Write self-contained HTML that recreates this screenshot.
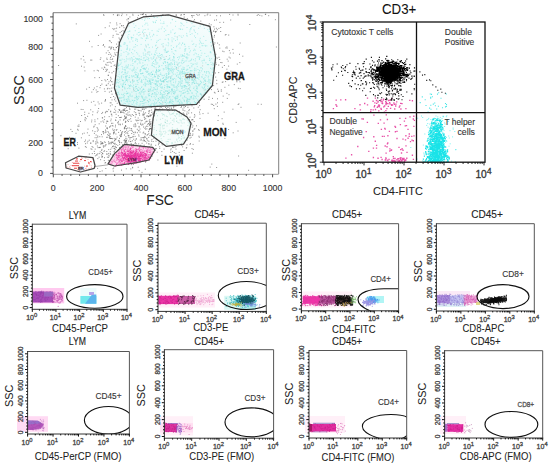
<!DOCTYPE html>
<html><head><meta charset="utf-8"><style>
html,body{margin:0;padding:0;background:#fff;}
svg{display:block;}
text{font-family:"Liberation Sans",sans-serif;}
</style></head><body>
<svg width="550" height="469" viewBox="0 0 550 469">
<rect width="550" height="469" fill="#fff"/>
<defs><linearGradient id="gg" x1="0" y1="0" x2="0" y2="1"><stop offset="0" stop-color="#f8fdfd"/><stop offset="0.45" stop-color="#ebfafa"/><stop offset="1" stop-color="#def7f5"/></linearGradient></defs>
<polygon points="128.4,23.4 143.7,16.8 168.5,14.9 209.9,26.3 215.6,57.4 212.4,85.5 196.5,104.4 138.0,107.4 120.2,105.2 114.4,88.0 119.4,42.8" fill="url(#gg)" stroke="none" stroke-width="0" stroke-linejoin="round"/>
<polygon points="155.0,109.6 176.0,110.2 187.0,117.0 191.0,123.2 188.0,137.0 183.5,144.2 166.4,146.4 151.4,135.2 153.0,119.0" fill="#f7fdfc" stroke="none" stroke-width="0" stroke-linejoin="round"/>
<path transform="scale(.1)" stroke="#5e5e5e" stroke-opacity="0.75" stroke-width="9" stroke-linecap="square" fill="none" d="M1435 137h0m-213 3h0m856 0h0m579 1h0m-1329 1h0m1052 0h0m-971 2h0m14-1h0m2 1h0m6 0h0m865 0h0m-1118 0h0m451 1h0m214-1h0m125 0h0m-512 2h0m384 0h0m742-1h0m72 0h0m-1520 2h0m380 0h0m299 0h0m-778 1h0m727-1h0m-495 2h0m727-1h0m336 2h0m-1139 1h0m881-1h0m-610 1h0m347 1h0m293 0h0m-1062 1h0m134 0h0m156 0h0m1051-1h0m-997 2h0m273 1h0m105 0h0m155 0h0m62-1h0m619 0h0m-1422 2h0m763-1h0m633 0h0m-1356 1h0m492 0h0m979 1h0m-765 0h0m127 0h0m118 0h0m38 1h0m-668 1h0m1082 0h0m-1182 8h0m-138 3h0m543 1h0m81 0h0m-547 7h0m-94 8h0m591 0h0m-587 3h0m659 8h0m809 0h0m-1484 1h0m895 1h0m142 1h0m-161 2h0m-210 9h0m72 0h0m-725 7h0m953 5h0m-37 1h0m-1097 4h0m64 2h0m35 7h0m892 1h0m-1330 1h0m1735 6h0m-386 3h0m-943 1h0m47 7h0m19 1h0m850 1h0m-866 1h0m-125 1h0m1045 8h0m-942 5h0m1010 2h0m-1155 2h0m188 0h0m-74 5h0m998 1h0m25 1h0m-1060 2h0m20 0h0m996 5h0m-1007 5h0m1035 1h0m-943 10h0m906 3h0m-976 2h0m979 1h0m-925 1h0m948 0h0m-921 0h0m915 1h0m51 0h0m-51 8h0m-955 3h0m915 2h0m-1105 12h0m157 1h0m13 3h0m1079 1h0m-7 5h0m34 1h0m-1072 2h0m-229 1h0m146 0h0m1013 0h0m-2 16h0m-1014 2h0m61 8h0m7 12h0m933 2h0m-1036 13h0m9 4h0m-208 2h0m288 7h0m-69 6h0m1035 3h0m253 1h0m-226 1h0m-1010 10h0m974 2h0m-1105 3h0m1158 2h0m-998 3h0m-213 4h0m50 0h0m145 9h0m-130 4h0m-127 0h0m1349 1h0m-1171 1h0m1666 0h0m-1646 1h0m-28 1h0m72 2h0m-50 0h0m53 2h0m-30 1h0m1123 2h0m13 2h0m-73 1h0m-1086 4h0m-5 4h0m28 2h0m1194 2h0m-1180 5h0m1145 7h0m-1213 1h0m1146 5h0m13 5h0m-1070 8h0m-77 1h0m-30 3h0m85 0h0m1155 1h0m30 1h0m-1227 11h0m46 2h0m1006-1h0m237 0h0m-1307 2h0m70 7h0m-42 7h0m1312 3h0m-1594 2h0m304 0h0m1153 7h0m-1185 3h0m1084-1h0m-1182 5h0m1294 2h0m-129 1h0m-1105 1h0m-257 7h0m315 0h0m1146 3h0m-1169 0h0m-100 2h0m68 1h0m1126 0h0m-1077 0h0m-281 5h0m68 1h0m11 0h0m120 10h0m1244 0h0m-1152 4h0m-28 6h0m-251 2h0m238 0h0m1119 2h0m190 1h0m-1325 0h0m1085 2h0m62-1h0m-1108 4h0m1261 10h0m-1315 2h0m1105 1h0m-1014 5h0m1038 2h0m-1124 0h0m17 1h0m1164 3h0m-1658 0h0m556 1h0m1144 5h0m-1471 1h0m344 1h0m-47 1h0m-270 7h0m202 0h0m1180 2h0m-1176 3h0m-28 4h0m136 8h0m-121 5h0m25 0h0m1209-1h0m-1196 2h0m-100 9h0m94 2h0m-126 3h0m-92 1h0m136 0h0m1324 3h0m-1172 2h0m-78 1h0m33 8h0m1095 3h0m-1067 2h0m1035 2h0m-1072 21h0m0 4h0m77 3h0m997 13h0m-1050 2h0m-159 4h0m46-1h0m1380 5h0m-1263 7h0m-36 7h0m-26 3h0m1118 5h0m-1149 2h0m87-1h0m-47 5h0m1309-1h0m-111 8h0m-1143 0h0m-23 2h0m31 0h0m1248 0h0m31 0h0m-170 1h0m-7 4h0m-1140 14h0m1085 0h0m-1149 4h0m109 2h0m1215 3h0m-55 6h0m-1221 0h0m37 0h0m-42 1h0m-56 2h0m1130 1h0m-1166 10h0m1279 7h0m-1356 1h0m107 3h0m-56 3h0m174 1h0m1266 2h0m-1305 0h0m1323 3h0m-1304 1h0m-54 2h0m30 0h0m-208 2h0m1311 1h0m-62 4h0m-1181 0h0m1279 2h0m-1251 2h0m152 10h0m1071 2h0m28 0h0m-1163 2h0m1133 0h0m-1070 0h0m-134 1h0m-61 6h0m176 0h0m-126 1h0m1176 1h0m-989 3h0m996 4h0m118 3h0m-1114 3h0m-34 6h0m1169 5h0m-1129 2h0m1071 12h0m-1096 4h0m955 6h0m-984 4h0m44 5h0m974 4h0m148 0h0m-98 4h0m-134 4h0m-986 3h0m1033-1h0m-942 3h0m-26 2h0m-251 4h0m318 1h0m-351 2h0m219 1h0m103 4h0m-109 0h0m-111 3h0m43 6h0m-67 2h0m1313 1h0m-233 4h0m181 1h0m-1073 0h0m93 0h0m-84 1h0m-95 2h0m-241 1h0m397 1h0m1217 5h0m-1398 1h0m1168 2h0m421 1h0m-467 0h0m500 1h0m-487 1h0m256 1h0m-1260 3h0m-170 3h0m1185 4h0m-141 1h0m-76 2h0m-816 1h0m735 1h0m-80 3h0m415 1h0m-434 0h0m115 1h0m-40 1h0m-661 1h0m140 3h0m306-1h0m137 0h0m246 3h0m-104 1h0m531 0h0m-898 2h0m298 0h0m-545 1h0m95 0h0m252-1h0m43 0h0m24 0h0m162 2h0m-408 0h0m303 1h0m-184 0h0m162 2h0m224 0h0m-380 3h0m139-1h0m-238 1h0m-473 2h0m680-1h0m-416 2h0m893 1h0m-720 1h0m293 0h0m-421 1h0m146 0h0m105 0h0m51 1h0m232 0h0m-202 1h0m-480 1h0m153 0h0m46 0h0m11 0h0m972 0h0m-1517 2h0m428-1h0m184 2h0m-594 0h0m360 1h0m42 0h0m209 0h0m139 1h0m422 0h0m-915 0h0m807 0h0m-987 1h0m773 1h0m4-1h0m63 1h0m-367 1h0m136 0h0m158 1h0m-478 1h0m0-1h0m49 0h0m2 2h0m450 0h0m134 0h0m-599 2h0m7-1h0m29 1h0m459-1h0m-456 2h0m115 0h0m12 0h0m99 0h0m391 1h0m-731 1h0m691 0h0m-629 1h0m193 0h0m-432 2h0m127 1h0m148 0h0m233-1h0m-281 2h0m-140 0h0m726 2h0m-720 1h0m270 2h0m-414 0h0m177 0h0m75 2h0m29-1h0m82 0h0m143 1h0m57-1h0m379 1h0m-814 0h0m475 0h0m-685 2h0m1148-1h0m247 0h0m-1103 2h0m94-1h0m-207 2h0m124 1h0m366-1h0m29 1h0m-339 1h0m4-1h0m11 0h0m136 1h0m187 1h0m-571 0h0m483 1h0m-402 0h0m224 1h0m638-1h0m-675 2h0m150 0h0m442-1h0m54 2h0m194 1h0m-1192 1h0m129 2h0m423-1h0m-48 2h0m94-1h0m50 1h0m493 0h0m-162 2h0m-606 2h0m266-1h0m471 2h0m-572 1h0m407-1h0m9 1h0m-730 0h0m48 1h0m-44 0h0m244 0h0m-38 2h0m114 0h0m95-1h0m-685 2h0m514 1h0m585-1h0m-676 1h0m172 0h0m61 1h0m365 0h0m-942 0h0m366 1h0m224 2h0m-214 0h0m-21 2h0m115-1h0m147 1h0m-209 2h0m97 0h0m-615 0h0m690 1h0m-322 1h0m293 1h0m707-1h0m-1065 2h0m374 0h0m-248 1h0m260 0h0m444 0h0m-638 2h0m155-1h0m-218 2h0m-372 0h0m614 0h0m-398 3h0m393 0h0m-439 2h0m435-1h0m-221 4h0m4 0h0m89 0h0m89 0h0m458 1h0m-686 1h0m729 0h0m-781 2h0m34 0h0m63-1h0m-406 1h0m352 0h0m242 3h0m-424 0h0m3 1h0m227 2h0m129-1h0m-130 2h0m-2 2h0m750 0h0m-739 3h0m196 0h0m764 0h0m-1359 0h0m444 0h0m-329 1h0m135 3h0m-263 2h0m597 0h0m-402 3h0m247 0h0m603-1h0m-654 1h0m258 0h0m428 0h0m576 2h0m-1301 1h0m728 0h0m-980 0h0m585 0h0m382 0h0m-998 2h0m237-1h0m203 0h0m42 0h0m-165 1h0m41 2h0m96 0h0m-213 1h0m224 0h0m39 0h0m758 1h0m-1328 2h0m256 1h0m305 0h0m-342 1h0m296 0h0m126 0h0m-464 1h0m226 3h0m56 0h0m161 0h0m-8 0h0m-280 1h0m-379 1h0m265 1h0m8-1h0m206 0h0m658 0h0m-992 2h0m559 0h0m-499 1h0m249-1h0m237 1h0m-38 1h0m-542 0h0m121 3h0m1325 2h0m-1108 1h0m245-1h0m-321 3h0m4 3h0m340 0h0m-115 2h0m41 0h0m-384 0h0m51 1h0m264-1h0m-251 1h0m1101 0h0m-742 3h0m1 1h0m19 0h0m-515 1h0m360-1h0m-151 4h0m24 0h0m203-1h0m76 2h0m3-1h0m-31 2h0m19 0h0m423-1h0m-513 1h0m827 1h0m-1044 2h0m-236 1h0m252 1h0m152 0h0m-567 1h0m551-1h0m89 0h0m-13 2h0m-261 2h0m340 1h0m-372 3h0m133-1h0m673 3h0m36 0h0m-858 1h0m-50 1h0m73 0h0m-351 1h0m477 1h0m103-1h0m106 1h0m39 0h0m-562 0h0m396 0h0m53 2h0m87-1h0m-689 1h0m469 1h0m-158 1h0m251 2h0m-197 1h0m-217 1h0m498 0h0m-339 2h0m295 0h0m63-1h0m469 1h0m-678 0h0m-274 4h0m104 3h0m169 1h0m49 0h0m-16 0h0m-212 1h0m183 0h0m2 1h0m251 2h0m1 0h0m-53 0h0m-183 1h0m45 0h0m202 0h0m-438 2h0m428-1h0m445 1h0m-971 1h0m267 0h0m225 0h0m32 0h0m-185 1h0m84 1h0m-273 1h0m-247 0h0m577 1h0m-681 1h0m740 0h0m-143 0h0m568 0h0m-1233 1h0m787 0h0m791 1h0m-1117 1h0m817 0h0m-839 2h0m344 1h0m-507 1h0m281 0h0m-210 0h0m-273 2h0m382 0h0m-31 2h0m167 0h0m17 0h0m73 0h0m602 0h0m-787 2h0m-279 2h0m458 0h0m546 1h0m-872 2h0m1322-1h0m-1406 1h0m168 2h0m139 0h0m646-1h0m-603 1h0m-602 2h0m532 0h0m-304 1h0m80 0h0m50 0h0m146 1h0m260-1h0m-451 2h0m317 2h0m-321 0h0m369 1h0m37 1h0m-377 0h0m159 0h0m26 0h0m-59 2h0m148 0h0m-63 2h0m-220 1h0m86 0h0m-263 1h0m262 0h0m216-1h0m22 0h0m958 1h0m-1246 0h0m59 0h0m71 2h0m215 0h0m-172 2h0m-417 0h0m-82 1h0m184 1h0m960-1h0m-587 2h0m134 0h0m-416 2h0m183 0h0m60 0h0m210 0h0m-388 1h0m-275 1h0m310-1h0m24 2h0m770 0h0m-27 1h0m-803 1h0m354 1h0m720 1h0m-834 0h0m139 1h0m-463 1h0m200-1h0m-139 2h0m311 2h0m-426 1h0m284 0h0m-37 0h0m3 1h0m260 1h0m-272 1h0m727 0h0m-1034 1h0m194 0h0m821 0h0m-12 1h0m-1286 2h0m673 0h0m217-1h0m-212 2h0m2 0h0m-312 2h0m118-1h0m295 2h0m-177 0h0m776 1h0m-657 2h0m116-1h0m-346 2h0m249-1h0m-143 2h0m-1 0h0m-209 1h0m24 1h0m237 0h0m70 1h0m-158 2h0m-193 0h0m93 0h0m373 0h0m549 1h0m-1298 1h0m398 0h0m818 0h0m-454 0h0m-388 2h0m248 0h0m170-1h0m-197 1h0m143 1h0m-129 0h0m118 0h0m-608 2h0m137-1h0m489 0h0m-473 1h0m443 1h0m-312 2h0m802 0h0m-362 1h0m-786 1h0m443 1h0m1054 0h0m-1149 0h0m4 0h0m5 0h0m6 1h0m27-1h0m326 1h0m-765 1h0m422 1h0m133-1h0m106 1h0m-203 2h0m-4 1h0m112 0h0m30 0h0m38 2h0m133 0h0m-31 0h0m-286 2h0m208-1h0m203 1h0m-45 0h0m-271 3h0m167 2h0m-560 2h0m113-1h0m435 0h0m468 1h0m-978 1h0m255 1h0m40 1h0m53 0h0m204 2h0m-513 0h0m333 0h0m87 0h0m126 1h0m-332 1h0m285-1h0m-173 1h0m66 0h0m118 1h0m-198 0h0m13 1h0m-73 0h0m10 1h0m71-1h0m22 0h0m228 1h0m477-1h0m-739 2h0m-374 1h0m610 0h0m71-1h0m-257 2h0m-294 1h0m448-1h0m-609 2h0m84 0h0m600-1h0m-573 2h0m349-1h0m-222 1h0m170 1h0m-212 1h0m75 1h0m-146 0h0m158 1h0m65 1h0m-143 2h0m56 0h0m17 0h0m71 1h0m57 0h0m100-1h0m-86 2h0m-493 0h0m250 1h0m191 0h0m-511 2h0m168 1h0m106-1h0m31 0h0m106 1h0m-209 1h0m53 0h0m128 0h0m159-1h0m220 0h0m-448 1h0m78 1h0m491-1h0m-680 1h0m243 1h0m270 0h0m170-1h0m-562 2h0m240 1h0m-131 0h0m213 1h0m-337 1h0m-159 0h0m171 0h0m84 1h0m378-1h0m417 0h0m-594 1h0m52 1h0m24 0h0m-429 1h0m131 0h0m401 1h0m-344 0h0m168 1h0m199 0h0m-505 0h0m892 1h0m-704 0h0m-421 1h0m557 1h0m599-1h0m-769 1h0m63 2h0m-164 0h0m524 0h0m37 1h0m248 0h0m-537 3h0m-277 0h0m386 1h0m69 0h0m46 1h0m-182 1h0m32-1h0m-753 2h0m524-1h0m640 1h0m-779 3h0m185-1h0m-91 3h0m242 0h0m-401 0h0m59 1h0m17 1h0m104 1h0m606 0h0m-547 1h0m-292 1h0m204 0h0m15 1h0m-286 0h0m639 1h0m104 1h0m229 1h0m-99 2h0m2 0h0m-693 1h0m714 0h0m-887 1h0m868 0h0m-801 1h0m63 0h0m11 0h0m157 0h0m52 0h0m-220 2h0m202-1h0m672 1h0m-887 0h0m182 0h0m-43 3h0m744 2h0m-1074 0h0m351 3h0m5 0h0m452 1h0m323 1h0m-1238 1h0m875-1h0m6 0h0m149 2h0m-802 0h0m42 3h0m808 0h0m-119 0h0m-722 2h0m100 1h0m88-1h0m49 0h0m777 1h0m-846 2h0m620 3h0m-522 1h0m-38 1h0m408 0h0m-538 4h0m824 0h0m-795 3h0m-103 6h0m96 0h0m29 1h0m658-1h0m-108 2h0m-515 0h0m-101 2h0m139 0h0m2 0h0m429 4h0m136 1h0m84 1h0m-774 1h0m725 1h0m-593 4h0m774 2h0m-165 2h0m-813 1h0m140-1h0m17 0h0m-106 2h0m-74 0h0m56 1h0m46-1h0m3 1h0m40 2h0m-175 1h0m177 3h0m-101 2h0m137-1h0m-90 5h0m73 3h0m36-1h0m669 1h0m-826 1h0m651 0h0m-484 1h0m-181 4h0m1432 2h0m-1296 1h0m-71 3h0m6 0h0m494 0h0m-735 2h0m78 1h0m212 5h0m-83 0h0m95 2h0m-66 1h0m25 2h0m75 4h0m-142 5h0m28 11h0m767 1h0m-194 2h0m-495 3h0m11 3h0m-52 0h0m416 10h0m229 1h0m-233 4h0m-399 5h0m-6 4h0m1068 11h0m-784 3h0m-20 2h0m455 16h0m333 9h0m-720 1h0m-56 1h0m840 2h0m-1029 5h0m189-1h0m-350 5h0m82 1h0m72 3h0m133 0h0m45 1h0m145 3h0m-238 9h0m1271 2h0m-1094 4h0m-370 2h0m111 2h0m-133 4h0m420 9h0"/>
<path transform="scale(.1)" stroke="#8ae5e0" stroke-opacity="0.7" stroke-width="9" stroke-linecap="square" fill="none" d="M1680 157h0m-144 10h0m78 0h0m-42 8h0m-29 0h0m-48 10h0m-17 1h0m-26 1h0m-30 5h0m301 2h0m1 4h0m-119 4h0m-159 1h0m416 0h0m-299 2h0m194 9h0m-226 3h0m107 2h0m-85 1h0m358 2h0m-43 1h0m-332 3h0m19 0h0m254 1h0m-102 2h0m-250 3h0m14 0h0m138 1h0m31 1h0m173 1h0m107-1h0m-290 2h0m-293 2h0m486 3h0m-374 6h0m29 4h0m360 5h0m195 0h0m-675 2h0m314 1h0m138 0h0m-519 2h0m135 1h0m329 1h0m176-1h0m16 1h0m55-1h0m-380 7h0m291 5h0m-570 1h0m527 0h0m117 8h0m57 0h0m-655 3h0m518 0h0m-294 2h0m31-1h0m148 1h0m14 1h0m103 1h0m-427 2h0m108 0h0m236 1h0m272 1h0m-647 1h0m355 0h0m271 1h0m-349 2h0m212 0h0m-507 3h0m467-1h0m-243 3h0m-136 3h0m-168 1h0m591 2h0m-372 1h0m136 1h0m-413 1h0m4-1h0m793 2h0m8 0h0m-516 1h0m-303 3h0m362-1h0m255 2h0m204 0h0m-676 1h0m-169 4h0m140 0h0m30 1h0m527 0h0m-570 1h0m65 1h0m260 1h0m44 2h0m-256 1h0m370 4h0m-122 2h0m176 1h0m55 1h0m139 1h0m-744 3h0m164 1h0m-247 2h0m393 0h0m8 1h0m214-1h0m-408 2h0m43 2h0m-202 2h0m106 0h0m426 2h0m-206 0h0m-92 1h0m-181 2h0m403 1h0m-319 0h0m361 1h0m285 1h0m-595 2h0m421-1h0m-666 2h0m532-1h0m-371 2h0m310 0h0m122-1h0m165 2h0m-564 4h0m31 1h0m-192 3h0m3 4h0m504-1h0m136 1h0m-625 1h0m-52 0h0m42 0h0m92 2h0m308-1h0m54 1h0m-310 1h0m-41 4h0m56-1h0m524 0h0m-540 3h0m220 2h0m-398 0h0m73 1h0m380 0h0m-423 1h0m53 1h0m284 2h0m-52 1h0m-87 3h0m173 1h0m88-1h0m-400 1h0m346 3h0m-364 3h0m228 0h0m413-1h0m-242 2h0m-300 1h0m604-1h0m-139 6h0m-592 0h0m243 0h0m-197 3h0m756 0h0m-408 3h0m396 1h0m-115 0h0m-705 2h0m268 5h0m116 1h0m424 0h0m-863 1h0m765 0h0m-181 2h0m-574 1h0m573 4h0m206 0h0m-15 2h0m-385 0h0m305 2h0m-250 1h0m307 0h0m-756 3h0m9-1h0m540 2h0m60-1h0m-436 2h0m70-1h0m137 0h0m-263 2h0m489-1h0m84 1h0m204 2h0m-317 2h0m-359 1h0m506-1h0m-479 1h0m179 1h0m-102 0h0m-357 2h0m848 1h0m-781 0h0m102 2h0m310 1h0m339 0h0m8-1h0m-317 1h0m58 1h0m344 0h0m-841 1h0m357-1h0m438 0h0m-863 4h0m850 0h0m-203 1h0m-640 0h0m745 2h0m-68 2h0m-537 1h0m111 3h0m-125 1h0m187-1h0m473 1h0m-724 1h0m461 2h0m-242 1h0m636 1h0m-329 4h0m-146 1h0m-86 4h0m324 0h0m-328 2h0m-293 0h0m4 2h0m23 0h0m147 1h0m270 0h0m135 0h0m279 0h0m-186 1h0m-676 1h0m451 1h0m132 0h0m-523 0h0m123 4h0m192 0h0m10 0h0m479 2h0m-835 2h0m656 0h0m-739 2h0m794 1h0m-255 0h0m389 0h0m-581 1h0m376 0h0m-84 1h0m-505 1h0m412 1h0m146-1h0m-57 4h0m-163 1h0m-424 3h0m227 2h0m232 1h0m386 0h0m-435 2h0m-117 0h0m342 1h0m-657 1h0m431 0h0m-355 3h0m-36 2h0m830 0h0m-91 3h0m-450 1h0m384-1h0m-357 3h0m139 0h0m314 0h0m-203 3h0m120 1h0m-636 0h0m543 0h0m-660 1h0m165 1h0m78 0h0m61 2h0m29 0h0m199 1h0m124-1h0m-252 3h0m-428 2h0m796 0h0m-705 0h0m545 1h0m318-1h0m-598 1h0m11 1h0m336 1h0m-82 0h0m69 0h0m-692 3h0m266 1h0m153-1h0m406 1h0m-514 0h0m94 0h0m-381 2h0m618 0h0m-253 2h0m507 2h0m-690 0h0m437 1h0m316 0h0m-302 0h0m6 2h0m-510 2h0m725 0h0m-273 1h0m-527 1h0m471-1h0m77 0h0m171 0h0m-570 2h0m49 0h0m125 0h0m33 0h0m350 0h0m-102 0h0m-674 2h0m348 0h0m452 0h0m-460 0h0m57 3h0m562 1h0m-713 1h0m39-1h0m522 0h0m-684 2h0m561 2h0m-135 0h0m51 1h0m-59 0h0m132 0h0m-567 4h0m55-1h0m83 2h0m171-1h0m-74 1h0m561 0h0m-704 1h0m95 0h0m207 1h0m136 0h0m164 1h0m122 0h0m-161 1h0m-689 1h0m100 0h0m8 0h0m-5 1h0m502-1h0m-590 1h0m635 1h0m-262 1h0m-433 0h0m157 0h0m14 1h0m165 0h0m-146 0h0m57 0h0m526 1h0m47-1h0m-560 2h0m-142 0h0m-97 1h0m168 0h0m141 1h0m129-1h0m105 1h0m-484 1h0m634-1h0m-550 2h0m773 0h0m-336 1h0m278 0h0m-900 0h0m252 1h0m-251 1h0m124 0h0m106 1h0m277-1h0m35 1h0m-289 1h0m643 1h0m-268 0h0m202 0h0m13 1h0m-834 1h0m520 1h0m223 1h0m-595 1h0m461 0h0m33 0h0m15-1h0m-605 1h0m757 0h0m-695 1h0m235 1h0m331 1h0m-355 2h0m118 0h0m-305 2h0m296 1h0m105 0h0m-501 0h0m520 3h0m75-1h0m265 3h0m-547 1h0m96-1h0m156 3h0m-288 2h0m152-1h0m382 1h0m-846 1h0m180 0h0m239-1h0m163 0h0m-392 2h0m25-1h0m226 0h0m317 1h0m56 0h0m100 0h0m-944 3h0m728 1h0m-581 2h0m207-1h0m284 1h0m-111 1h0m242 1h0m-578 1h0m322 0h0m-15 0h0m-159 1h0m198 1h0m415-1h0m-409 2h0m-520 0h0m344 1h0m379-1h0m39 1h0m-223 0h0m2 1h0m185-1h0m148 3h0m33-1h0m-421 1h0m382 0h0m12 0h0m-637 2h0m332 0h0m-307 2h0m-279 1h0m67 2h0m46-1h0m363 0h0m104 1h0m-252 1h0m68 0h0m540 1h0m-804 0h0m557 1h0m35 0h0m-489 1h0m91-1h0m-342 2h0m530 0h0m98 0h0m-625 2h0m101 1h0m588 0h0m-183 1h0m-150 2h0m-317 1h0m569 0h0m-369 1h0m552 0h0m-294 1h0m239 0h0m-374 2h0m-287 0h0m18 2h0m67 0h0m381-1h0m-308 2h0m171 0h0m244 0h0m-149 3h0m216-1h0m236 2h0m-889 1h0m318 1h0m448-1h0m-112 3h0m112-1h0m-784 2h0m148-1h0m-111 1h0m17 0h0m63 1h0m603 1h0m-763 2h0m248 0h0m247 0h0m14 0h0m442 1h0m-689 2h0m287 0h0m107 1h0m-354 1h0m474 0h0m160 0h0m-819 0h0m153 1h0m195 0h0m-316 1h0m357 0h0m183 0h0m-534 1h0m329-1h0m154 1h0m-122 0h0m141 1h0m39 0h0m-475 1h0m325-1h0m108 1h0m-608 0h0m177 0h0m181 1h0m393-1h0m-732 1h0m163 3h0m154-1h0m566 2h0m-566 1h0m38 0h0m339-1h0m-166 3h0m87-1h0m7 0h0m-86 2h0m-220 1h0m146 0h0m193 0h0m43-1h0m51 0h0m-289 2h0m252 0h0m-558 0h0m510 1h0m-659 1h0m329 0h0m13 0h0m326 0h0m-134 2h0m120-1h0m-583 1h0m487 1h0m183-1h0m-463 1h0m56 2h0m-130 0h0m223 0h0m120 0h0m25 1h0m-345 0h0m-78 2h0m667-1h0m17 1h0m-507 0h0m139 0h0m327 0h0m-203 1h0m-562 1h0m73 0h0m-161 2h0m874 0h0m-176 2h0m158 0h0m-493 0h0m569 0h0m-872 1h0m116 1h0m436-1h0m288 1h0m37 0h0m-912 2h0m505 0h0m-211 1h0m261 0h0m212-1h0m15 1h0m-203 1h0m64 0h0m-12 0h0m60 2h0m-344 0h0m42 0h0m124 1h0m-32 0h0m367 0h0m-574 2h0m358 1h0m-19 1h0m-343 0h0m201 2h0m405 0h0m-832 2h0m150 0h0m270 0h0m121-1h0m20 1h0m-439 1h0m427 0h0m-427 0h0m142 0h0m326 0h0m-602 1h0m-57 1h0m164 1h0m330 0h0m67-1h0m-20 1h0m178 0h0m13 1h0m-398 1h0m18-1h0m143 0h0m-161 2h0m75 0h0m389 0h0m38 1h0m-241 2h0m-206 1h0m192-1h0m282 2h0m56 0h0m-751 2h0m577 0h0m-83 0h0m50 0h0m-523 2h0m165 2h0m74 0h0m145 1h0m362 0h0m-833 0h0m21 0h0m678 0h0m74 0h0m-853 3h0m5-1h0m447 0h0m98 1h0m41-1h0m-483 2h0m258 0h0m506 0h0m-748 1h0m35-1h0m-191 2h0m85-1h0m243 0h0m85 2h0m322-1h0m-544 3h0m-109 2h0m389 0h0m61 1h0m-499 1h0m21 0h0m86 0h0m363 0h0m214-1h0m125 1h0m-647 1h0m-180 0h0m354 1h0m234-1h0m209 0h0m88 0h0m-32 2h0m-414 0h0m-347 2h0m179 0h0m466 0h0m-405 1h0m-128 0h0m407 1h0m318-1h0m-157 1h0m-753 2h0m44-1h0m193 2h0m516 0h0m-76 0h0m85 0h0m0 1h0m-36 1h0m10-1h0m-463 2h0m138 0h0m53 0h0m26 1h0m93-1h0m-218 1h0m79 1h0m216 0h0m165 1h0m-237 1h0m231 0h0m-524 0h0m219 1h0m181 0h0m-653 0h0m462 1h0m101-1h0m-63 2h0m47 1h0m-631 1h0m91 0h0m820-1h0m-648 2h0m20 0h0m72-1h0m317 0h0m143 0h0m-661 1h0m337 1h0m-504 1h0m764 0h0m15 0h0m-719 2h0m69 0h0m100-1h0m26 1h0m235-1h0m207 1h0m62-1h0m178 0h0m-828 1h0m459 0h0m189 1h0m132-1h0m-882 2h0m344 0h0m19-1h0m-263 1h0m-85 2h0m90 0h0m225 0h0m33-1h0m25 0h0m337 0h0m29 1h0m-552 1h0m332-1h0m251 1h0m149 0h0m-875 2h0m4 0h0m186-1h0m108 1h0m109 0h0m299 1h0m-556 1h0m260 0h0m412-1h0m-468 1h0m26 0h0m1 0h0m479 0h0m-855 2h0m333 0h0m290-1h0m-600 2h0m117 0h0m-29 1h0m344-1h0m274 1h0m-623 0h0m78 0h0m136 1h0m31-1h0m45 2h0m234 0h0m-296 1h0m8 1h0m47 0h0m436-1h0m-754 1h0m776 0h0m-881 2h0m78 0h0m390-1h0m-258 2h0m379-1h0m223 0h0m-593 1h0m168 1h0m295-1h0m-548 2h0m-166 1h0m870 0h0m61-1h0m-923 2h0m619 0h0m-544 0h0m202 0h0m228 0h0m262 0h0m-206 1h0m197 0h0m-627 2h0m114 0h0m443 0h0m154 0h0m-155 1h0m60 0h0m-413 1h0m246 1h0m-253 0h0m587 1h0m-281 0h0m-483 1h0m488 2h0m-102 0h0m238 1h0m158 0h0m-654 0h0m52 1h0m36-1h0m431 2h0m-90 1h0m126-1h0m-508 2h0m288 0h0m-230 2h0m6 0h0m31-1h0m-359 2h0m216-1h0m-223 2h0m244-1h0m42 0h0m-305 1h0m670 1h0m114-1h0m-531 1h0m-207 2h0m104-1h0m18 1h0m670 0h0m-48 1h0m-331 2h0m375 0h0m0-1h0m-811 2h0m203-1h0m605 0h0m-587 2h0m223 1h0m49 0h0m-441 1h0m453 0h0m253 1h0m68 0h0m-483 0h0m73 2h0m239 1h0m-37 2h0m137-1h0m-766 1h0m75 1h0m155 0h0m539 0h0m-808 0h0m131 1h0m532-1h0m272 1h0m-661 0h0m346 2h0m100 0h0m-712 1h0m890-1h0m-522 1h0m227 1h0m264 0h0m27-1h0m-713 1h0m742 1h0m-942 1h0m507 0h0m-445 0h0m74 0h0m289 0h0m280 0h0m-540 2h0m358-1h0m-267 1h0m257 1h0m88-1h0m-534 1h0m466 0h0m38 1h0m236-1h0m-296 1h0m19 0h0m328 1h0m-274 1h0m4 0h0m-526 1h0m617 0h0m-236 1h0m334-1h0m31 1h0m-583 1h0m-51 1h0m78 0h0m630-1h0m47 0h0m-898 1h0m704 0h0m-364 2h0m288 1h0m206-1h0m-515 1h0m-225 1h0m384 1h0m-51 2h0m-373 1h0m720 1h0m65 2h0m45-1h0m-804 1h0m24 0h0m67 0h0m603 1h0m-566 1h0m456-1h0m12 0h0m-367 1h0m391 1h0m-543 1h0m699-1h0m-800 1h0m125 1h0m27-1h0m570 0h0m-486 1h0m63 0h0m92 1h0m-210 1h0m-96 1h0m222 0h0m-51 2h0m32 0h0m518 0h0m-496 1h0m157 0h0m1 1h0m25 0h0m-576 2h0m211-1h0m122 1h0m278 0h0m68 0h0m-349 0h0m377 1h0m22-1h0m56 1h0m-227 1h0m40 0h0m-340 0h0m56 0h0m578 0h0m-532 1h0m378 2h0m56 0h0m-585 1h0m8-1h0m233 0h0m-273 2h0m167 2h0m155 0h0m-9 1h0m249-1h0m-420 2h0m45-1h0m73 0h0m74 0h0m396 1h0m-663 1h0m41 0h0m422 0h0m-304 1h0m-304 1h0m88 0h0m9 1h0m446-1h0m166 1h0m-478 1h0m374-1h0m-168 1h0m266 0h0m-85 2h0m-155 1h0m83 0h0m-94 1h0m29-1h0m-429 2h0m118 0h0m419 1h0m196-1h0m-867 1h0m793 2h0m-335 1h0m412 0h0m-635 0h0m272 0h0m-523 3h0m383 0h0m296 0h0m221 1h0m-483 0h0m-404 2h0m503 0h0m151-1h0m1 0h0m79 0h0m-627 1h0m405 0h0m-451 2h0m32-1h0m117 0h0m170 1h0m265 0h0m137 1h0m-701 0h0m231 2h0m117 0h0m68 0h0m330-1h0m-483 1h0m349 1h0m129-1h0m-595 2h0m-141 1h0m385-1h0m62 1h0m-36 0h0m-375 2h0m60-1h0m379 1h0m70 0h0m-410 1h0m-210 1h0m23 0h0m396-1h0m14 2h0m413-1h0m-864 3h0m397-1h0m31 0h0m402 0h0m-832 2h0m63 0h0m315 0h0m84 0h0m9 0h0m-414 1h0m332 2h0m405 0h0m-186 1h0m152 2h0m-633 0h0m366 3h0m144-1h0m-312 1h0m-252 1h0m77 1h0m354 1h0m-313 0h0m51 0h0m210 1h0m181 0h0m-183 1h0m2 0h0m145-1h0m175 0h0m-641 1h0m715 1h0m-629 0h0m37 1h0m-144 1h0m132 0h0m101-1h0m50 0h0m165 1h0m44 0h0m207-1h0m-614 2h0m174 0h0m371 1h0m-592 0h0m319 0h0m319 1h0m-442 1h0m178 0h0m6-1h0m73 0h0m-383 2h0m455 0h0m109-1h0m-716 1h0m46 0h0m471 1h0m6 0h0m21 1h0m121-1h0m-615 1h0m648 1h0m-699 1h0m189-1h0m434 3h0m-665 1h0m26 0h0m473 0h0m-274 0h0m334 0h0m263 0h0m-665 1h0m24 1h0m261 0h0m32 0h0m75-1h0m-395 2h0m119 0h0m158-1h0m290 1h0m-708 0h0m2 1h0m217 0h0m124 0h0m225 1h0m-146 2h0m133 1h0m199 0h0m-378 0h0m0 1h0m26 0h0m-414 0h0m189 2h0m297 0h0m92 0h0m-487 1h0m588-1h0m-445 1h0m215 1h0m287 0h0m-268 0h0m-424 2h0m34-1h0m627 1h0m-32 0h0m-165 2h0m174 0h0m10 0h0m-640 0h0m245 0h0m3 0h0m96 1h0m304-1h0m-139 1h0m40 1h0m-356 0h0m-151 2h0m162-1h0m-16 1h0m287 1h0m116 1h0m-49 0h0m101 1h0m85 0h0m-604 0h0m243 1h0m260 0h0m-213 1h0m-340 0h0m114 1h0m69-1h0m28 2h0m52-1h0m24 1h0m101-1h0m-470 1h0m85 1h0m24 0h0m638 2h0m-774 1h0m545 0h0m-96 1h0m183 0h0m-268 1h0m64-1h0m166 1h0m-592 0h0m629 1h0m25 1h0m-571 0h0m191 1h0m211-1h0m-440 2h0m31-1h0m430 0h0m66 1h0m-384 1h0m541-1h0m-674 2h0m139-1h0m13 0h0m6 0h0m196 1h0m78 0h0m-220 1h0m245-1h0m46 1h0m98 0h0m-596 1h0m34 0h0m29-1h0m395 0h0m-369 2h0m334 0h0m116 2h0m-329 0h0m60 1h0m324 0h0m-219 1h0m-276 4h0m85-1h0m231 0h0m11 1h0m12 0h0m-40 1h0m123-1h0m159 1h0m-620 0h0m227 2h0m5-1h0m308 0h0m74 1h0m-506 1h0m514 0h0m2-1h0m-165 1h0m24 0h0m7 0h0m78 0h0m-662 2h0m363 0h0m-314 0h0m230 1h0m-266 2h0m168-1h0m11 0h0m290 1h0m180-1h0m-541 1h0m176 1h0m69 1h0m57 0h0m146 0h0m-196 1h0m76 0h0m177-1h0m-466 1h0m150 0h0m327 1h0m-84 1h0m-476 1h0m309 1h0m95 0h0m-182 0h0m-30 2h0m-184 2h0m43 0h0m466 1h0m-174 0h0m280 0h0m-457 2h0m113 0h0m135 1h0m109 0h0m-439 0h0m36 1h0m181-1h0m-400 2h0m70-1h0m253 1h0m216-1h0m-528 2h0m508-1h0m-397 1h0m164 1h0m74 0h0m-80 1h0m-254 1h0m35-1h0m237 0h0m23 0h0m239 1h0m4 0h0m-110 0h0m-248 2h0m232 0h0m-80 2h0m134-1h0m-317 2h0m181 0h0m98-1h0m-126 1h0m18 0h0m-67 2h0m-67 0h0m-108 2h0m253 0h0m-114 1h0m-114 1h0m125 3h0m24 0h0m-44 2h0"/>
<path transform="scale(.1)" stroke="#5fd8d6" stroke-opacity="0.55" stroke-width="9" stroke-linecap="square" fill="none" d="M1797 431h0m-241 27h0m209 10h0m93 19h0m-205 16h0m-201 6h0m220 4h0m-174 7h0m153 0h0m451 1h0m-436 3h0m-299 2h0m66 5h0m-144 7h0m183 2h0m18 2h0m450 5h0m-317 4h0m-186 0h0m259 5h0m133 3h0m-90 9h0m-100 4h0m137 3h0m84 0h0m-162 4h0m-188 0h0m-189 10h0m291 0h0m-92 2h0m124 2h0m45 1h0m39 2h0m-129 3h0m314 1h0m-461 7h0m101-1h0m350 1h0m-414 1h0m-92 3h0m-46 9h0m324 3h0m36 2h0m124 2h0m-90 2h0m-168 0h0m206 3h0m-148 4h0m-68 4h0m135 3h0m-525 5h0m107 0h0m402 2h0m-501 1h0m434 5h0m35 0h0m-223 1h0m319 7h0m-155 1h0m65 5h0m-391 0h0m496 4h0m-2 0h0m-103 4h0m182-1h0m-377 2h0m-18 2h0m-14 2h0m279-1h0m393 1h0m-343 3h0m-129 0h0m51 1h0m341 2h0m-315 2h0m108-1h0m-379 2h0m305 0h0m-290 0h0m-277 6h0m74 0h0m109 0h0m274 1h0m51 1h0m38 0h0m-404 2h0m247 0h0m-227 2h0m257 0h0m420 5h0m-614 0h0m333 1h0m91 0h0m-356 1h0m227 0h0m-474 6h0m337 1h0m4 1h0m-97 3h0m476 0h0m-470 1h0m42-1h0m301 1h0m63 2h0m-628 1h0m577-1h0m-142 1h0m-337 1h0m-76 4h0m157 1h0m-5 1h0m-19 3h0m12 0h0m414 1h0m-171 2h0m-157 1h0m160-1h0m326 1h0m-142 1h0m-53 0h0m-232 2h0m-38 1h0m84-1h0m316 1h0m-564 1h0m-128 0h0m248 0h0m36 2h0m-23 3h0m484 1h0m-333 1h0m-15 2h0m-197 3h0m235-1h0m51 2h0m-447 0h0m66 0h0m36 2h0m-116 2h0m203 2h0m369 0h0m-275 1h0m-11 1h0m156 0h0m316 3h0m-761 0h0m188 2h0m240-1h0m98 1h0m-203 1h0m-197 1h0m283 0h0m-313 2h0m-55 1h0m581-1h0m-507 3h0m300 1h0m-37 1h0m73 1h0m164 1h0m-74 0h0m-53 2h0m-162 1h0m272 2h0m41-1h0m-500 2h0m-196 4h0m408 1h0m43 2h0m85 1h0m138 2h0m-412 1h0m430 0h0m-289 2h0m48 0h0m-152 1h0m-233 3h0m214 1h0m233 2h0m109 0h0m231 1h0m-554 1h0m325 1h0m116 0h0m-611 0h0m303 0h0m174 0h0m200 0h0m-247 1h0m-123 2h0m-161 1h0m23 1h0m118 1h0m58 0h0m32 0h0m-200 0h0m130 3h0m-151 0h0m39 5h0m352 0h0m-493 0h0m188 2h0m-383 1h0m53 1h0m725 0h0m-36 0h0m-767 3h0m948 0h0m-289 0h0m126 3h0m-331 4h0m-64 1h0m368 1h0m-432 1h0m69-1h0m47 1h0m178 0h0m-168 1h0m-107 2h0m-252 1h0m459 3h0m92 0h0m-500 2h0m265-1h0m170 2h0m-404 0h0m438 2h0m66 1h0m-239 2h0m-29 1h0m-276 1h0m559-1h0m-34 2h0m140-1h0m-452 4h0m-283 1h0m594 1h0m-465 3h0m6-1h0m261 2h0m220-1h0m18 0h0m-90 3h0m-581 1h0m58 0h0m398 2h0m47 1h0m7 0h0m-80 3h0m-76 1h0m31 1h0m195 2h0m49 2h0m119 1h0m-216 4h0m-286 2h0m284 1h0m-145 1h0m-135 1h0m253 8h0m138 1h0m-444 1h0m333 3h0m-66 3h0m101 1h0m-335 2h0m375 0h0m-120 1h0m63 0h0m-296 4h0m197 0h0m50 6h0m-290 0h0m207 2h0m146 1h0m-206 2h0m509-1h0m-129 3h0m-190 2h0m7 0h0m-467 0h0m614 0h0m-450 7h0m90 0h0m-46 1h0m35 2h0m-28 9h0m529 2h0m-531 4h0m359 3h0m67 3h0m-547 2h0m92 2h0m194 1h0m-52 5h0m19 0h0m290 3h0m-545 2h0m463 1h0m187-1h0m-565 1h0m309 5h0m-7 1h0m187 2h0m72 4h0m-746 2h0m106 0h0m186 1h0m-111 8h0m-104 1h0m-70 3h0m509 2h0m108 6h0m-192 6h0m-43 4h0m-60 0h0m143 22h0m53 2h0m-94 12h0m-328 6h0"/>
<path transform="scale(.1)" stroke="#999" stroke-opacity="0.5" stroke-width="9" stroke-linecap="square" fill="none" d="M1435 338h0m-34 8h0m64 5h0m307 17h0m342 92h0m-652 1h0m170 8h0m-55 5h0m-99 49h0m185 42h0m-58 13h0m-38 2h0m74 16h0m489 46h0m-358 1h0m254 16h0m-244 21h0m-18 12h0m-182 66h0m120 14h0m245 23h0m-622 7h0m317 16h0m248 7h0m166 12h0m-74 4h0m-87 7h0m-9 40h0m-551 1h0m-111 10h0m818 2h0m-704 8h0m146 6h0m193 23h0m336 8h0m-539 59h0m393 2h0m111 18h0m-349 2h0m-241 35h0"/>
<path transform="scale(.1)" stroke="#a0dcd0" stroke-opacity="0.65" stroke-width="9" stroke-linecap="square" fill="none" d="M1751 1109h0m-191 1h0m22 2h0m20 1h0m143 1h0m-61 3h0m53 13h0m-41 1h0m-75 3h0m173-1h0m-67 2h0m-162 1h0m202 0h0m4 3h0m-41 1h0m-14 2h0m-83 2h0m7 1h0m129 1h0m23 1h0m-91 0h0m-74 3h0m186 0h0m-65 6h0m-173 1h0m72 1h0m17 3h0m148 0h0m-20 0h0m-36 2h0m-214 1h0m131 3h0m33 16h0m59-1h0m-138 2h0m113 4h0m95 1h0m-9 2h0m-221 2h0m238 3h0m-190 3h0m147 1h0m73 1h0m-307 0h0m173 0h0m-67 3h0m52-1h0m87 1h0m-137 9h0m91 0h0m4-1h0m-29 6h0m-90 2h0m162 0h0m70 1h0m13 3h0m-240 2h0m124 0h0m-126 0h0m55 2h0m82 1h0m51 0h0m63 0h0m-83 3h0m73 4h0m-224 0h0m-59 2h0m82 0h0m200 3h0m15 3h0m-181 1h0m-128 1h0m-11 1h0m15 3h0m39 1h0m-102 4h0m87-1h0m252 2h0m-276 2h0m37 0h0m171 1h0m-141 1h0m-46 9h0m273 0h0m-355 9h0m181 0h0m-120 2h0m38 3h0m132 1h0m-143 4h0m140 3h0m114 0h0m-343 3h0m198 2h0m-10 2h0m-128 2h0m216 0h0m-118 2h0m0 1h0m-134 2h0m203 0h0m129 0h0m-131 1h0m-83 3h0m160 0h0m-122 0h0m-70 4h0m179 1h0m-233 0h0m105 2h0m-68 1h0m-25 0h0m245 2h0m-195 5h0m182-1h0m-15 7h0m-216 0h0m191 0h0m-83 1h0m0 4h0m69 1h0m-137 2h0m-53 2h0m107 1h0m73-1h0m-152 1h0m-16 2h0m74 1h0m-146 1h0m27 1h0m263 2h0m-55 1h0m-232 1h0m75 0h0m218 7h0m-47 2h0m-179 1h0m-62 1h0m93 4h0m178 0h0m-279 1h0m309 6h0m27 3h0m-81 0h0m39 5h0m12 2h0m-56 0h0m26 4h0m-201 1h0m202 5h0m-46 0h0m104 0h0m-171 1h0m-19 1h0m185 6h0m-99 2h0m-148 5h0m178 0h0m-121 8h0m-15 2h0m21 0h0m94 0h0m54 2h0m-80 3h0m-32 6h0m5 3h0m92 1h0m-98 8h0m-50 0h0m1 2h0"/>
<polygon points="108.0,163.8 114.5,153.6 124.6,144.3 152.7,147.3 154.9,150.0 149.0,160.0 136.4,162.7 114.5,166.0" fill="#fcdcf0" stroke="none" stroke-width="0" stroke-linejoin="round"/>
<path transform="scale(.1)" stroke="#f486ca" stroke-opacity="0.75" stroke-width="10" stroke-linecap="square" fill="none" d="M1262 1450h0m14 4h0m40 2h0m-59 2h0m38 0h0m-49 2h0m87 0h0m1 0h0m17 0h0m-34 1h0m-67 3h0m-17 1h0m52 1h0m33 0h0m-47 1h0m12 1h0m37 0h0m-62 1h0m28 1h0m43 0h0m3 0h0m84 0h0m4 1h0m8 0h0m13 0h0m16 0h0m-221 1h0m52 0h0m-45 1h0m22 0h0m183 0h0m-221 1h0m248 0h0m-151 1h0m1 0h0m4 0h0m64 0h0m89 0h0m-227 1h0m242 0h0m-215 1h0m-50 1h0m22 0h0m27 0h0m204 0h0m-158 1h0m-93 2h0m200 0h0m77 0h0m15 0h0m-91 1h0m97 0h0m-278 2h0m57 0h0m1 0h0m84 0h0m59 0h0m30 0h0m49 0h0m-302 2h0m3 0h0m269 0h0m-278 1h0m73 1h0m56 0h0m113 0h0m36 0h0m-285 2h0m69 0h0m96 0h0m90 0h0m47 0h0m-303 2h0m57 0h0m-42 2h0m172 0h0m11 0h0m107 0h0m-296 1h0m272 0h0m-197 1h0m65 0h0m-161 1h0m94 0h0m64 0h0m10 0h0m101 0h0m-249 1h0m60 0h0m55 0h0m58 0h0m32 0h0m40 0h0m43 0h0m29 0h0m-285 1h0m143 0h0m5 0h0m9 0h0m65 0h0m2 0h0m64 0h0m-150 1h0m-96 1h0m68 0h0m-136 1h0m246 0h0m-243 1h0m96 0h0m20 0h0m-40 1h0m150 0h0m-184 1h0m29 0h0m53 0h0m138 0h0m3 0h0m-74 1h0m65 0h0m-300 2h0m53 0h0m203 0h0m-202 1h0m23 0h0m-24 1h0m126 0h0m100 0h0m8 0h0m-191 1h0m157 0h0m61 0h0m-269 1h0m34 0h0m119 0h0m-195 1h0m85 0h0m197 0h0m-228 1h0m93 0h0m51 0h0m49 0h0m11 0h0m18 0h0m30 0h0m23 0h0m15 0h0m-237 1h0m-4 1h0m213 0h0m-251 1h0m159 0h0m3 0h0m-180 1h0m224 0h0m-161 1h0m111 0h0m9 0h0m19 0h0m-7 1h0m-251 1h0m297 0h0m59 0h0m-170 1h0m-177 1h0m125 0h0m-68 1h0m12 0h0m24 0h0m41 0h0m58 0h0m153 0h0m-324 1h0m99 0h0m181 0h0m32 0h0m-213 1h0m25 0h0m22 0h0m-33 1h0m116 0h0m-230 1h0m107 0h0m147 1h0m-97 1h0m-197 1h0m54 0h0m-32 1h0m53 0h0m43 0h0m31 0h0m39 0h0m23 0h0m132 0h0m-301 1h0m130 0h0m15 0h0m110 0h0m34 0h0m-290 1h0m40 0h0m174 0h0m29 0h0m62 0h0m-269 1h0m53 0h0m153 0h0m-247 1h0m65 0h0m192 0h0m-276 1h0m28 0h0m166 0h0m9 0h0m55 0h0m67 0h0m-350 1h0m17 1h0m36 0h0m23 0h0m47 0h0m-57 2h0m66 0h0m5 0h0m113 0h0m31 0h0m7 0h0m-254 1h0m56 0h0m178 0h0m38 0h0m-209 1h0m85 0h0m8 1h0m32 0h0m13 0h0m-235 1h0m23 0h0m293 0h0m-323 1h0m219 0h0m-129 1h0m84 0h0m131 0h0m-298 1h0m250 0h0m78 0h0m-314 1h0m196 0h0m-167 1h0m97 0h0m11 0h0m9 0h0m-168 1h0m155 0h0m-119 1h0m-11 1h0m10 0h0m41 0h0m-9 1h0m34 0h0m2 0h0m168 0h0m-240 1h0m99 0h0m169 0h0m4 0h0m30 0h0m-310 1h0m4 0h0m41 0h0m18 0h0m35 0h0m4 0h0m105 0h0m90 0h0m-265 1h0m21 0h0m32 0h0m3 0h0m81 0h0m-1 1h0m-107 1h0m140 0h0m122 0h0m-261 1h0m67 0h0m30 0h0m-129 1h0m276 0h0m19 0h0m-325 1h0m1 0h0m222 0h0m25 0h0m-171 1h0m88 0h0m170 0h0m-326 1h0m18 0h0m0 0h0m13 0h0m31 0h0m206 0h0m-153 1h0m-86 1h0m154 0h0m24 0h0m-250 1h0m335 0h0m17 0h0m-51 1h0m21 0h0m19 0h0m5 0h0m-119 1h0m11 0h0m60 0h0m25 0h0m23 0h0m-182 1h0m29 0h0m114 0h0m49 0h0m-223 1h0m-117 1h0m107 0h0m7 0h0m37 0h0m9 0h0m-88 1h0m61 0h0m50 0h0m97 0h0m4 0h0m-283 1h0m135 0h0m187 1h0m19 0h0m-254 1h0m0 0h0m97 0h0m79 0h0m17 0h0m-193 1h0m24 0h0m14 0h0m154 0h0m-219 1h0m175 0h0m47 0h0m-304 2h0m41 0h0m111 0h0m14 0h0m-109 1h0m117 0h0m34 0h0m4 0h0m133 0h0m-254 2h0m-72 1h0m228 0h0m17 0h0m-230 1h0m212 0h0m54 0h0m-105 1h0m59 0h0m61 0h0m43 1h0m-286 1h0m40 0h0m62 0h0m19 0h0m46 0h0m-183 1h0m38 0h0m23 0h0m72 0h0m-167 1h0m39 0h0m3 0h0m18 0h0m74 0h0m18 0h0m144 1h0m-3 1h0m13 0h0m10 0h0m-264 1h0m127 0h0m-66 1h0m32 0h0m180 0h0m-253 1h0m201 0h0m11 0h0m-182 1h0m2 0h0m189 0h0m-311 1h0m65 0h0m10 0h0m40 0h0m55 0h0m92 0h0m-281 1h0m59 0h0m47 0h0m190 0h0m68 0h0m2 0h0m-319 1h0m47 0h0m133 0h0m22 0h0m81 0h0m-286 1h0m64 0h0m-70 1h0m261 0h0m-82 1h0m87 0h0m64 0h0m-359 1h0m52 0h0m30 0h0m-56 1h0m156 0h0m45 0h0m-143 1h0m22 0h0m117 0h0m95 0h0m2 0h0m-250 1h0m17 0h0m220 0h0m21 0h0m8 0h0m-276 2h0m50 0h0m18 0h0m163 0h0m-310 1h0m87 1h0m128 0h0m27 0h0m-120 1h0m11 0h0m113 0h0m-148 2h0m53 0h0m13 0h0m9 0h0m-140 1h0m112 0h0m79 0h0m90 1h0m-244 1h0m106 0h0m113 0h0m-292 1h0m4 0h0m31 0h0m105 0h0m26 0h0m47 0h0m-200 1h0m174 1h0m6 0h0m43 0h0m5 0h0m-234 1h0m154 0h0m15 0h0m25 0h0m54 0h0m-243 1h0m277 0h0m-247 2h0m11 0h0m18 0h0m23 0h0m53 0h0m14 0h0m-121 1h0m54 0h0m168 0h0m19 0h0m1 0h0m-102 3h0m90 0h0m-283 1h0m85 0h0m83 0h0m-66 1h0m-26 1h0m0 0h0m61 0h0m7 0h0m-151 1h0m110 0h0m109 0h0m8 0h0m-74 1h0m-127 1h0m95 0h0m12 0h0m38 0h0m-55 2h0m34 0h0m78 0h0m-215 1h0m61 0h0m7 0h0m69 0h0m43 0h0m37 0h0m-159 1h0m-77 2h0m27 0h0m109 0h0m34 0h0m-88 1h0m126 0h0m-15 1h0m-64 1h0m21 0h0m0 2h0m45 0h0m-74 1h0m-106 1h0m86 1h0m5 2h0m-14 1h0m17 0h0m13 0h0m-42 1h0m20 0h0m-30 1h0m29 0h0m24 0h0m9 2h0m-21 1h0m-41 2h0m0 1h0m1 0h0m-6 6h0m1 0h0"/>
<path transform="scale(.1)" stroke="#e8339f" stroke-opacity="0.75" stroke-width="10" stroke-linecap="square" fill="none" d="M1319 1457h0m79 8h0m0 8h0m34 5h0m-126 2h0m84 8h0m-86 1h0m3 1h0m53 0h0m-89 1h0m33 3h0m63 0h0m-114 1h0m129 2h0m-169 2h0m32 2h0m86 3h0m-35 3h0m65 0h0m-81 1h0m36 0h0m78 0h0m2 0h0m-181 2h0m144 0h0m106 1h0m4 0h0m-183 1h0m50 1h0m31 0h0m-94 1h0m-26 1h0m35 0h0m21 0h0m28 0h0m31 0h0m-55 2h0m22 0h0m40 0h0m37 1h0m-67 1h0m-125 1h0m64 0h0m28 0h0m45 0h0m-34 2h0m15 0h0m-105 1h0m86 0h0m8 0h0m156 0h0m21 1h0m-285 1h0m92 0h0m12 0h0m39 0h0m49 0h0m30 0h0m66 0h0m-274 1h0m134 0h0m66 0h0m-19 1h0m-156 1h0m69 0h0m33 0h0m34 0h0m20 0h0m12 0h0m-121 1h0m29 0h0m-35 1h0m6 0h0m9 0h0m113 0h0m-221 1h0m178 0h0m-68 1h0m-125 1h0m65 0h0m6 0h0m100 0h0m-10 1h0m103 0h0m-204 1h0m1 0h0m37 0h0m29 0h0m38 0h0m92 0h0m-220 1h0m52 0h0m79 0h0m49 0h0m8 0h0m-185 1h0m149 0h0m79 0h0m-85 1h0m-129 1h0m83 0h0m31 0h0m7 0h0m-34 1h0m89 0h0m-99 1h0m21 0h0m13 0h0m24 0h0m10 0h0m37 0h0m34 0h0m-220 1h0m100 0h0m16 0h0m-78 1h0m105 0h0m22 0h0m-144 1h0m33 0h0m-71 1h0m31 0h0m141 0h0m-154 1h0m15 0h0m34 0h0m20 0h0m51 0h0m9 0h0m55 0h0m18 0h0m23 0h0m29 0h0m-241 1h0m210 0h0m8 0h0m40 0h0m-341 1h0m143 0h0m34 0h0m72 0h0m96 0h0m-242 1h0m21 0h0m117 0h0m26 0h0m-94 1h0m10 0h0m57 0h0m114 0h0m-166 1h0m21 0h0m30 0h0m-170 1h0m28 0h0m33 0h0m54 0h0m44 0h0m4 0h0m26 0h0m-50 1h0m5 0h0m52 0h0m12 0h0m1 0h0m10 0h0m-291 1h0m49 0h0m29 0h0m3 0h0m9 0h0m2 0h0m3 0h0m19 0h0m72 0h0m14 0h0m45 0h0m57 0h0m-286 1h0m81 0h0m69 0h0m20 0h0m23 0h0m32 0h0m4 0h0m20 0h0m-233 1h0m105 0h0m51 0h0m10 0h0m95 0h0m-185 1h0m5 0h0m5 0h0m7 0h0m15 0h0m10 0h0m4 0h0m3 0h0m10 0h0m3 0h0m17 0h0m70 0h0m-140 1h0m9 0h0m24 0h0m5 0h0m-65 1h0m17 0h0m47 0h0m3 0h0m19 0h0m10 0h0m53 0h0m-178 1h0m2 1h0m41 0h0m23 0h0m41 0h0m53 0h0m40 0h0m55 0h0m-296 1h0m72 0h0m56 0h0m18 0h0m25 0h0m17 0h0m15 0h0m1 0h0m5 0h0m24 0h0m39 0h0m-174 1h0m54 0h0m27 0h0m68 0h0m-171 1h0m12 0h0m20 0h0m0 0h0m5 0h0m10 0h0m16 0h0m82 0h0m6 0h0m-129 1h0m22 0h0m41 0h0m51 0h0m-119 1h0m16 0h0m9 0h0m15 0h0m81 0h0m0 0h0m1 0h0m-133 1h0m48 0h0m22 0h0m14 0h0m0 0h0m36 0h0m4 0h0m5 0h0m30 0h0m-58 1h0m17 0h0m4 0h0m17 0h0m-157 1h0m188 0h0m-264 1h0m27 0h0m68 0h0m28 0h0m7 0h0m1 0h0m0 0h0m9 0h0m53 0h0m89 0h0m-13 1h0m1 0h0m40 0h0m-237 1h0m118 0h0m5 0h0m15 0h0m75 0h0m-270 1h0m1 0h0m60 0h0m142 0h0m0 0h0m-167 1h0m91 0h0m8 0h0m-78 1h0m22 0h0m30 0h0m59 0h0m136 0h0m-264 1h0m72 0h0m9 0h0m10 0h0m6 0h0m20 0h0m144 0h0m-191 1h0m19 0h0m107 0h0m24 0h0m3 0h0m-178 1h0m56 0h0m26 0h0m11 0h0m102 0h0m-294 1h0m67 0h0m103 0h0m114 0h0m-189 1h0m26 0h0m2 0h0m119 0h0m79 0h0m-196 1h0m56 0h0m95 0h0m-142 1h0m3 0h0m8 0h0m4 0h0m10 0h0m7 0h0m6 0h0m29 0h0m4 0h0m-139 1h0m1 0h0m15 0h0m33 0h0m76 0h0m10 0h0m64 0h0m37 0h0m32 0h0m-287 1h0m19 0h0m95 0h0m23 0h0m35 0h0m11 0h0m4 0h0m61 0h0m-214 1h0m67 0h0m11 0h0m41 0h0m26 0h0m-90 1h0m3 0h0m6 0h0m5 0h0m34 0h0m30 0h0m13 0h0m0 0h0m-116 1h0m71 0h0m60 0h0m-133 1h0m1 0h0m7 0h0m83 0h0m11 0h0m15 0h0m40 0h0m-263 1h0m61 0h0m57 0h0m167 0h0m-228 1h0m191 0h0m-118 1h0m23 0h0m29 0h0m14 0h0m23 0h0m-129 1h0m3 0h0m48 0h0m46 0h0m26 0h0m71 0h0m23 0h0m-147 1h0m30 0h0m-179 1h0m88 0h0m44 0h0m65 0h0m-123 1h0m33 0h0m5 0h0m6 0h0m8 0h0m-56 1h0m51 0h0m24 0h0m112 0h0m-241 1h0m76 0h0m-30 1h0m97 0h0m56 0h0m80 0h0m-131 1h0m1 0h0m-73 1h0m6 0h0m2 0h0m68 0h0m2 0h0m37 0h0m2 0h0m29 0h0m-80 1h0m34 0h0m28 0h0m-56 1h0m58 0h0m20 0h0m24 0h0m-253 1h0m37 0h0m58 0h0m21 0h0m-2 2h0m71 0h0m15 0h0m7 0h0m34 0h0m5 0h0m-129 1h0m32 0h0m44 0h0m0 0h0m10 0h0m-132 1h0m71 0h0m43 0h0m15 0h0m-73 1h0m7 0h0m-48 1h0m49 0h0m18 0h0m-136 1h0m137 0h0m29 0h0m-242 1h0m79 0h0m0 0h0m39 0h0m16 0h0m37 0h0m144 0h0m-140 1h0m7 0h0m4 0h0m29 0h0m7 0h0m-169 1h0m148 0h0m13 0h0m-44 1h0m-41 1h0m123 0h0m-171 1h0m71 0h0m29 0h0m-36 1h0m26 0h0m6 0h0m-38 1h0m10 0h0m68 0h0m8 0h0m-4 1h0m39 0h0m-63 1h0m29 0h0m-62 2h0m-1 1h0m45 0h0m-102 1h0m34 2h0m53 0h0m12 2h0m-39 1h0m-109 1h0m47 0h0m56 0h0m1 2h0m1 0h0m53 0h0m12 0h0m-140 1h0m114 1h0m-101 1h0m1 4h0m77 0h0m-35 3h0m-1 2h0m-118 2h0m49 5h0"/>
<path transform="scale(.1)" stroke="#f09a9a" stroke-opacity="0.8" stroke-width="10" stroke-linecap="square" fill="none" d="M851 1575h0m-35 3h0m42 4h0m-36 2h0m103 6h0m-161 2h0m116 2h0m-81 19h0m85 9h0m28 0h0m-188 4h0m161 1h0m-92 10h0m-113 9h0m217 3h0m-186 6h0m202 4h0m-67 2h0m-150 6h0m-25 2h0m192 0h0m87 1h0m-155 5h0m119 0h0m-213 1h0m-36 2h0m17 2h0m172 6h0m36 0h0m-88 2h0m62 2h0m-86 5h0m65 2h0m-47 8h0m63 3h0"/>
<rect x="73.00" y="162.70" width="6.00" height="1.10" fill="#e83636" fill-opacity="0.85"/>
<rect x="72.00" y="165.10" width="7.00" height="1.10" fill="#e83636" fill-opacity="0.85"/>
<rect x="75.00" y="160.50" width="3.00" height="1.10" fill="#e83636" fill-opacity="0.85"/>
<rect x="78.00" y="167.30" width="4.00" height="1.10" fill="#e83636" fill-opacity="0.85"/>
<rect x="74.00" y="167.70" width="3.00" height="1.10" fill="#e83636" fill-opacity="0.85"/>
<rect x="84.00" y="160.00" width="2.00" height="1.10" fill="#e83636" fill-opacity="0.85"/>
<rect x="88.00" y="162.50" width="2.00" height="1.10" fill="#e83636" fill-opacity="0.85"/>
<rect x="80.00" y="159.00" width="2.00" height="1.10" fill="#e83636" fill-opacity="0.85"/>
<rect x="86.00" y="165.50" width="2.00" height="1.10" fill="#e83636" fill-opacity="0.85"/>
<rect x="90.00" y="161.00" width="1.50" height="1.10" fill="#e83636" fill-opacity="0.85"/>
<rect x="76.00" y="158.30" width="2.00" height="1.10" fill="#e83636" fill-opacity="0.85"/>
<line x1="95.00" y1="166.50" x2="108.00" y2="164.80" stroke="#999" stroke-width="0.8"/>
<polygon points="128.4,23.4 143.7,16.8 168.5,14.9 209.9,26.3 215.6,57.4 212.4,85.5 196.5,104.4 138.0,107.4 120.2,105.2 114.4,88.0 119.4,42.8" fill="none" stroke="#454545" stroke-width="1.25" stroke-linejoin="round"/>
<polygon points="155.0,109.6 176.0,110.2 187.0,117.0 191.0,123.2 188.0,137.0 183.5,144.2 166.4,146.4 151.4,135.2 153.0,119.0" fill="none" stroke="#454545" stroke-width="1.25" stroke-linejoin="round"/>
<polygon points="108.0,163.8 114.5,153.6 124.6,144.3 152.7,147.3 154.9,150.0 149.0,160.0 136.4,162.7 114.5,166.0" fill="none" stroke="#454545" stroke-width="1.25" stroke-linejoin="round"/>
<polygon points="65.5,162.8 78.5,156.2 93.0,157.6 95.0,165.5 94.2,168.3 80.5,172.0 66.0,168.0" fill="none" stroke="#454545" stroke-width="1.25" stroke-linejoin="round"/>
<line x1="53.10" y1="12.70" x2="278.70" y2="12.70" stroke="#808080" stroke-width="1.0"/>
<line x1="278.70" y1="12.70" x2="278.70" y2="174.00" stroke="#808080" stroke-width="1.0"/>
<line x1="53.10" y1="12.70" x2="53.10" y2="174.50" stroke="#555" stroke-width="1.0"/>
<line x1="53.10" y1="174.30" x2="278.70" y2="174.30" stroke="#9a9a9a" stroke-width="1.0"/>
<line x1="50.10" y1="173.40" x2="53.10" y2="173.40" stroke="#333" stroke-width="0.9"/>
<line x1="51.50" y1="167.14" x2="53.10" y2="167.14" stroke="#333" stroke-width="0.9"/>
<line x1="51.50" y1="160.88" x2="53.10" y2="160.88" stroke="#333" stroke-width="0.9"/>
<line x1="51.50" y1="154.62" x2="53.10" y2="154.62" stroke="#333" stroke-width="0.9"/>
<line x1="51.50" y1="148.36" x2="53.10" y2="148.36" stroke="#333" stroke-width="0.9"/>
<line x1="50.10" y1="142.10" x2="53.10" y2="142.10" stroke="#333" stroke-width="0.9"/>
<line x1="51.50" y1="135.84" x2="53.10" y2="135.84" stroke="#333" stroke-width="0.9"/>
<line x1="51.50" y1="129.58" x2="53.10" y2="129.58" stroke="#333" stroke-width="0.9"/>
<line x1="51.50" y1="123.32" x2="53.10" y2="123.32" stroke="#333" stroke-width="0.9"/>
<line x1="51.50" y1="117.06" x2="53.10" y2="117.06" stroke="#333" stroke-width="0.9"/>
<line x1="50.10" y1="110.80" x2="53.10" y2="110.80" stroke="#333" stroke-width="0.9"/>
<line x1="51.50" y1="104.54" x2="53.10" y2="104.54" stroke="#333" stroke-width="0.9"/>
<line x1="51.50" y1="98.28" x2="53.10" y2="98.28" stroke="#333" stroke-width="0.9"/>
<line x1="51.50" y1="92.02" x2="53.10" y2="92.02" stroke="#333" stroke-width="0.9"/>
<line x1="51.50" y1="85.76" x2="53.10" y2="85.76" stroke="#333" stroke-width="0.9"/>
<line x1="50.10" y1="79.50" x2="53.10" y2="79.50" stroke="#333" stroke-width="0.9"/>
<line x1="51.50" y1="73.24" x2="53.10" y2="73.24" stroke="#333" stroke-width="0.9"/>
<line x1="51.50" y1="66.98" x2="53.10" y2="66.98" stroke="#333" stroke-width="0.9"/>
<line x1="51.50" y1="60.72" x2="53.10" y2="60.72" stroke="#333" stroke-width="0.9"/>
<line x1="51.50" y1="54.46" x2="53.10" y2="54.46" stroke="#333" stroke-width="0.9"/>
<line x1="50.10" y1="48.20" x2="53.10" y2="48.20" stroke="#333" stroke-width="0.9"/>
<line x1="51.50" y1="41.94" x2="53.10" y2="41.94" stroke="#333" stroke-width="0.9"/>
<line x1="51.50" y1="35.68" x2="53.10" y2="35.68" stroke="#333" stroke-width="0.9"/>
<line x1="51.50" y1="29.42" x2="53.10" y2="29.42" stroke="#333" stroke-width="0.9"/>
<line x1="51.50" y1="23.16" x2="53.10" y2="23.16" stroke="#333" stroke-width="0.9"/>
<line x1="50.10" y1="16.90" x2="53.10" y2="16.90" stroke="#333" stroke-width="0.9"/>
<line x1="53.30" y1="174.30" x2="53.30" y2="177.30" stroke="#333" stroke-width="0.9"/>
<line x1="62.07" y1="174.30" x2="62.07" y2="175.90" stroke="#333" stroke-width="0.9"/>
<line x1="70.84" y1="174.30" x2="70.84" y2="175.90" stroke="#333" stroke-width="0.9"/>
<line x1="79.62" y1="174.30" x2="79.62" y2="175.90" stroke="#333" stroke-width="0.9"/>
<line x1="88.39" y1="174.30" x2="88.39" y2="175.90" stroke="#333" stroke-width="0.9"/>
<line x1="97.16" y1="174.30" x2="97.16" y2="177.30" stroke="#333" stroke-width="0.9"/>
<line x1="105.93" y1="174.30" x2="105.93" y2="175.90" stroke="#333" stroke-width="0.9"/>
<line x1="114.70" y1="174.30" x2="114.70" y2="175.90" stroke="#333" stroke-width="0.9"/>
<line x1="123.48" y1="174.30" x2="123.48" y2="175.90" stroke="#333" stroke-width="0.9"/>
<line x1="132.25" y1="174.30" x2="132.25" y2="175.90" stroke="#333" stroke-width="0.9"/>
<line x1="141.02" y1="174.30" x2="141.02" y2="177.30" stroke="#333" stroke-width="0.9"/>
<line x1="149.79" y1="174.30" x2="149.79" y2="175.90" stroke="#333" stroke-width="0.9"/>
<line x1="158.56" y1="174.30" x2="158.56" y2="175.90" stroke="#333" stroke-width="0.9"/>
<line x1="167.34" y1="174.30" x2="167.34" y2="175.90" stroke="#333" stroke-width="0.9"/>
<line x1="176.11" y1="174.30" x2="176.11" y2="175.90" stroke="#333" stroke-width="0.9"/>
<line x1="184.88" y1="174.30" x2="184.88" y2="177.30" stroke="#333" stroke-width="0.9"/>
<line x1="193.65" y1="174.30" x2="193.65" y2="175.90" stroke="#333" stroke-width="0.9"/>
<line x1="202.42" y1="174.30" x2="202.42" y2="175.90" stroke="#333" stroke-width="0.9"/>
<line x1="211.20" y1="174.30" x2="211.20" y2="175.90" stroke="#333" stroke-width="0.9"/>
<line x1="219.97" y1="174.30" x2="219.97" y2="175.90" stroke="#333" stroke-width="0.9"/>
<line x1="228.74" y1="174.30" x2="228.74" y2="177.30" stroke="#333" stroke-width="0.9"/>
<line x1="237.51" y1="174.30" x2="237.51" y2="175.90" stroke="#333" stroke-width="0.9"/>
<line x1="246.28" y1="174.30" x2="246.28" y2="175.90" stroke="#333" stroke-width="0.9"/>
<line x1="255.06" y1="174.30" x2="255.06" y2="175.90" stroke="#333" stroke-width="0.9"/>
<line x1="263.83" y1="174.30" x2="263.83" y2="175.90" stroke="#333" stroke-width="0.9"/>
<line x1="272.60" y1="174.30" x2="272.60" y2="177.30" stroke="#333" stroke-width="0.9"/>
<text x="43.00" y="175.90" font-size="8.8" text-anchor="end" fill="#333" stroke="#333" stroke-width="0.12">0</text>
<text x="43.00" y="146.10" font-size="8.8" text-anchor="end" fill="#333" stroke="#333" stroke-width="0.12">200</text>
<text x="43.00" y="112.30" font-size="8.8" text-anchor="end" fill="#333" stroke="#333" stroke-width="0.12">400</text>
<text x="43.00" y="82.50" font-size="8.8" text-anchor="end" fill="#333" stroke="#333" stroke-width="0.12">600</text>
<text x="43.00" y="49.90" font-size="8.8" text-anchor="end" fill="#333" stroke="#333" stroke-width="0.12">800</text>
<text x="43.00" y="22.10" font-size="8.8" text-anchor="end" fill="#333" stroke="#333" stroke-width="0.12">1000</text>
<text x="53.30" y="190.60" font-size="8.8" text-anchor="middle" fill="#333" stroke="#333" stroke-width="0.12">0</text>
<text x="97.16" y="190.60" font-size="8.8" text-anchor="middle" fill="#333" stroke="#333" stroke-width="0.12">200</text>
<text x="141.02" y="190.60" font-size="8.8" text-anchor="middle" fill="#333" stroke="#333" stroke-width="0.12">400</text>
<text x="184.88" y="190.60" font-size="8.8" text-anchor="middle" fill="#333" stroke="#333" stroke-width="0.12">600</text>
<text x="228.74" y="190.60" font-size="8.8" text-anchor="middle" fill="#333" stroke="#333" stroke-width="0.12">800</text>
<text x="272.60" y="190.60" font-size="8.8" text-anchor="middle" fill="#333" stroke="#333" stroke-width="0.12">1000</text>
<text x="24.40" y="90.00" font-size="14.5" text-anchor="middle" fill="#222" stroke="#222" stroke-width="0.05" transform="rotate(-90 24.40 90.00)">SSC</text>
<text x="160.00" y="204.80" font-size="14.98" text-anchor="middle" fill="#222" stroke="#222" stroke-width="0.05" textLength="27.40" lengthAdjust="spacingAndGlyphs">FSC</text>
<text x="224.10" y="80.00" font-size="10.75" font-weight="bold" fill="#151515" stroke="#151515" stroke-width="0.3" textLength="20.60" lengthAdjust="spacingAndGlyphs">GRA</text>
<text x="203.30" y="135.90" font-size="10.75" font-weight="bold" fill="#151515" stroke="#151515" stroke-width="0.3" textLength="23.60" lengthAdjust="spacingAndGlyphs">MON</text>
<text x="164.30" y="164.20" font-size="10.75" font-weight="bold" fill="#151515" stroke="#151515" stroke-width="0.3" textLength="18.90" lengthAdjust="spacingAndGlyphs">LYM</text>
<text x="63.50" y="146.00" font-size="10.75" font-weight="bold" fill="#151515" stroke="#151515" stroke-width="0.3" textLength="12.30" lengthAdjust="spacingAndGlyphs">ER</text>
<text x="190.50" y="78.30" font-size="5.38" text-anchor="middle" fill="#505050" stroke="#505050" stroke-width="0.3" textLength="10.50" lengthAdjust="spacingAndGlyphs">GRA</text>
<text x="177.40" y="133.60" font-size="5.38" text-anchor="middle" fill="#505050" stroke="#505050" stroke-width="0.3" textLength="12.00" lengthAdjust="spacingAndGlyphs">MON</text>
<text x="132.00" y="160.50" font-size="4.4" text-anchor="middle" fill="#702058" stroke="#702058" stroke-width="0.3">LYM</text>
<text x="81.00" y="169.50" font-size="4.2" text-anchor="middle" fill="#445" stroke="#445" stroke-width="0.3">ER</text>
<path transform="scale(.1)" stroke="#e6409e" stroke-opacity="0.9" stroke-width="13.5" stroke-linecap="square" fill="none" d="M3675 981h0m79 0h0m164 5h0m-82 5h0m-380 6h0m355 0h0m-403 1h0m-46 3h0m470 0h0m68 0h0m2 2h0m-137 2h0m121 0h0m212-1h0m26 3h0m-393 5h0m50-1h0m29 4h0m47 0h0m110 3h0m-143 0h0m-44 3h0m84 2h0m33 3h0m-148 2h0m190 2h0m-172 3h0m240 0h0m-186 1h0m39 0h0m-213 1h0m179 0h0m39 0h0m14 1h0m141 0h0m-120 2h0m60 3h0m-15 3h0m-85 2h0m-500 1h0m240 0h0m315 0h0m-240 2h0m251 0h0m-136 1h0m132 1h0m-134 1h0m129 0h0m-170 4h0m48 0h0m204 2h0m-153 2h0m111 0h0m-589 2h0m412 1h0m103 1h0m-140 4h0m49 1h0m45 0h0m156 2h0m-220 3h0m133 9h0m-96 2h0m-476 1h0m725 0h0m-510 0h0m320 0h0m140 4h0m-62 0h0m-134 4h0m-58 1h0m-45 1h0m-106 2h0m128 0h0m127 8h0m-71 3h0m-81 5h0m137 7h0m19 28h0m-124 2h0m399 11h0m-38 7h0m-44 14h0m-57 1h0m-380 5h0m14 1h0m500 0h0m-259 5h0m-69 3h0m339 6h0m-100 7h0m-370 13h0m167 7h0m-58 2h0m-270 8h0m491 5h0m61 10h0m-12 2h0m-103 5h0m189 1h0m-184 8h0m-107 12h0m4 7h0m-38 3h0m266 0h0m-186 20h0m76-1h0m-308 3h0m292 1h0m139 23h0m-214 17h0m180 0h0m81 1h0m-316 5h0m18 0h0m276 0h0m-26 1h0m-354 3h0m-102 8h0m445 7h0m-111 3h0m60 6h0m25 8h0m65 2h0m13 6h0m-380 5h0m352 4h0m-227 14h0m-4 9h0m-108 14h0m294 6h0m-208 1h0m-274 5h0m292 2h0m120 7h0m-256 7h0m31 0h0m256 6h0m-122 2h0m108 7h0m-91 3h0m-4 3h0m118 0h0m-132 8h0m-210 4h0m382 10h0m-55 6h0m-154 1h0m-345 16h0m608 5h0m-191 14h0m-122 7h0m-77 2h0m124 3h0m151-1h0m-550 4h0m321 1h0m221 0h0m67 0h0m-287 1h0m154 0h0m0 0h0m15 0h0m81 1h0m9-1h0m-179 2h0m164 0h0m-41 1h0m20 2h0m-3 1h0m-24 1h0m4 0h0m-91 3h0m244 0h0m-112 2h0m-201 0h0m214 1h0m-29 2h0m40 0h0m-80 1h0m93 1h0m-206 0h0m19 1h0m50 0h0m128 2h0m-132 1h0m14 0h0m16 1h0m46 2h0m-2 1h0m28-1h0m-141 2h0m102 0h0m-57 1h0m93 0h0m-87 1h0m-9 1h0m21 1h0m3 0h0m99 1h0m-60 1h0m-29 1h0m28-1h0m11 4h0m11 1h0m41 0h0m-97 1h0"/>
<path transform="scale(.1)" stroke="#111" stroke-width="11" stroke-linecap="square" fill="none" d="M3794 574h0m-80 0h0m-52 17h0m406 0h0m-151 6h0m61 0h0m-99 5h0m-155 5h0m-81 8h0m96 6h0m271 1h0m-201 6h0m-24 2h0m-144 3h0m291 0h0m14 1h0m-447 0h0m131 2h0m-51 0h0m-207 4h0m327 0h0m349 2h0m-3 2h0m-163 1h0m217 0h0m0 2h0m-769 1h0m140 0h0m430 1h0m-149 0h0m-26 5h0m-297 1h0m431 1h0m-110 3h0m60 3h0m81 2h0m160-1h0m-594 2h0m376 0h0m-274 3h0m77-1h0m237 0h0m-545 3h0m619 0h0m-533 0h0m410 0h0m124 1h0m-155 0h0m-84 2h0m-256 3h0m424 0h0m-460 1h0m293 1h0m94 0h0m-489 2h0m466 0h0m46-1h0m-234 3h0m290-1h0m-154 5h0m-295 2h0m225 1h0m315 0h0m-654 1h0m464 2h0m197-1h0m-286 2h0m25-1h0m139 1h0m152 0h0m-449 0h0m34 0h0m128 0h0m96 3h0m58-1h0m-47 1h0m111 1h0m-622 2h0m420 0h0m46-1h0m73 1h0m-228 1h0m219 0h0m-227 1h0m147 0h0m140 0h0m-196 2h0m-265 1h0m434 2h0m107 1h0m-536 0h0m153 1h0m3 0h0m-74 3h0m323 0h0m84 1h0m26-1h0m14 0h0m158 0h0m-724 3h0m293-1h0m4 1h0m165 1h0m-217 1h0m322 1h0m1 2h0m29 1h0m11 0h0m13 0h0m-284 1h0m167-1h0m-201 2h0m-175 1h0m284-1h0m29 0h0m-122 2h0m-257 1h0m52 0h0m71 1h0m79-1h0m384 0h0m-680 2h0m153-1h0m71 1h0m501-1h0m-289 3h0m4-1h0m-275 1h0m273 1h0m18 0h0m57 1h0m25 0h0m-24 0h0m-305 2h0m316 0h0m-197 1h0m123 0h0m20-1h0m-63 2h0m-152 1h0m261-1h0m93 0h0m10 0h0m-286 2h0m21 4h0m67 0h0m-264 0h0m235 1h0m1 1h0m300-1h0m-107 2h0m-171 1h0m16 0h0m153-1h0m-236 2h0m243 1h0m-452 0h0m266 2h0m-238 0h0m130 0h0m216 1h0m11 1h0m-72 1h0m-411 1h0m353 0h0m41 0h0m59 0h0m120 2h0m-388 1h0m89 0h0m88-1h0m125 1h0m21-1h0m126 0h0m-205 2h0m108 0h0m-146 1h0m-157 1h0m22 0h0m144-1h0m102 1h0m40 0h0m-118 1h0m96 1h0m-581 1h0m284 0h0m-130 1h0m62 1h0m77-1h0m231 0h0m21 0h0m-151 1h0m-16 2h0m193 0h0m29 0h0m-439 0h0m185 0h0m73 0h0m-15 1h0m161 1h0m-70 2h0m155 0h0m-373 3h0m88 0h0m19 0h0m174 1h0m88 0h0m-248 0h0m38 1h0m225-1h0m-306 2h0m136 0h0m-28 2h0m122-1h0m-63 2h0m-123 1h0m-201 1h0m469 0h0m58 0h0m33-1h0m-402 1h0m65 2h0m143 0h0m-330 0h0m33 0h0m186 0h0m173 0h0m-232 2h0m115 0h0m1 0h0m132 0h0m-276 2h0m54 0h0m85 1h0m46-1h0m-124 2h0m43 0h0m10 0h0m270 0h0m-287 2h0m91-1h0m-140 1h0m69 1h0m195 0h0m-316 1h0m60 0h0m77 0h0m136-1h0m106 0h0m-238 1h0m97 1h0m-61 2h0m40 0h0m-201 0h0m23 2h0m128 3h0m33 0h0m58-1h0m-648 2h0m389 0h0m149-1h0m98 1h0m-35 0h0m46 0h0m-174 2h0m27 0h0m155-1h0m13 0h0m-209 1h0m43 0h0m19 0h0m-244 1h0m-90 1h0m250 1h0m79-1h0m109 1h0m44-1h0m-395 1h0m294 1h0m160-1h0m-125 2h0m79-1h0m-244 1h0m58 2h0m9 1h0m38 0h0m13 0h0m-135 1h0m242-1h0m42 1h0m-213 1h0m54 0h0m-225 1h0m105 0h0m64 0h0m72 2h0m75 0h0m-124 2h0m136-1h0m-106 1h0m-224 1h0m371 2h0m-46 1h0m58 1h0m8 0h0m-221 1h0m-99 1h0m166-1h0m-83 1h0m-114 2h0m84 1h0m169-1h0m-125 2h0m-158 1h0m211 0h0m31 0h0m94-1h0m-266 1h0m274 1h0m-523 2h0m301 0h0m61 2h0m57-1h0m-5 2h0m61 0h0m18 1h0m-429 1h0m78 0h0m243 0h0m13-1h0m-261 1h0m300 1h0m-155 1h0m117 2h0m261-1h0m-334 1h0m70 0h0m-140 2h0m-161 1h0m80 0h0m208 0h0m-81 2h0m102 0h0m16 4h0m-300 1h0m212 0h0m105 2h0m22-1h0m0 1h0m55 1h0m-86 0h0m72 0h0m-487 3h0m345 1h0m99 0h0m1-1h0m64 2h0m-238 1h0m120 0h0m-21 1h0m24 1h0m-379 2h0m265 5h0m106 0h0m35 0h0m-186 2h0m95 5h0m63 0h0m-147 3h0m43 1h0m-148 0h0m314 1h0m-250 2h0m8-1h0m429 1h0m-546 2h0m-32 2h0m351-1h0m43 0h0m-95 2h0m74 0h0m7 0h0m56 2h0m-49 1h0m61 1h0m-39 0h0m-181 3h0m351 1h0m-170 1h0m38 3h0m-86 2h0m45-1h0m-104 1h0m133 0h0m-373 4h0m298 1h0m-28 2h0m-6 1h0m91 3h0m-279 2h0m181 2h0m93 0h0m92 1h0m-100 1h0m-152 7h0m-19 5h0m93 1h0m96 0h0m-181 3h0m107 1h0m31 0h0m-11 2h0m6 0h0m16 0h0m165-1h0m-191 3h0m-67 2h0m94 2h0m-220 0h0m139 0h0m139 2h0m-121 1h0m-25 2h0m-82 1h0m-127 2h0m118-1h0m-23 6h0m235 0h0m-60 1h0m102 5h0m-253 14h0m40-1h0m105 2h0m-58 1h0m53 1h0m50 3h0m23 2h0m-121 3h0m113 2h0m-64 0h0m-63 3h0m55 2h0m31-1h0m79 2h0m-153 0h0m73 0h0m-23 5h0m25 1h0m-143 1h0"/>
<path transform="scale(.1)" stroke="#000" stroke-width="12" stroke-linecap="square" fill="none" d="M3868 564h0m-11 25h0m-67 6h0m30 11h0m193 0h0m-145 1h0m10 0h0m11 1h0m40 0h0m-137 2h0m264 0h0m-281 2h0m160 1h0m65 1h0m6 1h0m-5 2h0m-122 2h0m40 0h0m6 1h0m43 0h0m-19 1h0m-113 1h0m79 1h0m12 0h0m-23 1h0m-51 1h0m25 0h0m169 0h0m-155 1h0m9 0h0m1 0h0m124 0h0m-166 1h0m56 0h0m43 0h0m-73 1h0m3 0h0m4 0h0m-7 1h0m-61 2h0m132 2h0m12 0h0m-116 1h0m27 0h0m108 0h0m-131 1h0m14 0h0m69 0h0m17 0h0m20 0h0m1 0h0m57 0h0m-225 2h0m82 0h0m49 0h0m20 0h0m30 0h0m-133 1h0m26 0h0m43 0h0m1 2h0m-77 2h0m12 1h0m96 0h0m98 0h0m-204 1h0m44 0h0m5 0h0m5 0h0m-64 1h0m2 0h0m51 0h0m17 0h0m-47 1h0m121 0h0m-121 1h0m95 0h0m-97 1h0m36 0h0m16 0h0m34 0h0m6 0h0m-146 1h0m155 0h0m-185 1h0m23 0h0m34 0h0m72 0h0m-27 1h0m6 0h0m17 0h0m-52 1h0m14 0h0m5 0h0m66 0h0m17 0h0m7 1h0m-156 1h0m25 0h0m32 0h0m39 0h0m58 0h0m-107 1h0m52 0h0m16 0h0m11 0h0m-92 1h0m24 0h0m26 0h0m115 0h0m12 0h0m-192 1h0m64 0h0m27 0h0m25 0h0m19 0h0m15 0h0m-172 1h0m32 0h0m19 0h0m20 0h0m6 0h0m17 0h0m77 0h0m46 0h0m-132 1h0m9 0h0m7 0h0m43 0h0m14 0h0m11 0h0m-153 1h0m30 0h0m52 0h0m7 0h0m82 0h0m6 0h0m45 0h0m1 0h0m-212 1h0m96 0h0m35 0h0m11 0h0m-144 1h0m31 0h0m21 0h0m9 0h0m-21 1h0m35 0h0m2 0h0m47 0h0m24 0h0m20 1h0m-191 1h0m63 0h0m86 0h0m-122 1h0m28 0h0m13 0h0m10 0h0m23 0h0m14 0h0m64 0h0m4 0h0m22 0h0m-180 1h0m28 0h0m14 0h0m30 0h0m21 0h0m-213 1h0m123 0h0m1 0h0m53 0h0m37 0h0m35 0h0m16 0h0m-106 1h0m12 0h0m18 0h0m41 0h0m-145 1h0m126 0h0m20 0h0m-175 1h0m35 0h0m4 0h0m34 0h0m8 0h0m-71 1h0m4 0h0m102 0h0m68 0h0m-91 1h0m11 0h0m27 0h0m14 0h0m102 0h0m-217 1h0m60 0h0m100 0h0m79 0h0m-197 1h0m17 0h0m9 0h0m23 0h0m25 0h0m2 0h0m34 0h0m17 0h0m-150 1h0m11 0h0m85 0h0m25 0h0m22 0h0m50 0h0m60 0h0m-300 1h0m34 0h0m25 0h0m0 0h0m15 0h0m47 0h0m6 0h0m1 0h0m7 0h0m5 0h0m17 0h0m3 0h0m29 0h0m36 0h0m-188 1h0m6 0h0m11 0h0m17 0h0m23 0h0m29 0h0m0 0h0m5 0h0m4 0h0m20 0h0m11 0h0m32 0h0m33 0h0m45 0h0m104 0h0m-354 1h0m49 0h0m67 0h0m15 0h0m99 0h0m56 0h0m-275 1h0m26 0h0m24 0h0m1 0h0m19 0h0m30 0h0m42 0h0m40 0h0m42 0h0m-141 1h0m9 0h0m0 0h0m22 0h0m8 0h0m2 0h0m43 0h0m75 0h0m26 0h0m-289 1h0m40 0h0m4 0h0m47 0h0m11 0h0m3 0h0m4 0h0m18 0h0m1 0h0m105 0h0m80 0h0m-250 1h0m50 0h0m31 0h0m27 0h0m23 0h0m-162 1h0m23 0h0m19 0h0m5 0h0m42 0h0m3 0h0m6 0h0m3 0h0m39 0h0m18 0h0m4 0h0m4 0h0m19 0h0m-230 1h0m49 0h0m20 0h0m55 0h0m18 0h0m61 0h0m1 0h0m13 0h0m48 0h0m24 0h0m-194 1h0m28 0h0m35 0h0m26 0h0m45 0h0m9 0h0m-207 1h0m23 0h0m42 0h0m14 0h0m1 0h0m41 0h0m24 0h0m20 0h0m40 0h0m-227 1h0m51 0h0m7 0h0m31 0h0m33 0h0m25 0h0m6 0h0m18 0h0m10 0h0m11 0h0m10 0h0m53 0h0m17 0h0m-158 1h0m22 0h0m9 0h0m5 0h0m73 0h0m-189 1h0m42 0h0m0 0h0m22 0h0m4 0h0m17 0h0m5 0h0m12 0h0m9 0h0m4 0h0m4 0h0m2 0h0m6 0h0m35 0h0m3 0h0m29 0h0m16 0h0m-114 1h0m12 0h0m5 0h0m8 0h0m2 0h0m9 0h0m2 0h0m35 0h0m-194 1h0m54 0h0m45 0h0m7 0h0m13 0h0m32 0h0m30 0h0m2 0h0m12 0h0m23 0h0m-181 1h0m14 0h0m53 0h0m46 0h0m4 0h0m0 0h0m26 0h0m55 0h0m-202 1h0m59 0h0m18 0h0m19 0h0m23 0h0m18 0h0m4 0h0m8 0h0m9 0h0m6 0h0m20 0h0m-208 1h0m32 0h0m28 0h0m3 0h0m5 0h0m2 0h0m6 0h0m1 0h0m11 0h0m-59 1h0m18 0h0m87 0h0m1 0h0m9 0h0m19 0h0m10 0h0m21 0h0m55 0h0m-264 1h0m28 0h0m0 0h0m14 0h0m5 0h0m6 0h0m9 0h0m19 0h0m12 0h0m4 0h0m52 0h0m18 0h0m120 0h0m-333 1h0m12 0h0m2 0h0m97 0h0m2 0h0m4 0h0m1 0h0m13 0h0m33 0h0m16 0h0m6 0h0m0 0h0m11 0h0m46 0h0m14 0h0m34 0h0m-259 1h0m62 0h0m9 0h0m20 0h0m5 0h0m58 0h0m11 0h0m3 0h0m1 0h0m5 0h0m0 0h0m10 0h0m12 0h0m1 0h0m25 0h0m34 0h0m55 0h0m-305 1h0m125 0h0m14 0h0m4 0h0m5 0h0m13 0h0m47 0h0m12 0h0m35 0h0m-245 1h0m60 0h0m41 0h0m1 0h0m2 0h0m22 0h0m2 0h0m18 0h0m42 0h0m79 0h0m-225 1h0m12 0h0m44 0h0m11 0h0m34 0h0m31 0h0m18 0h0m4 0h0m19 0h0m-244 1h0m31 0h0m93 0h0m8 0h0m5 0h0m6 0h0m12 0h0m3 0h0m12 0h0m17 0h0m7 0h0m7 0h0m4 0h0m4 0h0m16 0h0m19 0h0m77 0h0m-282 1h0m4 0h0m3 0h0m43 0h0m17 0h0m18 0h0m1 0h0m29 0h0m50 0h0m7 0h0m-143 1h0m26 0h0m7 0h0m9 0h0m11 0h0m10 0h0m20 0h0m5 0h0m26 0h0m47 0h0m1 0h0m24 0h0m15 0h0m1 0h0m-170 1h0m0 0h0m6 0h0m6 0h0m9 0h0m4 0h0m0 0h0m11 0h0m4 0h0m3 0h0m8 0h0m12 0h0m36 0h0m22 0h0m29 0h0m2 0h0m17 0h0m-233 1h0m73 0h0m23 0h0m10 0h0m20 0h0m20 0h0m5 0h0m6 0h0m1 0h0m16 0h0m22 0h0m43 0h0m-266 1h0m35 0h0m3 0h0m57 0h0m1 0h0m1 0h0m12 0h0m0 0h0m19 0h0m1 0h0m2 0h0m7 0h0m1 0h0m7 0h0m4 0h0m17 0h0m3 0h0m12 0h0m2 0h0m21 0h0m91 0h0m-151 1h0m6 0h0m7 0h0m7 0h0m14 0h0m18 0h0m1 0h0m75 0h0m-227 1h0m17 0h0m6 0h0m36 0h0m3 0h0m11 0h0m16 0h0m14 0h0m14 0h0m17 0h0m5 0h0m2 0h0m4 0h0m20 0h0m129 0h0m47 0h0m-385 1h0m12 0h0m41 0h0m43 0h0m15 0h0m23 0h0m5 0h0m5 0h0m1 0h0m20 0h0m17 0h0m9 0h0m5 0h0m42 0h0m5 0h0m-176 1h0m1 0h0m13 0h0m13 0h0m17 0h0m2 0h0m1 0h0m58 0h0m3 0h0m7 0h0m9 0h0m3 0h0m43 0h0m-159 1h0m12 0h0m2 0h0m5 0h0m32 0h0m19 0h0m10 0h0m1 0h0m41 0h0m10 0h0m8 0h0m-207 1h0m17 0h0m5 0h0m83 0h0m8 0h0m31 0h0m23 0h0m51 0h0m4 0h0m-237 1h0m30 0h0m60 0h0m28 0h0m22 0h0m2 0h0m12 0h0m10 0h0m26 0h0m5 0h0m12 0h0m6 0h0m2 0h0m1 0h0m6 0h0m-140 1h0m1 0h0m43 0h0m37 0h0m3 0h0m9 0h0m35 0h0m44 0h0m-257 1h0m133 0h0m3 0h0m11 0h0m36 0h0m2 0h0m44 0h0m1 0h0m33 0h0m-153 1h0m3 0h0m2 0h0m42 0h0m36 0h0m0 0h0m31 0h0m10 0h0m1 0h0m7 0h0m40 0h0m-236 1h0m4 0h0m42 0h0m3 0h0m22 0h0m13 0h0m26 0h0m2 0h0m90 0h0m-178 1h0m5 0h0m23 0h0m16 0h0m3 0h0m18 0h0m16 0h0m25 0h0m9 0h0m28 0h0m6 0h0m20 0h0m35 0h0m-367 1h0m173 0h0m51 0h0m16 0h0m5 0h0m11 0h0m20 0h0m0 0h0m13 0h0m6 0h0m9 0h0m32 0h0m-188 1h0m8 0h0m30 0h0m39 0h0m2 0h0m10 0h0m10 0h0m1 0h0m20 0h0m34 0h0m1 0h0m1 0h0m13 0h0m-128 1h0m19 0h0m14 0h0m30 0h0m10 0h0m-129 1h0m6 0h0m34 0h0m10 0h0m15 0h0m18 0h0m22 0h0m9 0h0m0 0h0m37 0h0m-258 1h0m107 0h0m11 0h0m33 0h0m20 0h0m10 0h0m25 0h0m3 0h0m1 0h0m7 0h0m4 0h0m14 0h0m10 0h0m10 0h0m14 0h0m-159 1h0m35 0h0m8 0h0m33 0h0m17 0h0m30 0h0m38 0h0m-135 1h0m7 0h0m61 0h0m57 0h0m23 0h0m7 0h0m51 0h0m-212 1h0m41 0h0m26 0h0m21 0h0m30 0h0m12 0h0m41 0h0m50 0h0m-346 1h0m99 0h0m3 0h0m22 0h0m5 0h0m10 0h0m3 0h0m10 0h0m28 0h0m3 0h0m4 0h0m21 0h0m3 0h0m1 0h0m2 0h0m5 0h0m6 0h0m0 0h0m4 0h0m16 0h0m44 0h0m-259 1h0m106 0h0m42 0h0m11 0h0m19 0h0m8 0h0m25 0h0m24 0h0m26 0h0m-236 1h0m131 0h0m46 0h0m5 0h0m4 0h0m10 0h0m3 0h0m-161 1h0m36 0h0m25 0h0m19 0h0m4 0h0m0 0h0m11 0h0m12 0h0m7 0h0m45 0h0m-137 1h0m20 0h0m49 0h0m20 0h0m6 0h0m22 0h0m1 0h0m17 0h0m17 0h0m7 0h0m41 0h0m27 0h0m-174 1h0m3 0h0m6 0h0m13 0h0m26 0h0m6 0h0m28 0h0m41 0h0m24 0h0m-284 1h0m99 0h0m18 0h0m1 0h0m24 0h0m8 0h0m61 0h0m85 0h0m-195 1h0m33 0h0m3 0h0m29 0h0m7 0h0m-71 1h0m91 0h0m7 0h0m111 0h0m-180 1h0m1 0h0m6 0h0m17 0h0m11 0h0m40 0h0m28 0h0m29 0h0m-223 1h0m4 0h0m38 0h0m6 0h0m4 0h0m49 0h0m22 0h0m8 0h0m7 0h0m40 0h0m17 0h0m18 0h0m32 0h0m18 0h0m13 0h0m-247 1h0m15 0h0m3 0h0m9 0h0m51 0h0m29 0h0m1 0h0m19 0h0m41 0h0m35 0h0m-184 1h0m60 0h0m23 0h0m62 0h0m74 0h0m-192 1h0m31 0h0m5 0h0m37 0h0m37 0h0m2 0h0m3 0h0m0 0h0m22 0h0m120 0h0m-265 1h0m28 0h0m16 0h0m10 0h0m12 0h0m8 0h0m3 0h0m3 0h0m11 0h0m3 0h0m9 0h0m24 0h0m13 0h0m54 0h0m4 0h0m25 0h0m10 0h0m14 0h0m-258 1h0m36 0h0m41 0h0m13 0h0m1 0h0m37 0h0m98 0h0m-247 1h0m8 0h0m12 0h0m2 0h0m63 0h0m6 0h0m1 0h0m90 0h0m10 0h0m-231 1h0m79 0h0m14 0h0m22 0h0m22 0h0m11 0h0m25 0h0m16 0h0m11 0h0m15 0h0m-249 1h0m108 0h0m10 0h0m4 0h0m2 0h0m9 0h0m31 0h0m2 0h0m28 0h0m4 0h0m5 0h0m60 0h0m-150 1h0m2 0h0m36 0h0m2 0h0m1 0h0m2 0h0m28 0h0m38 0h0m7 0h0m0 0h0m30 0h0m15 0h0m-290 1h0m161 0h0m17 0h0m42 0h0m11 0h0m19 0h0m12 0h0m-195 1h0m42 0h0m10 0h0m5 0h0m1 0h0m11 0h0m21 0h0m59 0h0m46 0h0m57 0h0m-229 1h0m4 0h0m35 0h0m12 0h0m53 0h0m0 0h0m3 0h0m26 0h0m23 0h0m14 0h0m2 0h0m-223 1h0m6 0h0m31 0h0m37 0h0m17 0h0m12 0h0m3 0h0m15 0h0m7 0h0m45 0h0m1 0h0m1 0h0m51 0h0m13 0h0m-180 1h0m20 0h0m38 0h0m85 0h0m5 0h0m-138 1h0m39 0h0m15 0h0m8 0h0m84 0h0m0 0h0m43 0h0m29 0h0m30 0h0m6 0h0m-234 1h0m1 0h0m11 0h0m6 0h0m26 0h0m20 0h0m10 0h0m11 0h0m21 0h0m20 0h0m8 0h0m45 0h0m-202 1h0m48 0h0m6 0h0m19 0h0m6 0h0m3 0h0m25 0h0m85 0h0m60 0h0m16 0h0m-280 1h0m20 0h0m18 0h0m96 0h0m72 0h0m24 0h0m7 0h0m-196 1h0m2 0h0m129 0h0m-176 1h0m41 0h0m10 0h0m26 0h0m16 0h0m5 0h0m51 0h0m47 0h0m56 0h0m-211 1h0m52 0h0m12 0h0m20 0h0m39 0h0m24 0h0m-170 1h0m22 0h0m11 0h0m48 0h0m1 0h0m21 0h0m4 0h0m60 0h0m-143 1h0m62 0h0m36 0h0m14 0h0m16 0h0m5 0h0m143 0h0m23 0h0m-374 1h0m114 0h0m19 0h0m42 0h0m52 0h0m-229 1h0m7 0h0m11 0h0m50 0h0m76 0h0m16 0h0m48 0h0m24 0h0m144 0h0m-373 1h0m166 0h0m15 0h0m20 0h0m-125 1h0m27 0h0m14 0h0m8 0h0m26 0h0m2 0h0m6 0h0m18 0h0m117 0h0m-304 1h0m109 0h0m99 0h0m-143 1h0m36 0h0m5 0h0m28 0h0m29 0h0m-165 1h0m65 0h0m20 0h0m40 0h0m3 0h0m47 0h0m57 0h0m84 0h0m-275 1h0m37 0h0m21 0h0m42 0h0m57 0h0m-134 1h0m97 0h0m31 0h0m2 0h0m5 0h0m5 0h0m-136 1h0m118 0h0m-60 1h0m57 0h0m13 0h0m8 0h0m36 0h0m-223 1h0m34 0h0m74 0h0m51 0h0m1 0h0m41 0h0m-186 1h0m58 0h0m15 1h0m37 0h0m19 0h0m-39 1h0m20 0h0m98 0h0m6 0h0m-137 1h0m65 0h0m8 0h0m55 0h0m-184 1h0m32 0h0m24 0h0m2 0h0m15 0h0m1 0h0m7 0h0m50 0h0m33 0h0m13 0h0m22 0h0m40 0h0m-162 1h0m25 0h0m-101 1h0m12 0h0m67 0h0m3 0h0m-138 1h0m59 0h0m50 0h0m75 0h0m28 0h0m8 0h0m40 0h0m-174 1h0m17 0h0m2 0h0m39 0h0m4 0h0m11 0h0m-32 1h0m76 0h0m15 0h0m-140 1h0m53 0h0m-71 1h0m92 0h0m27 0h0m15 0h0m28 0h0m-163 1h0m32 0h0m113 1h0m-70 1h0m32 0h0m29 1h0m54 0h0m-94 1h0m-64 1h0m70 0h0m19 0h0m-38 1h0m11 0h0m-127 1h0m35 0h0m34 0h0m49 0h0m22 0h0m19 0h0m-3 1h0m15 0h0m44 1h0m-210 1h0m279 0h0m-268 1h0m162 0h0m70 0h0m-142 1h0m-49 1h0m27 0h0m-35 1h0m53 0h0m92 0h0m-216 1h0m74 0h0m59 0h0m18 1h0m91 0h0m-115 1h0m30 0h0m7 0h0m80 0h0m-183 1h0m24 0h0m105 0h0m3 0h0m-65 1h0m-36 2h0m27 1h0m10 0h0m53 2h0m-154 5h0m97 0h0m-17 5h0m-49 2h0m-5 4h0m49 0h0m133 0h0m-187 1h0m58 0h0m44 0h0m-48 4h0m110 7h0m-121 1h0m34 16h0"/>
<ellipse cx="390.00" cy="71.00" rx="9.50" ry="6.00" fill="#000" stroke="none" stroke-width="0"/>
<ellipse cx="389.00" cy="78.00" rx="5.00" ry="5.50" fill="#000" stroke="none" stroke-width="0"/>
<path transform="scale(.1)" stroke="#222" stroke-width="11" stroke-linecap="square" fill="none" d="M4199 719h0m49 27h0m-23 5h0m70 48h0m-28 5h0m41 4h0m20 41h0m31 20h0m49 22h0m-30 11h0m41 20h0m35 10h0"/>
<path transform="scale(.1)" stroke="#4de6e6" stroke-width="11" stroke-linecap="square" fill="none" d="M4387 927h0m-12 13h0m88 0h0m-161 0h0m73 1h0m-60 3h0m9 24h0m-101 1h0m84 5h0m0 7h0m103 2h0m-158 15h0m-50 28h0m145 4h0m108 5h0m-122 6h0m132 5h0m-157 6h0m-48 3h0m94 2h0m30 6h0m80 2h0m-9 4h0m-30 9h0m-129 3h0m71 9h0m-57 3h0m-29 28h0"/>
<path transform="scale(.1)" stroke="#19e3e8" stroke-width="12" stroke-linecap="square" fill="none" d="M4351 1187h0m-14 1h0m43 0h0m-9 3h0m-41 1h0m2 0h0m38 1h0m-36 4h0m33 0h0m-39 1h0m-1 2h0m65 4h0m4 0h0m8 0h0m-26 1h0m26 0h0m-40 1h0m2 0h0m5 1h0m23 0h0m-39 1h0m0 1h0m41 3h0m20 1h0m-98 8h0m88 1h0m-71 3h0m69 0h0m-61 1h0m62 1h0m4 0h0m-51 1h0m48 2h0m-1 2h0m-86 1h0m23 0h0m45 0h0m-60 1h0m79 1h0m-92 1h0m16 1h0m32 0h0m-25 1h0m49 0h0m-35 4h0m62 0h0m-1 2h0m-32 2h0m44 0h0m-19 1h0m-16 1h0m30 1h0m-57 2h0m13 2h0m-57 1h0m42 2h0m29 1h0m21 1h0m-14 1h0m-48 1h0m16 2h0m-3 2h0m45 1h0m-34 1h0m-42 1h0m-20 1h0m21 0h0m86 0h0m-79 2h0m75 0h0m-65 1h0m39 1h0m33 0h0m-39 1h0m14 1h0m9 0h0m-25 1h0m12 0h0m-84 2h0m28 0h0m42 0h0m47 0h0m-59 1h0m-35 1h0m22 0h0m30 0h0m-71 3h0m48 0h0m9 0h0m-67 1h0m45 1h0m52 0h0m-77 1h0m20 0h0m4 0h0m7 0h0m-23 2h0m19 0h0m9 0h0m17 0h0m10 0h0m28 2h0m-35 1h0m8 1h0m42 0h0m-125 1h0m38 0h0m30 1h0m37 0h0m-55 1h0m13 0h0m6 2h0m-40 1h0m-2 1h0m6 1h0m10 0h0m36 0h0m-75 2h0m110 0h0m1 0h0m-78 1h0m18 1h0m32 0h0m-82 1h0m103 1h0m0 1h0m-38 1h0m-55 1h0m5 0h0m42 0h0m-69 1h0m77 0h0m-54 4h0m38 0h0m22 0h0m16 0h0m16 1h0m-67 1h0m7 0h0m45 0h0m-25 1h0m23 1h0m-89 1h0m8 0h0m-1 1h0m33 0h0m20 0h0m-27 1h0m7 1h0m47 0h0m-86 1h0m84 0h0m-53 1h0m-4 1h0m53 1h0m-82 3h0m93 0h0m-81 1h0m82 0h0m-19 2h0m50 0h0m-100 1h0m61 1h0m-82 1h0m86 0h0m-29 1h0m14 1h0m-27 1h0m-15 1h0m30 0h0m40 0h0m-114 1h0m36 1h0m5 0h0m107 0h0m2 0h0m-108 2h0m6 1h0m21 0h0m29 0h0m-10 1h0m-35 1h0m-59 1h0m115 0h0m0 0h0m14 0h0m-84 1h0m6 0h0m7 0h0m55 0h0m-88 1h0m39 0h0m84 0h0m-62 1h0m66 0h0m-113 1h0m69 0h0m-94 1h0m52 0h0m-37 1h0m41 0h0m6 0h0m38 0h0m3 0h0m31 0h0m-65 2h0m25 0h0m22 0h0m-91 1h0m80 0h0m-82 1h0m84 0h0m-24 1h0m5 0h0m-67 1h0m-12 1h0m0 0h0m39 0h0m52 0h0m40 0h0m-113 1h0m56 0h0m25 0h0m-85 2h0m35 0h0m48 0h0m-25 1h0m-48 1h0m35 1h0m43 0h0m-114 1h0m34 0h0m17 0h0m103 0h0m-140 1h0m14 0h0m29 0h0m45 0h0m-99 1h0m46 0h0m-34 1h0m108 0h0m-75 1h0m3 0h0m61 0h0m14 0h0m-50 1h0m-54 2h0m2 0h0m42 0h0m35 0h0m-15 1h0m63 1h0m-69 1h0m8 0h0m4 0h0m-28 1h0m25 0h0m23 0h0m14 0h0m-104 2h0m45 0h0m54 0h0m14 0h0m-60 1h0m-28 1h0m70 0h0m18 0h0m12 0h0m-112 2h0m16 0h0m88 0h0m-20 1h0m-135 1h0m76 0h0m28 0h0m27 0h0m-37 1h0m78 0h0m-72 2h0m19 0h0m27 0h0m-120 1h0m91 0h0m-99 1h0m8 0h0m145 0h0m-113 1h0m10 0h0m17 0h0m23 0h0m20 0h0m25 0h0m-50 1h0m-1 1h0m3 0h0m9 0h0m-72 1h0m28 0h0m15 0h0m12 0h0m47 0h0m-91 1h0m9 0h0m86 0h0m-113 1h0m4 1h0m68 0h0m6 0h0m28 0h0m-94 1h0m16 0h0m25 0h0m-67 1h0m46 0h0m81 0h0m-149 2h0m46 0h0m40 0h0m-66 1h0m-19 1h0m89 0h0m77 0h0m-94 1h0m35 0h0m38 0h0m-61 1h0m67 0h0m-86 1h0m93 0h0m-116 2h0m41 0h0m1 0h0m15 0h0m13 0h0m-31 1h0m-23 1h0m2 0h0m26 0h0m20 0h0m14 0h0m-71 1h0m19 0h0m60 0h0m-136 1h0m33 0h0m17 1h0m14 0h0m107 0h0m-83 1h0m75 0h0m-108 1h0m21 0h0m52 1h0m19 0h0m-82 1h0m15 0h0m32 0h0m32 0h0m-115 1h0m47 0h0m3 0h0m15 0h0m25 0h0m12 0h0m22 0h0m-131 1h0m49 0h0m61 1h0m-59 1h0m27 0h0m-62 1h0m36 0h0m1 0h0m40 0h0m-17 1h0m58 0h0m-123 1h0m57 0h0m20 0h0m20 0h0m29 0h0m-132 1h0m54 2h0m-44 1h0m66 0h0m39 0h0m-129 1h0m86 0h0m1 0h0m9 1h0m-75 1h0m-1 1h0m39 0h0m8 0h0m-42 1h0m41 0h0m12 0h0m24 0h0m14 0h0m20 0h0m-53 1h0m-35 1h0m18 0h0m24 1h0m19 0h0m-98 1h0m24 0h0m15 0h0m2 0h0m39 0h0m-41 1h0m21 0h0m58 0h0m16 0h0m-86 1h0m54 0h0m-84 1h0m30 0h0m2 0h0m91 0h0m-153 1h0m92 0h0m2 0h0m45 1h0m-41 1h0m49 0h0m-132 1h0m5 0h0m100 0h0m5 0h0m18 0h0m-64 1h0m10 0h0m2 0h0m-43 1h0m24 0h0m33 0h0m16 0h0m15 0h0m-109 1h0m26 0h0m31 0h0m64 0h0m-69 1h0m-40 1h0m7 0h0m55 0h0m47 0h0m-56 1h0m9 0h0m32 0h0m11 0h0m8 0h0m-118 1h0m14 0h0m26 0h0m30 0h0m12 0h0m-60 1h0m64 0h0m29 0h0m-66 1h0m38 1h0m5 0h0m-84 1h0m69 0h0m19 0h0m15 0h0m2 0h0m-98 1h0m19 0h0m22 0h0m4 0h0m-54 1h0m47 0h0m11 0h0m13 0h0m-135 1h0m86 0h0m73 0h0m-83 1h0m69 0h0m30 0h0m-97 1h0m34 0h0m2 0h0m4 0h0m31 1h0m17 0h0m-133 1h0m14 0h0m55 0h0m16 1h0m1 0h0m19 0h0m-126 1h0m41 0h0m53 0h0m-51 1h0m18 1h0m56 0h0m58 0h0m-125 1h0m5 0h0m39 0h0m37 0h0m-80 1h0m23 0h0m1 0h0m44 0h0m38 0h0m-53 1h0m-116 1h0m60 0h0m27 0h0m50 0h0m-85 1h0m38 0h0m28 0h0m-106 1h0m184 0h0m-179 1h0m28 0h0m2 0h0m28 0h0m11 0h0m14 0h0m23 0h0m-73 1h0m108 0h0m-84 1h0m23 0h0m31 0h0m-20 1h0m33 0h0m-69 1h0m18 0h0m24 0h0m42 0h0m5 0h0m11 0h0m6 0h0m-140 1h0m27 0h0m-48 1h0m45 0h0m59 0h0m2 0h0m-80 1h0m73 1h0m7 0h0m-128 3h0m53 0h0m6 0h0m17 0h0m50 0h0m14 0h0m0 0h0m-15 1h0m3 0h0m-84 1h0m22 0h0m105 0h0m5 0h0m-115 1h0m25 0h0m15 0h0m12 0h0m2 0h0m4 0h0m-23 1h0m77 0h0m-96 1h0m36 0h0m10 0h0m10 0h0m-73 2h0m66 0h0m-119 1h0m41 0h0m6 0h0m3 0h0m5 0h0m23 0h0m26 0h0m1 0h0m0 0h0m26 0h0m31 0h0m-122 1h0m44 0h0m10 0h0m12 0h0m-57 1h0m38 0h0m4 0h0m16 0h0m28 0h0m16 0h0m-126 1h0m46 0h0m74 0h0m32 0h0m-72 1h0m-14 1h0m46 0h0m23 0h0m-87 1h0m11 0h0m31 0h0m33 0h0m65 0h0m-147 1h0m18 0h0m61 0h0m-52 1h0m-32 1h0m39 0h0m35 0h0m33 0h0m26 0h0m-132 1h0m11 0h0m11 0h0m4 0h0m6 0h0m65 0h0m-76 1h0m21 0h0m35 0h0m-27 1h0m-47 2h0m35 0h0m57 0h0m17 0h0m-63 1h0m4 1h0m21 0h0m-44 1h0m75 0h0m-63 1h0m105 0h0m-106 1h0m25 0h0m15 0h0m17 1h0m-5 1h0m-92 1h0m7 0h0m19 0h0m94 0h0m-189 1h0m130 0h0m8 0h0m14 0h0m48 0h0m-90 1h0m51 0h0m5 0h0m53 0h0m-192 1h0m16 0h0m84 0h0m30 0h0m-37 1h0m-14 1h0m82 0h0m4 0h0m-125 2h0m2 0h0m6 0h0m18 0h0m2 0h0m0 0h0m-10 1h0m21 0h0m8 0h0m16 0h0m-11 1h0m23 0h0m33 0h0m-107 1h0m34 0h0m67 0h0m-168 1h0m53 0h0m8 0h0m51 0h0m-30 1h0m41 0h0m19 0h0m-88 1h0m12 0h0m15 0h0m63 0h0m2 0h0m33 0h0m12 2h0m-144 1h0m19 0h0m28 0h0m45 0h0m68 0h0m-132 1h0m26 0h0m51 0h0m42 0h0m11 0h0m-109 1h0m63 0h0m-69 1h0m27 0h0m60 0h0m-76 1h0m33 0h0m15 0h0m-75 1h0m40 0h0m-62 1h0m12 0h0m4 0h0m38 0h0m38 0h0m31 0h0m-172 1h0m54 0h0m16 0h0m10 0h0m-49 1h0m38 0h0m19 0h0m62 0h0m17 0h0m-98 1h0m64 0h0m30 0h0m-61 1h0m15 0h0m-97 1h0m23 0h0m38 0h0m57 0h0m18 0h0m-111 1h0m31 0h0m30 0h0m46 1h0m33 0h0m5 0h0m-129 1h0m17 0h0m27 0h0m-53 1h0m94 0h0m-144 2h0m74 0h0m11 0h0m51 0h0m1 0h0m34 0h0m-122 1h0m27 0h0m120 0h0m-112 1h0m14 0h0m-34 1h0m16 0h0m8 0h0m1 0h0m27 0h0m10 0h0m9 0h0m-37 1h0m22 0h0m64 0h0m-86 1h0m7 0h0m28 0h0m47 0h0m-82 1h0m52 0h0m-107 1h0m162 0h0m-160 1h0m17 0h0m17 0h0m72 0h0m-64 1h0m2 0h0m6 0h0m111 0h0m-113 1h0m17 0h0m81 0h0m-155 2h0m38 0h0m31 0h0m10 0h0m8 0h0m0 1h0m15 0h0m1 0h0m11 0h0m-169 1h0m102 0h0m15 0h0m60 0h0m13 0h0m38 0h0m7 0h0m-183 1h0m44 0h0m24 0h0m8 0h0m9 0h0m33 1h0m31 0h0m13 0h0m-142 1h0m15 1h0m19 0h0m-76 1h0m15 0h0m28 0h0m57 0h0m-71 1h0m32 0h0m17 0h0m4 0h0m1 0h0m8 0h0m2 0h0m15 0h0m5 0h0m6 0h0m19 0h0m-132 1h0m15 0h0m-8 1h0m62 0h0m14 0h0m75 0h0m11 0h0m41 1h0m-166 1h0m9 0h0m44 0h0m4 0h0m8 0h0m7 0h0m72 0h0m17 0h0m-195 1h0m58 0h0m8 0h0m20 0h0m48 0h0m43 0h0m-193 1h0m69 0h0m77 0h0m1 1h0m9 0h0m-43 1h0m48 0h0m42 0h0m-190 1h0m53 0h0m58 0h0m15 0h0m-63 1h0m95 0h0m-145 1h0m102 0h0m-32 1h0m13 0h0m-33 1h0m15 0h0m18 0h0m26 0h0m-92 1h0m26 0h0m53 0h0m6 0h0m92 0h0m-178 1h0m37 0h0m13 0h0m8 0h0m1 0h0m-64 1h0m47 0h0m-66 1h0m32 0h0m51 0h0m-83 1h0m127 0h0m-103 1h0m23 0h0m-73 1h0m1 0h0m44 0h0m44 0h0m23 0h0m33 0h0m56 0h0m-177 1h0m51 0h0m-40 1h0m29 0h0m2 0h0m32 0h0m25 0h0m37 0h0m62 0h0m-152 1h0m1 0h0m-103 1h0m154 0h0m47 0h0m56 0h0m-119 1h0m3 0h0m69 0h0m-27 1h0m-62 1h0m27 0h0m32 0h0m5 0h0m18 0h0m-141 1h0m49 0h0m24 0h0m13 0h0m-119 1h0m51 0h0m55 0h0m-61 1h0m61 0h0m8 0h0m29 0h0m41 0h0m27 0h0m-94 1h0m-68 1h0m18 0h0m7 0h0m27 0h0m54 0h0m-59 1h0m-101 1h0m42 0h0m30 0h0m23 0h0m23 0h0m13 0h0m2 0h0m-92 1h0m50 0h0m6 0h0m41 0h0m-95 1h0m56 0h0m31 0h0m12 0h0m-95 1h0m61 0h0m4 0h0m2 0h0m1 0h0m-86 1h0m38 0h0m7 0h0m36 0h0m0 0h0m59 0h0m-135 1h0m64 0h0m8 0h0m26 0h0m17 0h0m-32 1h0m26 0h0m-13 1h0m10 0h0m80 0h0m-174 1h0m59 0h0m36 0h0m-113 1h0m42 0h0m13 0h0m10 0h0m32 0h0m-63 1h0m29 0h0m13 0h0m122 0h0m-138 1h0m-23 1h0m48 0h0m17 0h0m46 0h0m-194 1h0m18 0h0m18 0h0m137 0h0m27 0h0m-121 1h0m55 0h0m-92 1h0m80 0h0m42 0h0m-92 1h0m60 0h0m29 0h0m76 0h0m-172 1h0m56 0h0m36 0h0m-90 1h0m29 0h0m56 0h0m46 0h0m-120 1h0m7 0h0m23 0h0m53 0h0m3 0h0m60 0h0m-118 1h0m61 0h0m25 1h0m31 0h0m-154 1h0m35 0h0m21 1h0m16 0h0m14 1h0m43 0h0m-89 1h0"/>
<path transform="scale(.1)" stroke="#5ee" stroke-opacity="0.8" stroke-width="10" stroke-linecap="square" fill="none" d="M4468 1158h0m-253 2h0m145 0h0m71 3h0m1 0h0m4 4h0m27 0h0m-85 2h0m25 5h0m-176 1h0m-50 7h0m166 0h0m-56 2h0m134 0h0m-26 8h0m145 1h0m-132 1h0m-129 1h0m30 0h0m145 0h0m-187 7h0m99 0h0m60 3h0m-104 4h0m23 3h0m130 0h0m8 3h0m113 5h0m-219 8h0m70 1h0m81 0h0m-165 5h0m-86 2h0m40 4h0m10 0h0m20 0h0m-50 1h0m155 0h0m-130 1h0m63 1h0m-118 11h0m41 4h0m38 0h0m100 7h0m-165 7h0m150 0h0m-125 8h0m3 0h0m222 0h0m-100 3h0m-123 1h0m15 4h0m61 1h0m-57 1h0m-160 1h0m266 0h0m99 1h0m-177 2h0m-49 1h0m34 5h0m100 6h0m60 1h0m-81 7h0m129 1h0m-202 4h0m-57 1h0m121 0h0m-126 4h0m-36 16h0m97 6h0m3 0h0m31 13h0m-58 1h0m166 0h0m39 9h0m-242 3h0m181 2h0m28 6h0m-107 10h0m-110 1h0m142 10h0m-10 2h0m-61 2h0m117 2h0m-5 1h0m9 5h0m-122 9h0m110 0h0m-78 3h0m-8 3h0m57 0h0m-57 1h0m-67 2h0m138 4h0m-106 3h0m167 0h0m-77 7h0m-93 1h0m5 0h0m-5 2h0m-99 3h0m207 3h0m1 5h0m-140 1h0m103 0h0m86 2h0m-175 2h0m-207 11h0m230 3h0m14 10h0m7 2h0m200 6h0m-2 1h0m-162 2h0m22 3h0m-134 1h0m15 1h0m17 8h0m8 6h0m-30 4h0m178 1h0m-87 4h0m-146 3h0m52 1h0m-24 2h0m50 1h0m-10 1h0m-64 7h0m181 0h0m-82 10h0m-51 6h0m181 9h0m-62 4h0m23 2h0m-102 6h0m37 7h0m-3 1h0m-192 4h0m126 8h0m-72 10h0m178 2h0m112 0h0m37 4h0m-270 1h0m158 0h0m-167 2h0m97 0h0m28 1h0m38 1h0m-42 3h0"/>
<rect x="323.0" y="22.0" width="162.0" height="140.2" fill="none" stroke="#111" stroke-width="1.3"/>
<line x1="416.50" y1="22.00" x2="416.50" y2="162.20" stroke="#111" stroke-width="1.3"/>
<line x1="323.00" y1="112.70" x2="485.00" y2="112.70" stroke="#111" stroke-width="1.3"/>
<line x1="319.80" y1="162.20" x2="323.00" y2="162.20" stroke="#111" stroke-width="0.9"/>
<line x1="324.00" y1="162.20" x2="324.00" y2="165.40" stroke="#111" stroke-width="0.9"/>
<line x1="321.20" y1="151.65" x2="323.00" y2="151.65" stroke="#111" stroke-width="0.9"/>
<line x1="336.04" y1="162.20" x2="336.04" y2="164.00" stroke="#111" stroke-width="0.9"/>
<line x1="321.20" y1="145.48" x2="323.00" y2="145.48" stroke="#111" stroke-width="0.9"/>
<line x1="343.08" y1="162.20" x2="343.08" y2="164.00" stroke="#111" stroke-width="0.9"/>
<line x1="321.20" y1="141.10" x2="323.00" y2="141.10" stroke="#111" stroke-width="0.9"/>
<line x1="348.08" y1="162.20" x2="348.08" y2="164.00" stroke="#111" stroke-width="0.9"/>
<line x1="321.20" y1="137.70" x2="323.00" y2="137.70" stroke="#111" stroke-width="0.9"/>
<line x1="351.96" y1="162.20" x2="351.96" y2="164.00" stroke="#111" stroke-width="0.9"/>
<line x1="321.20" y1="134.93" x2="323.00" y2="134.93" stroke="#111" stroke-width="0.9"/>
<line x1="355.13" y1="162.20" x2="355.13" y2="164.00" stroke="#111" stroke-width="0.9"/>
<line x1="321.20" y1="132.58" x2="323.00" y2="132.58" stroke="#111" stroke-width="0.9"/>
<line x1="357.80" y1="162.20" x2="357.80" y2="164.00" stroke="#111" stroke-width="0.9"/>
<line x1="321.20" y1="130.55" x2="323.00" y2="130.55" stroke="#111" stroke-width="0.9"/>
<line x1="360.12" y1="162.20" x2="360.12" y2="164.00" stroke="#111" stroke-width="0.9"/>
<line x1="321.20" y1="128.75" x2="323.00" y2="128.75" stroke="#111" stroke-width="0.9"/>
<line x1="362.17" y1="162.20" x2="362.17" y2="164.00" stroke="#111" stroke-width="0.9"/>
<line x1="319.80" y1="127.15" x2="323.00" y2="127.15" stroke="#111" stroke-width="0.9"/>
<line x1="364.00" y1="162.20" x2="364.00" y2="165.40" stroke="#111" stroke-width="0.9"/>
<line x1="321.20" y1="116.60" x2="323.00" y2="116.60" stroke="#111" stroke-width="0.9"/>
<line x1="376.04" y1="162.20" x2="376.04" y2="164.00" stroke="#111" stroke-width="0.9"/>
<line x1="321.20" y1="110.43" x2="323.00" y2="110.43" stroke="#111" stroke-width="0.9"/>
<line x1="383.08" y1="162.20" x2="383.08" y2="164.00" stroke="#111" stroke-width="0.9"/>
<line x1="321.20" y1="106.05" x2="323.00" y2="106.05" stroke="#111" stroke-width="0.9"/>
<line x1="388.08" y1="162.20" x2="388.08" y2="164.00" stroke="#111" stroke-width="0.9"/>
<line x1="321.20" y1="102.65" x2="323.00" y2="102.65" stroke="#111" stroke-width="0.9"/>
<line x1="391.96" y1="162.20" x2="391.96" y2="164.00" stroke="#111" stroke-width="0.9"/>
<line x1="321.20" y1="99.88" x2="323.00" y2="99.88" stroke="#111" stroke-width="0.9"/>
<line x1="395.13" y1="162.20" x2="395.13" y2="164.00" stroke="#111" stroke-width="0.9"/>
<line x1="321.20" y1="97.53" x2="323.00" y2="97.53" stroke="#111" stroke-width="0.9"/>
<line x1="397.80" y1="162.20" x2="397.80" y2="164.00" stroke="#111" stroke-width="0.9"/>
<line x1="321.20" y1="95.50" x2="323.00" y2="95.50" stroke="#111" stroke-width="0.9"/>
<line x1="400.12" y1="162.20" x2="400.12" y2="164.00" stroke="#111" stroke-width="0.9"/>
<line x1="321.20" y1="93.70" x2="323.00" y2="93.70" stroke="#111" stroke-width="0.9"/>
<line x1="402.17" y1="162.20" x2="402.17" y2="164.00" stroke="#111" stroke-width="0.9"/>
<line x1="319.80" y1="92.10" x2="323.00" y2="92.10" stroke="#111" stroke-width="0.9"/>
<line x1="404.00" y1="162.20" x2="404.00" y2="165.40" stroke="#111" stroke-width="0.9"/>
<line x1="321.20" y1="81.55" x2="323.00" y2="81.55" stroke="#111" stroke-width="0.9"/>
<line x1="416.04" y1="162.20" x2="416.04" y2="164.00" stroke="#111" stroke-width="0.9"/>
<line x1="321.20" y1="75.38" x2="323.00" y2="75.38" stroke="#111" stroke-width="0.9"/>
<line x1="423.08" y1="162.20" x2="423.08" y2="164.00" stroke="#111" stroke-width="0.9"/>
<line x1="321.20" y1="71.00" x2="323.00" y2="71.00" stroke="#111" stroke-width="0.9"/>
<line x1="428.08" y1="162.20" x2="428.08" y2="164.00" stroke="#111" stroke-width="0.9"/>
<line x1="321.20" y1="67.60" x2="323.00" y2="67.60" stroke="#111" stroke-width="0.9"/>
<line x1="431.96" y1="162.20" x2="431.96" y2="164.00" stroke="#111" stroke-width="0.9"/>
<line x1="321.20" y1="64.83" x2="323.00" y2="64.83" stroke="#111" stroke-width="0.9"/>
<line x1="435.13" y1="162.20" x2="435.13" y2="164.00" stroke="#111" stroke-width="0.9"/>
<line x1="321.20" y1="62.48" x2="323.00" y2="62.48" stroke="#111" stroke-width="0.9"/>
<line x1="437.80" y1="162.20" x2="437.80" y2="164.00" stroke="#111" stroke-width="0.9"/>
<line x1="321.20" y1="60.45" x2="323.00" y2="60.45" stroke="#111" stroke-width="0.9"/>
<line x1="440.12" y1="162.20" x2="440.12" y2="164.00" stroke="#111" stroke-width="0.9"/>
<line x1="321.20" y1="58.65" x2="323.00" y2="58.65" stroke="#111" stroke-width="0.9"/>
<line x1="442.17" y1="162.20" x2="442.17" y2="164.00" stroke="#111" stroke-width="0.9"/>
<line x1="319.80" y1="57.05" x2="323.00" y2="57.05" stroke="#111" stroke-width="0.9"/>
<line x1="444.00" y1="162.20" x2="444.00" y2="165.40" stroke="#111" stroke-width="0.9"/>
<line x1="321.20" y1="46.50" x2="323.00" y2="46.50" stroke="#111" stroke-width="0.9"/>
<line x1="456.04" y1="162.20" x2="456.04" y2="164.00" stroke="#111" stroke-width="0.9"/>
<line x1="321.20" y1="40.33" x2="323.00" y2="40.33" stroke="#111" stroke-width="0.9"/>
<line x1="463.08" y1="162.20" x2="463.08" y2="164.00" stroke="#111" stroke-width="0.9"/>
<line x1="321.20" y1="35.95" x2="323.00" y2="35.95" stroke="#111" stroke-width="0.9"/>
<line x1="468.08" y1="162.20" x2="468.08" y2="164.00" stroke="#111" stroke-width="0.9"/>
<line x1="321.20" y1="32.55" x2="323.00" y2="32.55" stroke="#111" stroke-width="0.9"/>
<line x1="471.96" y1="162.20" x2="471.96" y2="164.00" stroke="#111" stroke-width="0.9"/>
<line x1="321.20" y1="29.78" x2="323.00" y2="29.78" stroke="#111" stroke-width="0.9"/>
<line x1="475.13" y1="162.20" x2="475.13" y2="164.00" stroke="#111" stroke-width="0.9"/>
<line x1="321.20" y1="27.43" x2="323.00" y2="27.43" stroke="#111" stroke-width="0.9"/>
<line x1="477.80" y1="162.20" x2="477.80" y2="164.00" stroke="#111" stroke-width="0.9"/>
<line x1="321.20" y1="25.40" x2="323.00" y2="25.40" stroke="#111" stroke-width="0.9"/>
<line x1="480.12" y1="162.20" x2="480.12" y2="164.00" stroke="#111" stroke-width="0.9"/>
<line x1="321.20" y1="23.60" x2="323.00" y2="23.60" stroke="#111" stroke-width="0.9"/>
<line x1="482.17" y1="162.20" x2="482.17" y2="164.00" stroke="#111" stroke-width="0.9"/>
<line x1="319.80" y1="22.00" x2="323.00" y2="22.00" stroke="#111" stroke-width="0.9"/>
<line x1="484.00" y1="162.20" x2="484.00" y2="165.40" stroke="#111" stroke-width="0.9"/>
<text x="323.50" y="178.30" font-size="10.2" fill="#333" stroke="#333" stroke-width="0.3" text-anchor="middle">10<tspan font-size="8.77" dy="-4.08">0</tspan></text>
<text x="316.20" y="160.70" font-size="10.2" fill="#333" stroke="#333" stroke-width="0.3" text-anchor="middle" transform="rotate(-90 316.20 160.70)">10<tspan font-size="8.77" dy="-4.28">0</tspan></text>
<text x="363.50" y="178.30" font-size="10.2" fill="#333" stroke="#333" stroke-width="0.3" text-anchor="middle">10<tspan font-size="8.77" dy="-4.08">1</tspan></text>
<text x="316.20" y="126.65" font-size="10.2" fill="#333" stroke="#333" stroke-width="0.3" text-anchor="middle" transform="rotate(-90 316.20 126.65)">10<tspan font-size="8.77" dy="-4.28">1</tspan></text>
<text x="403.50" y="178.30" font-size="10.2" fill="#333" stroke="#333" stroke-width="0.3" text-anchor="middle">10<tspan font-size="8.77" dy="-4.08">2</tspan></text>
<text x="316.20" y="91.40" font-size="10.2" fill="#333" stroke="#333" stroke-width="0.3" text-anchor="middle" transform="rotate(-90 316.20 91.40)">10<tspan font-size="8.77" dy="-4.28">2</tspan></text>
<text x="443.50" y="178.30" font-size="10.2" fill="#333" stroke="#333" stroke-width="0.3" text-anchor="middle">10<tspan font-size="8.77" dy="-4.08">3</tspan></text>
<text x="316.20" y="57.05" font-size="10.2" fill="#333" stroke="#333" stroke-width="0.3" text-anchor="middle" transform="rotate(-90 316.20 57.05)">10<tspan font-size="8.77" dy="-4.28">3</tspan></text>
<text x="483.50" y="178.30" font-size="10.2" fill="#333" stroke="#333" stroke-width="0.3" text-anchor="middle">10<tspan font-size="8.77" dy="-4.08">4</tspan></text>
<text x="316.20" y="22.80" font-size="10.2" fill="#333" stroke="#333" stroke-width="0.3" text-anchor="middle" transform="rotate(-90 316.20 22.80)">10<tspan font-size="8.77" dy="-4.28">4</tspan></text>
<text x="373.00" y="194.50" font-size="11.77" fill="#222" stroke="#222" stroke-width="0.05" textLength="50.00" lengthAdjust="spacingAndGlyphs">CD4-FITC</text>
<text x="297.40" y="100.00" font-size="11.77" text-anchor="middle" fill="#222" stroke="#222" stroke-width="0.05" textLength="47.00" lengthAdjust="spacingAndGlyphs" transform="rotate(-90 297.40 100.00)">CD8-APC</text>
<text x="382.00" y="14.40" font-size="13.91" fill="#111" stroke="#111" stroke-width="0.05" textLength="34.30" lengthAdjust="spacingAndGlyphs">CD3+</text>
<text x="331.20" y="35.00" font-size="8.96" fill="#333" stroke="#333" stroke-width="0.12" textLength="62.20" lengthAdjust="spacingAndGlyphs">Cytotoxic T cells</text>
<text x="444.80" y="34.60" font-size="8.96" fill="#333" stroke="#333" stroke-width="0.12" textLength="27.20" lengthAdjust="spacingAndGlyphs">Double</text>
<text x="444.80" y="44.80" font-size="8.96" fill="#333" stroke="#333" stroke-width="0.12" textLength="29.50" lengthAdjust="spacingAndGlyphs">Positive</text>
<text x="329.50" y="124.00" font-size="8.96" fill="#333" stroke="#333" stroke-width="0.12" textLength="27.50" lengthAdjust="spacingAndGlyphs">Double</text>
<text x="329.50" y="134.80" font-size="8.96" fill="#333" stroke="#333" stroke-width="0.12" textLength="33.30" lengthAdjust="spacingAndGlyphs">Negative</text>
<text x="444.60" y="124.60" font-size="8.96" fill="#333" stroke="#333" stroke-width="0.12" textLength="30.40" lengthAdjust="spacingAndGlyphs">T helper</text>
<text x="475.00" y="134.80" font-size="8.96" text-anchor="end" fill="#333" stroke="#333" stroke-width="0.12" textLength="17.50" lengthAdjust="spacingAndGlyphs">cells</text>
<rect x="32.50" y="288.00" width="31.70" height="15.30" fill="#ffc6ee" fill-opacity="0.95"/>
<rect x="32.50" y="291.50" width="20.50" height="11.00" fill="#a84cb8" fill-opacity="1.0"/>
<path transform="scale(.1)" stroke="#9440a8" stroke-opacity="0.8" stroke-width="10" stroke-linecap="square" fill="none" d="M416 2912h0m15 2h0m-72 1h0m40 1h0m102 4h0m-178 1h0m62 0h0m23 0h0m61 0h0m-61 1h0m7 0h0m-34 1h0m122 0h0m-89 2h0m103 0h0m-118 2h0m24 0h0m-9 1h0m87 1h0m-67 1h0m-83 2h0m87 0h0m81 0h0m-111 4h0m116 0h0m-185 1h0m19 2h0m48 0h0m129 1h0m-169 3h0m35 0h0m62 0h0m-101 1h0m143 2h0m-51 1h0m66 0h0m-85 2h0m-70 1h0m123 0h0m12 0h0m-112 3h0m-21 1h0m14 0h0m144 1h0m-99 1h0m30 4h0m-54 1h0m-2 2h0m113 2h0m-172 5h0m79 0h0m-91 2h0m63 0h0m49 1h0m-15 1h0m58 1h0m-26 1h0m3 0h0m71 0h0m-153 2h0m139 0h0m-40 1h0m-99 2h0m-16 3h0m56 0h0m108 2h0m-145 1h0m69 3h0m-3 1h0m26 2h0m-140 1h0m17 2h0m-5 1h0m58 0h0m11 0h0m-93 4h0m203 2h0m-118 3h0m52 0h0m-8 5h0m-60 3h0m25 0h0m105 0h0m10 0h0m-171 1h0m30 1h0m18 2h0m126 0h0m-113 1h0m-15 2h0"/>
<rect x="44.00" y="292.00" width="9.50" height="4.50" fill="#9a70c4" fill-opacity="0.8"/>
<path transform="scale(.1)" stroke="#c050b0" stroke-opacity="0.8" stroke-width="10" stroke-linecap="square" fill="none" d="M540 2922h0m47 7h0m-37 1h0m26 1h0m13 1h0m19 3h0m-6 1h0m-56 2h0m46 1h0m-27 2h0m-36 2h0m9 2h0m25 0h0m1 1h0m42 0h0m-52 2h0m60 2h0m4 0h0m-25 1h0m-46 1h0m-2 1h0m57 1h0m-60 2h0m28 0h0m43 0h0m-79 4h0m10 0h0m59 1h0m19 0h0m-40 1h0m-37 2h0m71 1h0m5 0h0m-27 2h0m23 0h0m-46 1h0m27 0h0m-67 1h0m44 0h0m-16 1h0m42 1h0m20 0h0m-76 1h0m48 0h0m-64 3h0m75 0h0m-59 1h0m35 0h0m-52 1h0m91 0h0m-88 3h0m93 0h0m1 1h0m-90 2h0m38 1h0m-29 2h0m15 0h0m22 0h0m10 2h0m19 0h0m-7 1h0m-65 2h0m53 0h0m7 0h0m-27 1h0m46 0h0m-75 3h0m47 1h0m-36 1h0m61 0h0m-87 1h0m93 1h0m-36 3h0m38 1h0m-53 2h0m10 0h0m-8 2h0m-32 5h0m80 1h0m-47 2h0m32 4h0m-77 1h0m16 1h0m16 1h0m-25 1h0m46 0h0m-54 2h0m75 4h0m-10 1h0m-9 34h0"/>
<rect x="80.40" y="288.00" width="16.00" height="15.70" fill="#ecfbfb" fill-opacity="1"/>
<rect x="80.40" y="296.00" width="16.00" height="7.70" fill="#70e8ec" fill-opacity="1"/>
<polygon points="85,303.7 92,294.5 96.3,294.5 96.3,303.7" fill="#5cb4ec"/>
<rect x="89.00" y="292.00" width="5.00" height="3.00" fill="#b4a4e8" fill-opacity="1"/>
<ellipse cx="94.80" cy="296.40" rx="28.20" ry="11.80" fill="none" stroke="#111" stroke-width="1.15"/>
<line x1="32.30" y1="224.20" x2="127.00" y2="224.20" stroke="#555" stroke-width="1.0"/>
<line x1="127.00" y1="224.20" x2="127.00" y2="309.30" stroke="#555" stroke-width="1.0"/>
<line x1="32.30" y1="223.70" x2="32.30" y2="309.80" stroke="#333" stroke-width="1.0"/>
<line x1="31.80" y1="309.30" x2="127.50" y2="309.30" stroke="#333" stroke-width="1.0"/>
<line x1="29.70" y1="307.60" x2="32.30" y2="307.60" stroke="#111" stroke-width="1.0"/>
<line x1="30.90" y1="304.36" x2="32.30" y2="304.36" stroke="#111" stroke-width="1.0"/>
<line x1="30.90" y1="301.11" x2="32.30" y2="301.11" stroke="#111" stroke-width="1.0"/>
<line x1="30.90" y1="297.87" x2="32.30" y2="297.87" stroke="#111" stroke-width="1.0"/>
<line x1="30.90" y1="294.62" x2="32.30" y2="294.62" stroke="#111" stroke-width="1.0"/>
<line x1="29.70" y1="291.38" x2="32.30" y2="291.38" stroke="#111" stroke-width="1.0"/>
<line x1="30.90" y1="288.14" x2="32.30" y2="288.14" stroke="#111" stroke-width="1.0"/>
<line x1="30.90" y1="284.89" x2="32.30" y2="284.89" stroke="#111" stroke-width="1.0"/>
<line x1="30.90" y1="281.65" x2="32.30" y2="281.65" stroke="#111" stroke-width="1.0"/>
<line x1="30.90" y1="278.40" x2="32.30" y2="278.40" stroke="#111" stroke-width="1.0"/>
<line x1="29.70" y1="275.16" x2="32.30" y2="275.16" stroke="#111" stroke-width="1.0"/>
<line x1="30.90" y1="271.92" x2="32.30" y2="271.92" stroke="#111" stroke-width="1.0"/>
<line x1="30.90" y1="268.67" x2="32.30" y2="268.67" stroke="#111" stroke-width="1.0"/>
<line x1="30.90" y1="265.43" x2="32.30" y2="265.43" stroke="#111" stroke-width="1.0"/>
<line x1="30.90" y1="262.18" x2="32.30" y2="262.18" stroke="#111" stroke-width="1.0"/>
<line x1="29.70" y1="258.94" x2="32.30" y2="258.94" stroke="#111" stroke-width="1.0"/>
<line x1="30.90" y1="255.70" x2="32.30" y2="255.70" stroke="#111" stroke-width="1.0"/>
<line x1="30.90" y1="252.45" x2="32.30" y2="252.45" stroke="#111" stroke-width="1.0"/>
<line x1="30.90" y1="249.21" x2="32.30" y2="249.21" stroke="#111" stroke-width="1.0"/>
<line x1="30.90" y1="245.96" x2="32.30" y2="245.96" stroke="#111" stroke-width="1.0"/>
<line x1="29.70" y1="242.72" x2="32.30" y2="242.72" stroke="#111" stroke-width="1.0"/>
<line x1="30.90" y1="239.48" x2="32.30" y2="239.48" stroke="#111" stroke-width="1.0"/>
<line x1="30.90" y1="236.23" x2="32.30" y2="236.23" stroke="#111" stroke-width="1.0"/>
<line x1="30.90" y1="232.99" x2="32.30" y2="232.99" stroke="#111" stroke-width="1.0"/>
<line x1="30.90" y1="229.74" x2="32.30" y2="229.74" stroke="#111" stroke-width="1.0"/>
<line x1="29.70" y1="226.50" x2="32.30" y2="226.50" stroke="#111" stroke-width="1.0"/>
<line x1="32.30" y1="309.30" x2="32.30" y2="311.90" stroke="#111" stroke-width="1.0"/>
<line x1="39.43" y1="309.30" x2="39.43" y2="310.70" stroke="#111" stroke-width="1.0"/>
<line x1="43.60" y1="309.30" x2="43.60" y2="310.70" stroke="#111" stroke-width="1.0"/>
<line x1="46.55" y1="309.30" x2="46.55" y2="310.70" stroke="#111" stroke-width="1.0"/>
<line x1="48.85" y1="309.30" x2="48.85" y2="310.70" stroke="#111" stroke-width="1.0"/>
<line x1="50.72" y1="309.30" x2="50.72" y2="310.70" stroke="#111" stroke-width="1.0"/>
<line x1="52.31" y1="309.30" x2="52.31" y2="310.70" stroke="#111" stroke-width="1.0"/>
<line x1="53.68" y1="309.30" x2="53.68" y2="310.70" stroke="#111" stroke-width="1.0"/>
<line x1="54.89" y1="309.30" x2="54.89" y2="310.70" stroke="#111" stroke-width="1.0"/>
<line x1="55.97" y1="309.30" x2="55.97" y2="311.90" stroke="#111" stroke-width="1.0"/>
<line x1="63.10" y1="309.30" x2="63.10" y2="310.70" stroke="#111" stroke-width="1.0"/>
<line x1="67.27" y1="309.30" x2="67.27" y2="310.70" stroke="#111" stroke-width="1.0"/>
<line x1="70.23" y1="309.30" x2="70.23" y2="310.70" stroke="#111" stroke-width="1.0"/>
<line x1="72.52" y1="309.30" x2="72.52" y2="310.70" stroke="#111" stroke-width="1.0"/>
<line x1="74.40" y1="309.30" x2="74.40" y2="310.70" stroke="#111" stroke-width="1.0"/>
<line x1="75.98" y1="309.30" x2="75.98" y2="310.70" stroke="#111" stroke-width="1.0"/>
<line x1="77.36" y1="309.30" x2="77.36" y2="310.70" stroke="#111" stroke-width="1.0"/>
<line x1="78.57" y1="309.30" x2="78.57" y2="310.70" stroke="#111" stroke-width="1.0"/>
<line x1="79.65" y1="309.30" x2="79.65" y2="311.90" stroke="#111" stroke-width="1.0"/>
<line x1="86.78" y1="309.30" x2="86.78" y2="310.70" stroke="#111" stroke-width="1.0"/>
<line x1="90.95" y1="309.30" x2="90.95" y2="310.70" stroke="#111" stroke-width="1.0"/>
<line x1="93.90" y1="309.30" x2="93.90" y2="310.70" stroke="#111" stroke-width="1.0"/>
<line x1="96.20" y1="309.30" x2="96.20" y2="310.70" stroke="#111" stroke-width="1.0"/>
<line x1="98.07" y1="309.30" x2="98.07" y2="310.70" stroke="#111" stroke-width="1.0"/>
<line x1="99.66" y1="309.30" x2="99.66" y2="310.70" stroke="#111" stroke-width="1.0"/>
<line x1="101.03" y1="309.30" x2="101.03" y2="310.70" stroke="#111" stroke-width="1.0"/>
<line x1="102.24" y1="309.30" x2="102.24" y2="310.70" stroke="#111" stroke-width="1.0"/>
<line x1="103.33" y1="309.30" x2="103.33" y2="311.90" stroke="#111" stroke-width="1.0"/>
<line x1="110.45" y1="309.30" x2="110.45" y2="310.70" stroke="#111" stroke-width="1.0"/>
<line x1="114.62" y1="309.30" x2="114.62" y2="310.70" stroke="#111" stroke-width="1.0"/>
<line x1="117.58" y1="309.30" x2="117.58" y2="310.70" stroke="#111" stroke-width="1.0"/>
<line x1="119.87" y1="309.30" x2="119.87" y2="310.70" stroke="#111" stroke-width="1.0"/>
<line x1="121.75" y1="309.30" x2="121.75" y2="310.70" stroke="#111" stroke-width="1.0"/>
<line x1="123.33" y1="309.30" x2="123.33" y2="310.70" stroke="#111" stroke-width="1.0"/>
<line x1="124.71" y1="309.30" x2="124.71" y2="310.70" stroke="#111" stroke-width="1.0"/>
<line x1="125.92" y1="309.30" x2="125.92" y2="310.70" stroke="#111" stroke-width="1.0"/>
<line x1="127.00" y1="309.30" x2="127.00" y2="311.90" stroke="#111" stroke-width="1.0"/>
<text x="27.70" y="307.60" font-size="6.6" text-anchor="middle" fill="#444" stroke="#444" stroke-width="0.3" transform="rotate(-90 27.70 307.60)">0</text>
<text x="27.70" y="291.38" font-size="6.6" text-anchor="middle" fill="#444" stroke="#444" stroke-width="0.3" transform="rotate(-90 27.70 291.38)">200</text>
<text x="27.70" y="275.16" font-size="6.6" text-anchor="middle" fill="#444" stroke="#444" stroke-width="0.3" transform="rotate(-90 27.70 275.16)">400</text>
<text x="27.70" y="258.94" font-size="6.6" text-anchor="middle" fill="#444" stroke="#444" stroke-width="0.3" transform="rotate(-90 27.70 258.94)">600</text>
<text x="27.70" y="242.72" font-size="6.6" text-anchor="middle" fill="#444" stroke="#444" stroke-width="0.3" transform="rotate(-90 27.70 242.72)">800</text>
<text x="27.70" y="226.50" font-size="6.6" text-anchor="middle" fill="#444" stroke="#444" stroke-width="0.3" transform="rotate(-90 27.70 226.50)">1000</text>
<text x="31.70" y="319.90" font-size="7" fill="#444" stroke="#444" stroke-width="0.3" text-anchor="middle">10<tspan font-size="5.8" dy="-2.9">0</tspan></text>
<text x="55.37" y="319.90" font-size="7" fill="#444" stroke="#444" stroke-width="0.3" text-anchor="middle">10<tspan font-size="5.8" dy="-2.9">1</tspan></text>
<text x="79.05" y="319.90" font-size="7" fill="#444" stroke="#444" stroke-width="0.3" text-anchor="middle">10<tspan font-size="5.8" dy="-2.9">2</tspan></text>
<text x="102.73" y="319.90" font-size="7" fill="#444" stroke="#444" stroke-width="0.3" text-anchor="middle">10<tspan font-size="5.8" dy="-2.9">3</tspan></text>
<text x="126.40" y="319.90" font-size="7" fill="#444" stroke="#444" stroke-width="0.3" text-anchor="middle">10<tspan font-size="5.8" dy="-2.9">4</tspan></text>
<text x="52.00" y="332.40" font-size="10.75" fill="#222" stroke="#222" stroke-width="0.05" textLength="56.00" lengthAdjust="spacingAndGlyphs">CD45-PerCP</text>
<text x="17.60" y="268.00" font-size="11.77" text-anchor="middle" fill="#222" stroke="#222" stroke-width="0.05" textLength="22.30" lengthAdjust="spacingAndGlyphs" transform="rotate(-90 17.60 268.00)">SSC</text>
<text x="68.80" y="219.00" font-size="10.08" fill="#222" stroke="#222" stroke-width="0.12" textLength="17.40" lengthAdjust="spacingAndGlyphs">LYM</text>
<text x="88.30" y="274.80" font-size="8.51" fill="#333" stroke="#333" stroke-width="0.12" textLength="24.50" lengthAdjust="spacingAndGlyphs">CD45+</text>
<rect x="158.40" y="292.50" width="56.60" height="15.00" fill="#fff0f8" fill-opacity="1.0"/>
<rect x="158.40" y="295.80" width="20.10" height="8.30" fill="#ea36a6" fill-opacity="1.0"/>
<path transform="scale(.1)" stroke="#d02090" stroke-opacity="0.8" stroke-width="10" stroke-linecap="square" fill="none" d="M1774 2952h0m8 2h0m-201 1h0m32 2h0m43 0h0m79 1h0m14 0h0m36 1h0m-92 2h0m48 0h0m23 0h0m3 1h0m-63 1h0m-120 1h0m171 0h0m29 0h0m-52 1h0m-134 3h0m63 0h0m24 0h0m-82 2h0m145 1h0m-42 3h0m5 1h0m-29 1h0m-94 1h0m196 1h0m-181 1h0m43 2h0m68 2h0m-58 2h0m-70 1h0m114 0h0m-89 1h0m20 5h0m2 1h0m104 0h0m46 2h0m-56 1h0m-140 2h0m85 0h0m104 0h0m-186 2h0m20 2h0m51 0h0m123 0h0m-62 5h0m-72 1h0m112 1h0m-178 1h0m123 0h0m46 2h0m-79 1h0m91 1h0m4 2h0m-108 2h0m7 0h0m48 2h0m-124 1h0m6 0h0m83 1h0m-81 1h0m84 1h0m41 1h0m-72 3h0m33 0h0m-50 1h0m130 1h0m-160 1h0m86 0h0m-96 1h0m38 1h0m16 1h0m96 1h0m-139 1h0m67 0h0m-89 1h0m161 4h0m-86 2h0m-60 3h0"/>
<rect x="178.50" y="296.00" width="16.50" height="8.00" fill="#c44c9c" fill-opacity="0.9"/>
<path transform="scale(.1)" stroke="#4a1c3a" stroke-opacity="0.8" stroke-width="11" stroke-linecap="square" fill="none" d="M1926 2955h0m1 2h0m-87 2h0m45 4h0m-58 0h0m-22 2h0m13 0h0m115 0h0m19 3h0m-136 7h0m7 3h0m121 1h0m-164 2h0m39-1h0m62 1h0m44-1h0m7 5h0m-140 8h0m24 5h0m118 0h0m-59 4h0m6 0h0m-96 1h0m85 0h0m13 1h0m-6 5h0m50 0h0m5 0h0m-151 5h0m64 1h0m32 0h0m37-1h0m21 3h0m-71 1h0m-12 5h0m60 1h0m-62 7h0m-19 1h0m-34 2h0m124 3h0m-70 1h0m65 2h0m-29 1h0m-101 2h0m52 2h0"/>
<path transform="scale(.1)" stroke="#f0a8d4" stroke-opacity="0.85" stroke-width="10" stroke-linecap="square" fill="none" d="M2074 2944h0m-40 12h0m82 0h0m-107 2h0m-30 4h0m117 5h0m10 6h0m-21 1h0m-66 1h0m101 0h0m-84 1h0m19 0h0m52 2h0m12 0h0m-160 2h0m150 0h0m-26 2h0m-16 1h0m-28 1h0m-27 1h0m50 0h0m-60 2h0m53 0h0m33 0h0m-122 2h0m-7 1h0m77 0h0m71 0h0m-99 3h0m113 1h0m-77 2h0m87 0h0m5 0h0m-54 1h0m-56 1h0m66 0h0m-75 1h0m-59 1h0m178 0h0m-149 1h0m30 0h0m48 0h0m76 0h0m-50 1h0m-136 1h0m129 0h0m-122 1h0m112 0h0m26 0h0m-87 2h0m117 0h0m-154 1h0m34 0h0m21 0h0m20 0h0m8 0h0m-64 1h0m97 0h0m-120 1h0m119 0h0m32 1h0m-156 1h0m23 0h0m38 0h0m73 0h0m-90 1h0m107 0h0m-124 1h0m5 0h0m8 2h0m57 0h0m15 0h0m40 0h0m16 0h0m4 0h0m-154 1h0m27 0h0m57 0h0m55 0h0m5 0h0m-139 1h0m24 0h0m88 0h0m-83 1h0m77 1h0m-59 1h0m56 0h0m-133 2h0m73 0h0m-48 1h0m12 1h0m79 0h0m19 1h0m-99 1h0m57 0h0m-54 1h0m-33 1h0m57 0h0m-38 2h0m64 1h0m-78 4h0m31 1h0m9 2h0m117 3h0m-33 3h0m-97 1h0m-27 1h0m35 0h0m114 0h0m-83 1h0"/>
<rect x="224.20" y="295.80" width="32.00" height="14.00" fill="#d6f7f3" fill-opacity="0.9"/>
<rect x="240.00" y="304.00" width="16.00" height="6.00" fill="#a8ece8" fill-opacity="0.8"/>
<path transform="scale(.1)" stroke="#3cbcc4" stroke-opacity="0.8" stroke-width="10" stroke-linecap="square" fill="none" d="M2552 2945h0m-132 4h0m32 3h0m-73 2h0m92 2h0m61 0h0m-104 1h0m-123 1h0m33 0h0m68 0h0m52 0h0m-123 1h0m167 0h0m-106 2h0m73 0h0m32 0h0m-63 1h0m-62 1h0m69 0h0m8 0h0m-66 2h0m-67 1h0m41 2h0m170 0h0m-77 1h0m6 0h0m49 0h0m-210 1h0m199 0h0m-113 1h0m45 0h0m38 0h0m43 0h0m-119 1h0m63 0h0m93 0h0m-240 3h0m122 0h0m47 0h0m-112 1h0m88 0h0m50 1h0m28 0h0m-197 1h0m146 0h0m-96 1h0m14 0h0m-1 1h0m4 0h0m16 0h0m15 0h0m79 0h0m45 0h0m-294 2h0m142 0h0m31 0h0m9 0h0m104 0h0m-109 1h0m0 0h0m130 0h0m-205 1h0m34 0h0m11 0h0m135 0h0m12 0h0m-240 1h0m47 0h0m34 0h0m-15 1h0m19 0h0m55 0h0m6 0h0m69 1h0m2 0h0m-171 1h0m15 0h0m-40 1h0m3 0h0m133 0h0m-47 1h0m29 0h0m73 0h0m24 0h0m-202 1h0m47 0h0m62 0h0m2 0h0m1 0h0m-121 1h0m51 0h0m9 0h0m-50 1h0m32 0h0m11 0h0m41 0h0m14 0h0m45 0h0m-176 1h0m235 0h0m-210 1h0m130 0h0m-103 1h0m52 0h0m112 0h0m-227 1h0m29 0h0m10 0h0m11 0h0m8 0h0m4 0h0m6 0h0m8 0h0m9 0h0m77 0h0m53 0h0m1 0h0m-156 1h0m23 0h0m27 0h0m-61 1h0m4 0h0m60 0h0m37 0h0m13 0h0m24 0h0m25 0h0m-157 1h0m24 0h0m2 0h0m27 0h0m45 0h0m38 0h0m3 0h0m14 0h0m-141 1h0m49 0h0m36 0h0m11 0h0m7 0h0m31 0h0m-149 1h0m52 0h0m6 0h0m22 0h0m32 0h0m-106 1h0m19 0h0m7 0h0m21 0h0m3 0h0m69 0h0m48 0h0m-216 1h0m44 0h0m20 0h0m24 0h0m52 0h0m1 0h0m19 0h0m21 0h0m64 0h0m-126 1h0m19 0h0m9 0h0m-85 1h0m116 0h0m26 0h0m-257 1h0m170 0h0m-16 1h0m22 0h0m24 0h0m97 0h0m-196 1h0m46 0h0m60 0h0m18 0h0m-172 1h0m76 0h0m70 0h0m100 0h0m-166 1h0m51 0h0m53 0h0m-153 1h0m68 0h0m17 0h0m67 0h0m23 0h0m-122 1h0m126 0h0m29 0h0m-105 1h0m1 0h0m43 0h0m15 0h0m26 0h0m-163 1h0m134 0h0m-176 1h0m9 0h0m27 0h0m17 0h0m22 0h0m14 0h0m2 0h0m79 0h0m1 0h0m57 0h0m-84 1h0m-82 1h0m24 0h0m-60 1h0m16 0h0m17 0h0m9 0h0m39 0h0m6 0h0m23 0h0m8 0h0m-113 1h0m32 0h0m11 0h0m14 0h0m79 0h0m49 0h0m8 0h0m-151 1h0m59 0h0m4 0h0m0 0h0m29 0h0m-25 1h0m50 0h0m28 0h0m-249 1h0m72 0h0m2 0h0m44 0h0m0 0h0m24 0h0m17 0h0m-106 1h0m20 0h0m38 0h0m47 0h0m-142 1h0m17 0h0m85 0h0m-79 1h0m129 0h0m-19 1h0m2 0h0m-172 1h0m29 0h0m176 0h0m6 0h0m-107 1h0m-7 2h0m27 0h0m18 0h0m35 0h0m3 0h0m-122 1h0m14 0h0m50 0h0m47 0h0m39 0h0m-159 1h0m72 0h0m67 0h0m64 0h0m-76 1h0m-158 1h0m65 0h0m95 0h0m9 0h0m-159 1h0m155 0h0m51 0h0m-157 1h0m-80 1h0m112 0h0m27 0h0m68 0h0m14 0h0m-62 1h0m-9 1h0m17 0h0m-44 1h0m40 1h0m58 0h0m-112 1h0m-83 1h0m92 0h0m-14 2h0m14 1h0m178 1h0m-133 1h0m42 0h0m-128 2h0m31 0h0m87 0h0m-31 1h0m-64 1h0m103 0h0m-46 1h0m-36 1h0m-29 1h0m145 0h0m-128 2h0m1 2h0m-123 5h0m125 0h0m-20 1h0m109 0h0m9 1h0m-38 5h0m-23 2h0"/>
<path transform="scale(.1)" stroke="#0c4c5a" stroke-opacity="0.9" stroke-width="11" stroke-linecap="square" fill="none" d="M2520 2950h0m-36 6h0m5 0h0m-84 2h0m121 1h0m-66 2h0m-32 1h0m45 1h0m-83 1h0m88 0h0m12 0h0m45 0h0m-91 1h0m23 0h0m1 0h0m6-1h0m2 1h0m-65 3h0m55-1h0m-4 1h0m13 0h0m-10 1h0m-41 2h0m13-1h0m22 1h0m-28 2h0m5 0h0m59-1h0m6 0h0m26 0h0m-74 1h0m10 0h0m67 0h0m-96 2h0m54-1h0m-74 1h0m55 1h0m3-1h0m13 0h0m4 1h0m-78 0h0m49 1h0m0 0h0m16 0h0m-31 0h0m0 0h0m23 1h0m-18 0h0m8 0h0m43 0h0m16 0h0m-134 2h0m102-1h0m33 0h0m-102 1h0m56 0h0m-78 2h0m57 0h0m5 0h0m4-1h0m4 0h0m6 1h0m25-1h0m2 1h0m-99 0h0m17 1h0m17 0h0m11-1h0m17 0h0m5 0h0m5 1h0m13-1h0m-34 1h0m27 1h0m40 0h0m-121 1h0m18-1h0m19 1h0m28 0h0m13-1h0m22 0h0m35 1h0m-136 1h0m57 0h0m18 0h0m23 0h0m-113 0h0m34 1h0m22-1h0m26 1h0m16 0h0m50 0h0m26 0h0m-131 0h0m4 0h0m49 0h0m-77 1h0m16 1h0m49 0h0m13 0h0m41 0h0m-61 1h0m25 0h0m24-1h0m2 1h0m47-1h0m-127 2h0m28-1h0m0 0h0m-107 2h0m83 0h0m-1 1h0m25-1h0m9 0h0m17 0h0m1 0h0m2 1h0m5-1h0m22 0h0m-96 1h0m49 0h0m2 1h0m-66 1h0m9 0h0m16-1h0m26 1h0m20-1h0m21 1h0m9-1h0m3 1h0m3 0h0m-60 0h0m1 0h0m29 1h0m23-1h0m7 0h0m-26 2h0m13 0h0m-79 1h0m26-1h0m33 1h0m4 0h0m1 0h0m14-1h0m6 0h0m1 1h0m9 0h0m21 0h0m-113 0h0m9 0h0m26 0h0m34 0h0m8 1h0m38-1h0m11 0h0m-108 1h0m11 1h0m8 0h0m4-1h0m4 0h0m0 0h0m32 0h0m33 1h0m-52 0h0m38 0h0m1 1h0m0-1h0m-82 2h0m0 1h0m12-1h0m35 0h0m5 1h0m21 0h0m-86 1h0m6-1h0m45 0h0m11 1h0m2 0h0m-47 1h0m14-1h0m42 0h0m22 1h0m20-1h0m-61 1h0m21 0h0m1 0h0m3 0h0m47 1h0m-95 0h0m1 1h0m27-1h0m1 1h0m8 0h0m-118 1h0m26 0h0m25 0h0m45 0h0m20-1h0m17 0h0m17 0h0m-105 2h0m5-1h0m37 1h0m4-1h0m9 0h0m28 1h0m-78 1h0m13 0h0m47 0h0m35 0h0m1 0h0m-80 0h0m31 1h0m0-1h0m14 1h0m11-1h0m-112 1h0m147 1h0m-118 0h0m40 0h0m2 0h0m14 1h0m6 0h0m2 0h0m0 0h0m3-1h0m32 1h0m11 0h0m-95 0h0m28 0h0m4 1h0m40-1h0m5 1h0m-92 0h0m3 0h0m24 0h0m15 0h0m9 1h0m17 0h0m8-1h0m-18 1h0m-69 2h0m13 0h0m99 0h0m-94 1h0m2 0h0m32-1h0m15 1h0m8-1h0m23 1h0m-82 0h0m17 1h0m20-1h0m2 0h0m46 0h0m19 1h0m13 0h0m-96 1h0m38 0h0m41-1h0m15 1h0m-108 1h0m24 0h0m8 0h0m10 0h0m-37 0h0m55 1h0m-47 1h0m53 0h0m3-1h0m18 0h0m-74 2h0m11 0h0m93 0h0m-69 2h0m19 0h0m25 0h0m-128 1h0m39-1h0m108 1h0m-126 3h0m24-1h0m53 3h0m25-1h0m-55 1h0m10 2h0m10-1h0m21 1h0m-68 0h0m45 2h0m4 0h0m-20 1h0m12 1h0m55 0h0m-67 1h0m15 1h0m39 2h0m2 4h0m7-1h0m-72 6h0"/>
<path transform="scale(.1)" stroke="#c4ac34" stroke-opacity="0.8" stroke-width="10" stroke-linecap="square" fill="none" d="M2414 3023h0m-53 4h0m-60 5h0m100 2h0m-29 1h0m-11 1h0m-39 1h0m30 1h0m32 0h0m-2 1h0m-46 2h0m26 1h0m27 0h0m4 0h0m-57 1h0m28 0h0m-35 1h0m39 0h0m2 0h0m1 0h0m3 0h0m37 2h0m-99 1h0m32 0h0m5 0h0m4 1h0m15 0h0m9 0h0m-12 2h0m29 0h0m14 0h0m-52 1h0m-2 1h0m38 1h0m38 0h0m-102 1h0m26 2h0m70 0h0m-63 3h0m49 3h0"/>
<path transform="scale(.1)" stroke="#7a92e0" stroke-opacity="0.8" stroke-width="10" stroke-linecap="square" fill="none" d="M2519 3023h0m16 2h0m-43 7h0m27 0h0m-84 1h0m21 0h0m21 2h0m-16 1h0m72 2h0m-46 1h0m-28 1h0m-7 1h0m11 0h0m32 0h0m58 0h0m-59 1h0m11 0h0m38 0h0m-50 1h0m55 0h0m6 0h0m-85 1h0m26 0h0m21 0h0m-50 1h0m22 0h0m-5 1h0m26 0h0m89 0h0m-95 1h0m19 0h0m11 0h0m18 0h0m-62 1h0m32 0h0m-62 1h0m66 1h0m-97 4h0m133 0h0m-51 1h0m-8 1h0m-73 2h0m78 0h0m19 2h0m27 1h0m40 0h0m-51 2h0m-30 1h0m-58 5h0m8 3h0"/>
<clipPath id="c2"><rect x="158.0" y="223.2" width="108.30000000000001" height="88.19999999999999"/></clipPath>
<ellipse cx="246.50" cy="295.50" rx="28.20" ry="14.00" fill="none" stroke="#111" stroke-width="1.15" clip-path="url(#c2)"/>
<line x1="158.00" y1="223.20" x2="266.30" y2="223.20" stroke="#555" stroke-width="1.0"/>
<line x1="266.30" y1="223.20" x2="266.30" y2="311.40" stroke="#555" stroke-width="1.0"/>
<line x1="158.00" y1="222.70" x2="158.00" y2="311.90" stroke="#333" stroke-width="1.0"/>
<line x1="157.50" y1="311.40" x2="266.80" y2="311.40" stroke="#333" stroke-width="1.0"/>
<line x1="155.40" y1="309.70" x2="158.00" y2="309.70" stroke="#111" stroke-width="1.0"/>
<line x1="156.60" y1="306.33" x2="158.00" y2="306.33" stroke="#111" stroke-width="1.0"/>
<line x1="156.60" y1="302.96" x2="158.00" y2="302.96" stroke="#111" stroke-width="1.0"/>
<line x1="156.60" y1="299.60" x2="158.00" y2="299.60" stroke="#111" stroke-width="1.0"/>
<line x1="156.60" y1="296.23" x2="158.00" y2="296.23" stroke="#111" stroke-width="1.0"/>
<line x1="155.40" y1="292.86" x2="158.00" y2="292.86" stroke="#111" stroke-width="1.0"/>
<line x1="156.60" y1="289.49" x2="158.00" y2="289.49" stroke="#111" stroke-width="1.0"/>
<line x1="156.60" y1="286.12" x2="158.00" y2="286.12" stroke="#111" stroke-width="1.0"/>
<line x1="156.60" y1="282.76" x2="158.00" y2="282.76" stroke="#111" stroke-width="1.0"/>
<line x1="156.60" y1="279.39" x2="158.00" y2="279.39" stroke="#111" stroke-width="1.0"/>
<line x1="155.40" y1="276.02" x2="158.00" y2="276.02" stroke="#111" stroke-width="1.0"/>
<line x1="156.60" y1="272.65" x2="158.00" y2="272.65" stroke="#111" stroke-width="1.0"/>
<line x1="156.60" y1="269.28" x2="158.00" y2="269.28" stroke="#111" stroke-width="1.0"/>
<line x1="156.60" y1="265.92" x2="158.00" y2="265.92" stroke="#111" stroke-width="1.0"/>
<line x1="156.60" y1="262.55" x2="158.00" y2="262.55" stroke="#111" stroke-width="1.0"/>
<line x1="155.40" y1="259.18" x2="158.00" y2="259.18" stroke="#111" stroke-width="1.0"/>
<line x1="156.60" y1="255.81" x2="158.00" y2="255.81" stroke="#111" stroke-width="1.0"/>
<line x1="156.60" y1="252.44" x2="158.00" y2="252.44" stroke="#111" stroke-width="1.0"/>
<line x1="156.60" y1="249.08" x2="158.00" y2="249.08" stroke="#111" stroke-width="1.0"/>
<line x1="156.60" y1="245.71" x2="158.00" y2="245.71" stroke="#111" stroke-width="1.0"/>
<line x1="155.40" y1="242.34" x2="158.00" y2="242.34" stroke="#111" stroke-width="1.0"/>
<line x1="156.60" y1="238.97" x2="158.00" y2="238.97" stroke="#111" stroke-width="1.0"/>
<line x1="156.60" y1="235.60" x2="158.00" y2="235.60" stroke="#111" stroke-width="1.0"/>
<line x1="156.60" y1="232.24" x2="158.00" y2="232.24" stroke="#111" stroke-width="1.0"/>
<line x1="156.60" y1="228.87" x2="158.00" y2="228.87" stroke="#111" stroke-width="1.0"/>
<line x1="155.40" y1="225.50" x2="158.00" y2="225.50" stroke="#111" stroke-width="1.0"/>
<line x1="158.00" y1="311.40" x2="158.00" y2="314.00" stroke="#111" stroke-width="1.0"/>
<line x1="166.15" y1="311.40" x2="166.15" y2="312.80" stroke="#111" stroke-width="1.0"/>
<line x1="170.92" y1="311.40" x2="170.92" y2="312.80" stroke="#111" stroke-width="1.0"/>
<line x1="174.30" y1="311.40" x2="174.30" y2="312.80" stroke="#111" stroke-width="1.0"/>
<line x1="176.92" y1="311.40" x2="176.92" y2="312.80" stroke="#111" stroke-width="1.0"/>
<line x1="179.07" y1="311.40" x2="179.07" y2="312.80" stroke="#111" stroke-width="1.0"/>
<line x1="180.88" y1="311.40" x2="180.88" y2="312.80" stroke="#111" stroke-width="1.0"/>
<line x1="182.45" y1="311.40" x2="182.45" y2="312.80" stroke="#111" stroke-width="1.0"/>
<line x1="183.84" y1="311.40" x2="183.84" y2="312.80" stroke="#111" stroke-width="1.0"/>
<line x1="185.07" y1="311.40" x2="185.07" y2="314.00" stroke="#111" stroke-width="1.0"/>
<line x1="193.23" y1="311.40" x2="193.23" y2="312.80" stroke="#111" stroke-width="1.0"/>
<line x1="197.99" y1="311.40" x2="197.99" y2="312.80" stroke="#111" stroke-width="1.0"/>
<line x1="201.38" y1="311.40" x2="201.38" y2="312.80" stroke="#111" stroke-width="1.0"/>
<line x1="204.00" y1="311.40" x2="204.00" y2="312.80" stroke="#111" stroke-width="1.0"/>
<line x1="206.14" y1="311.40" x2="206.14" y2="312.80" stroke="#111" stroke-width="1.0"/>
<line x1="207.96" y1="311.40" x2="207.96" y2="312.80" stroke="#111" stroke-width="1.0"/>
<line x1="209.53" y1="311.40" x2="209.53" y2="312.80" stroke="#111" stroke-width="1.0"/>
<line x1="210.91" y1="311.40" x2="210.91" y2="312.80" stroke="#111" stroke-width="1.0"/>
<line x1="212.15" y1="311.40" x2="212.15" y2="314.00" stroke="#111" stroke-width="1.0"/>
<line x1="220.30" y1="311.40" x2="220.30" y2="312.80" stroke="#111" stroke-width="1.0"/>
<line x1="225.07" y1="311.40" x2="225.07" y2="312.80" stroke="#111" stroke-width="1.0"/>
<line x1="228.45" y1="311.40" x2="228.45" y2="312.80" stroke="#111" stroke-width="1.0"/>
<line x1="231.07" y1="311.40" x2="231.07" y2="312.80" stroke="#111" stroke-width="1.0"/>
<line x1="233.22" y1="311.40" x2="233.22" y2="312.80" stroke="#111" stroke-width="1.0"/>
<line x1="235.03" y1="311.40" x2="235.03" y2="312.80" stroke="#111" stroke-width="1.0"/>
<line x1="236.60" y1="311.40" x2="236.60" y2="312.80" stroke="#111" stroke-width="1.0"/>
<line x1="237.99" y1="311.40" x2="237.99" y2="312.80" stroke="#111" stroke-width="1.0"/>
<line x1="239.23" y1="311.40" x2="239.23" y2="314.00" stroke="#111" stroke-width="1.0"/>
<line x1="247.38" y1="311.40" x2="247.38" y2="312.80" stroke="#111" stroke-width="1.0"/>
<line x1="252.14" y1="311.40" x2="252.14" y2="312.80" stroke="#111" stroke-width="1.0"/>
<line x1="255.53" y1="311.40" x2="255.53" y2="312.80" stroke="#111" stroke-width="1.0"/>
<line x1="258.15" y1="311.40" x2="258.15" y2="312.80" stroke="#111" stroke-width="1.0"/>
<line x1="260.29" y1="311.40" x2="260.29" y2="312.80" stroke="#111" stroke-width="1.0"/>
<line x1="262.11" y1="311.40" x2="262.11" y2="312.80" stroke="#111" stroke-width="1.0"/>
<line x1="263.68" y1="311.40" x2="263.68" y2="312.80" stroke="#111" stroke-width="1.0"/>
<line x1="265.06" y1="311.40" x2="265.06" y2="312.80" stroke="#111" stroke-width="1.0"/>
<line x1="266.30" y1="311.40" x2="266.30" y2="314.00" stroke="#111" stroke-width="1.0"/>
<text x="153.40" y="309.70" font-size="6.6" text-anchor="middle" fill="#444" stroke="#444" stroke-width="0.3" transform="rotate(-90 153.40 309.70)">0</text>
<text x="153.40" y="292.86" font-size="6.6" text-anchor="middle" fill="#444" stroke="#444" stroke-width="0.3" transform="rotate(-90 153.40 292.86)">200</text>
<text x="153.40" y="276.02" font-size="6.6" text-anchor="middle" fill="#444" stroke="#444" stroke-width="0.3" transform="rotate(-90 153.40 276.02)">400</text>
<text x="153.40" y="259.18" font-size="6.6" text-anchor="middle" fill="#444" stroke="#444" stroke-width="0.3" transform="rotate(-90 153.40 259.18)">600</text>
<text x="153.40" y="242.34" font-size="6.6" text-anchor="middle" fill="#444" stroke="#444" stroke-width="0.3" transform="rotate(-90 153.40 242.34)">800</text>
<text x="153.40" y="225.50" font-size="6.6" text-anchor="middle" fill="#444" stroke="#444" stroke-width="0.3" transform="rotate(-90 153.40 225.50)">1000</text>
<text x="157.40" y="322.00" font-size="7" fill="#444" stroke="#444" stroke-width="0.3" text-anchor="middle">10<tspan font-size="5.8" dy="-2.9">0</tspan></text>
<text x="184.47" y="322.00" font-size="7" fill="#444" stroke="#444" stroke-width="0.3" text-anchor="middle">10<tspan font-size="5.8" dy="-2.9">1</tspan></text>
<text x="211.55" y="322.00" font-size="7" fill="#444" stroke="#444" stroke-width="0.3" text-anchor="middle">10<tspan font-size="5.8" dy="-2.9">2</tspan></text>
<text x="238.63" y="322.00" font-size="7" fill="#444" stroke="#444" stroke-width="0.3" text-anchor="middle">10<tspan font-size="5.8" dy="-2.9">3</tspan></text>
<text x="265.70" y="322.00" font-size="7" fill="#444" stroke="#444" stroke-width="0.3" text-anchor="middle">10<tspan font-size="5.8" dy="-2.9">4</tspan></text>
<text x="193.20" y="331.00" font-size="10.75" fill="#222" stroke="#222" stroke-width="0.05" textLength="35.20" lengthAdjust="spacingAndGlyphs">CD3-PE</text>
<text x="141.00" y="270.70" font-size="11.77" text-anchor="middle" fill="#222" stroke="#222" stroke-width="0.05" textLength="22.30" lengthAdjust="spacingAndGlyphs" transform="rotate(-90 141.00 270.70)">SSC</text>
<text x="194.50" y="218.40" font-size="10.08" fill="#222" stroke="#222" stroke-width="0.12" textLength="30.50" lengthAdjust="spacingAndGlyphs">CD45+</text>
<text x="237.30" y="274.10" font-size="8.51" fill="#333" stroke="#333" stroke-width="0.12" textLength="21.60" lengthAdjust="spacingAndGlyphs">CD3+</text>
<rect x="302.00" y="291.50" width="50.00" height="16.00" fill="#fff0f8" fill-opacity="1.0"/>
<rect x="303.00" y="296.20" width="17.20" height="7.60" fill="#f034aa" fill-opacity="1.0"/>
<path transform="scale(.1)" stroke="#e83aa4" stroke-opacity="0.85" stroke-width="10" stroke-linecap="square" fill="none" d="M3060 2953h0m155 0h0m-139 2h0m51 0h0m-73 1h0m-14 1h0m149 0h0m-8 2h0m32 1h0m-76 3h0m51 0h0m21 0h0m-127 1h0m23 0h0m37 0h0m7 1h0m45 0h0m24 0h0m-174 1h0m1 0h0m58 0h0m21 0h0m19 1h0m49 0h0m-162 1h0m121 2h0m25 0h0m10 1h0m-60 2h0m-94 1h0m74 0h0m111 0h0m-178 1h0m183 0h0m-105 1h0m44 0h0m60 0h0m-165 1h0m35 0h0m35 1h0m29 1h0m-106 1h0m44 0h0m53 0h0m-89 1h0m65 1h0m27 0h0m57 0h0m-75 1h0m57 0h0m-75 1h0m-43 1h0m123 0h0m-163 1h0m153 0h0m39 0h0m-150 2h0m109 2h0m18 0h0m-166 1h0m35 0h0m-34 2h0m60 0h0m12 0h0m55 1h0m43 0h0m-63 3h0m-42 1h0m9 0h0m73 0h0m-124 1h0m-12 1h0m151 0h0m-107 1h0m103 0h0m-126 2h0m48 2h0m31 0h0m-61 1h0m4 1h0m-56 3h0m15 0h0m0 0h0m145 0h0m-162 1h0m24 0h0m48 1h0m-37 1h0m152 0h0m-187 3h0m19 1h0m14 1h0m-15 1h0m47 0h0m13 0h0m51 1h0m29 0h0m-124 2h0m2 0h0m58 1h0m26 0h0m-100 1h0m102 0h0m11 0h0m32 0h0m-153 2h0m-10 1h0m67 0h0m-43 1h0m94 0h0m21 0h0m-101 1h0m34 0h0m45 3h0m-97 1h0m77 0h0m2 0h0m9 0h0m-112 1h0m27 0h0m119 0h0m-148 2h0m114 0h0m-113 2h0m178 0h0m-159 1h0m79 1h0m1 0h0m-29 1h0m77 1h0m-4 1h0m-120 1h0m72 1h0m9 0h0m18 0h0m7 1h0m51 0h0m-104 1h0m69 0h0m-145 1h0m147 0h0m47 0h0m-127 2h0m41 0h0m-108 1h0m80 0h0m60 0h0m3 0h0m27 0h0m13 0h0m10 1h0m-49 1h0m20 0h0m-132 2h0m93 0h0m9 0h0m-84 1h0m140 0h0m-164 1h0m100 0h0"/>
<rect x="320.20" y="296.20" width="15.80" height="7.60" fill="#b44c98" fill-opacity="0.95"/>
<path transform="scale(.1)" stroke="#8c3070" stroke-opacity="0.8" stroke-width="10" stroke-linecap="square" fill="none" d="M3282 2954h0m31 1h0m-65 1h0m0 1h0m51 0h0m-65 1h0m-41 1h0m141 0h0m-76 1h0m92 0h0m-158 1h0m67 0h0m38 0h0m-77 1h0m-22 2h0m118 0h0m13 0h0m22 0h0m-66 2h0m8 0h0m56 0h0m-154 1h0m30 0h0m32 1h0m34 1h0m-98 3h0m15 0h0m10 0h0m39 0h0m38 0h0m29 0h0m11 0h0m-53 1h0m1 1h0m77 0h0m-89 2h0m29 0h0m-77 4h0m-2 1h0m45 3h0m19 0h0m74 0h0m15 1h0m-36 1h0m-56 1h0m16 1h0m13 0h0m45 1h0m2 2h0m-106 3h0m-12 1h0m47 1h0m-46 1h0m108 0h0m-37 2h0m8 1h0m9 0h0m6 0h0m-60 1h0m-67 1h0m17 0h0m46 0h0m-46 3h0m-5 1h0m4 0h0m3 0h0m114 0h0m-100 1h0m62 0h0m58 0h0m6 0h0m-87 1h0m83 0h0m-64 1h0m-60 1h0m33 0h0m59 0h0m40 0h0m1 0h0m-138 1h0m40 0h0m68 0h0m-77 1h0m-73 1h0m86 1h0m-60 1h0m-1 1h0m58 0h0m92 0h0m-172 1h0m21 0h0m35 2h0m40 0h0m20 0h0m-115 2h0m9 0h0m18 0h0m4 0h0m62 0h0m15 0h0m51 0h0m-159 4h0m72 0h0m-82 7h0m127 0h0m-60 3h0m0 1h0m-25 1h0m33 0h0m11 1h0m-3 1h0m6 0h0m-84 1h0m69 0h0m34 0h0m37 1h0m31 0h0m-54 2h0m49 0h0m11 0h0m-130 1h0m27 0h0m-61 2h0m40 0h0m47 0h0m25 0h0m-130 1h0m10 0h0m10 0h0m31 1h0m40 0h0m-7 5h0m4 0h0m100 0h0m-137 1h0m18 1h0m100 0h0m-8 1h0m-133 1h0m26 0h0"/>
<rect x="337.00" y="296.40" width="13.50" height="7.20" fill="#3a2424" fill-opacity="0.9"/>
<path transform="scale(.1)" stroke="#0a0a0a" stroke-opacity="0.9" stroke-width="11" stroke-linecap="square" fill="none" d="M3515 2954h0m-69 0h0m63 1h0m-127 0h0m-18 1h0m12 0h0m14 1h0m76-1h0m-65 1h0m19 0h0m64 1h0m44-1h0m-135 2h0m69 0h0m-54 0h0m22 1h0m48-1h0m15 1h0m-77 2h0m-11 0h0m79 1h0m-45 1h0m3 0h0m50-1h0m37 2h0m-109 0h0m44 0h0m-57 2h0m2 0h0m-39 0h0m69 1h0m-72 0h0m28 1h0m81 0h0m-109 1h0m69 1h0m-73 1h0m9-1h0m27 1h0m-18 0h0m81 1h0m-100 1h0m76-1h0m84 2h0m0-1h0m-26 2h0m-110 1h0m41 0h0m-25 1h0m59 0h0m-57 2h0m51-1h0m24 0h0m24 0h0m-89 2h0m3 0h0m83-1h0m-23 2h0m-85 0h0m117 0h0m-103 2h0m64-1h0m-38 2h0m18-1h0m-88 1h0m4 1h0m16-1h0m4 0h0m3 0h0m66 1h0m34 0h0m9 0h0m17 0h0m9 1h0m-153 1h0m106-1h0m-103 2h0m134-1h0m8 1h0m-24 0h0m-64 1h0m56 1h0m13-1h0m-82 1h0m9 0h0m12 1h0m5-1h0m-44 1h0m96 0h0m-6 2h0m-98 0h0m-19 2h0m21 1h0m112 0h0m-94 1h0m9 0h0m-62 1h0m47 0h0m9 0h0m76 2h0m3-1h0m23 0h0m-132 2h0m3 0h0m52-1h0m31 1h0m2 0h0m-84 1h0m54 0h0m16 0h0m63 0h0m-73 1h0m12 0h0m19 0h0m-30 1h0m35 1h0m17 1h0m18-1h0m-146 1h0m80 1h0m30 0h0m15 1h0m15-1h0m-154 3h0m2 0h0m69 0h0m29 1h0m30 0h0m-123 1h0m145 0h0m14-1h0m1 0h0m4 1h0m-134 2h0m81 0h0m38 0h0m17 0h0m-91 1h0m6 1h0m-1 2h0m33 2h0m20 0h0m-125 0h0m17 1h0m34 0h0m18 1h0m53 1h0m16 1h0m17-1h0m-171 1h0m120 0h0m-96 1h0m41 0h0m51 1h0m-84 0h0m4 1h0m12 0h0m71 0h0m27 0h0m-98 0h0m72 0h0m-119 2h0m29 0h0m106 0h0m26-1h0m-111 1h0m9 0h0m-36 1h0m41 1h0m50-1h0m35 0h0m-123 2h0m41-1h0m99 0h0m-157 2h0m135 0h0m-100 0h0m13 1h0m-41 2h0m49 0h0m5 0h0m-1 1h0m26 0h0m27 0h0m9-1h0m11 1h0m-77 1h0m27 1h0m-47 1h0m115-1h0m-14 1h0m7 1h0m9-1h0m-137 1h0m46 2h0m28 0h0m57 0h0m-56 1h0m62-1h0m-143 1h0m49 0h0m79 1h0m12-1h0m10 1h0m-158 1h0m58 1h0m93 2h0m-51 1h0m-83 0h0m83 0h0m-7 2h0m44-1h0m-91 2h0m4-1h0m4 0h0m85 0h0m-65 1h0m78 0h0m-145 1h0m83 0h0"/>
<path transform="scale(.1)" stroke="#c8a040" stroke-opacity="0.8" stroke-width="10" stroke-linecap="square" fill="none" d="M3501 3025h0m-44 2h0m18 1h0m42 1h0m-88 2h0m4 7h0m54 0h0m-33 2h0m6 2h0m-24 6h0m-4 1h0m-22 2h0m41 2h0m-19 3h0m11 8h0"/>
<path transform="scale(.1)" stroke="#80c070" stroke-opacity="0.8" stroke-width="10" stroke-linecap="square" fill="none" d="M3501 2954h0m64 13h0m-27 3h0m13 7h0m-26 2h0m2 0h0m-15 7h0m27 1h0m15 1h0m2 3h0m-25 3h0m22 0h0m-32 1h0m12 0h0m1 0h0m2 1h0m7 0h0m4 1h0m15 5h0m-32 2h0m-5 2h0m-11 5h0m13 3h0m20 2h0m4 4h0m-8 6h0m-17 2h0m30 0h0m-25 3h0m-19 1h0"/>
<rect x="367.00" y="296.00" width="17.00" height="7.00" fill="#a8f4f4" fill-opacity="0.9"/>
<path transform="scale(.1)" stroke="#4c9ef0" stroke-opacity="0.9" stroke-width="10" stroke-linecap="square" fill="none" d="M3702 2964h0m14 1h0m23 0h0m-37 3h0m14 0h0m-2 1h0m-17 2h0m12 2h0m24 1h0m-56 2h0m52 0h0m-24 1h0m-10 1h0m41 0h0m9 1h0m-30 1h0m36 0h0m-84 1h0m18 1h0m40 0h0m13 0h0m7 0h0m-38 3h0m19 0h0m-8 1h0m3 0h0m-11 1h0m14 0h0m-40 1h0m12 0h0m9 0h0m15 0h0m5 0h0m-6 1h0m1 0h0m8 0h0m25 1h0m-84 1h0m55 0h0m1 0h0m1 0h0m-20 1h0m41 0h0m2 0h0m-64 1h0m12 0h0m26 0h0m2 0h0m21 0h0m15 0h0m-13 1h0m29 0h0m-56 1h0m31 0h0m1 0h0m22 0h0m-61 1h0m15 0h0m21 0h0m-62 1h0m32 0h0m-30 1h0m6 0h0m16 0h0m21 0h0m-16 1h0m25 0h0m13 0h0m2 0h0m-52 1h0m2 0h0m43 0h0m42 0h0m-61 1h0m-9 1h0m29 0h0m15 0h0m-11 1h0m-45 1h0m38 0h0m-64 1h0m13 0h0m31 0h0m8 0h0m0 0h0m8 0h0m-62 1h0m40 0h0m10 0h0m28 1h0m-52 1h0m3 0h0m32 0h0m35 0h0m-77 1h0m11 0h0m25 0h0m41 0h0m-69 1h0m18 1h0m2 0h0m22 0h0m-23 1h0m36 0h0m-28 1h0m-6 1h0m-36 1h0m17 0h0m14 0h0m8 0h0m3 0h0m13 0h0m-57 2h0m48 0h0m2 1h0m-55 1h0m44 1h0m9 0h0m14 0h0m-19 1h0m2 1h0m-9 2h0m23 0h0m-19 1h0m-49 1h0m59 2h0m37 0h0m-60 1h0m28 3h0m-25 1h0"/>
<path transform="scale(.1)" stroke="#9a92e2" stroke-opacity="0.9" stroke-width="10" stroke-linecap="square" fill="none" d="M3696 2989h0m-40 1h0m7 7h0m-55 1h0m90 2h0m32 2h0m-40 4h0m14 0h0m-37 1h0m71 0h0m-102 1h0m0 1h0m24 0h0m10 0h0m41 0h0m21 0h0m10 0h0m-105 1h0m40 0h0m49 0h0m-28 1h0m-38 2h0m2 0h0m14 1h0m49 0h0m-77 1h0m2 0h0m20 0h0m18 0h0m-31 1h0m14 0h0m7 0h0m4 0h0m18 0h0m23 0h0m-9 1h0m-63 2h0m1 0h0m-7 1h0m2 0h0m76 1h0m-95 1h0m73 0h0m-20 1h0m45 0h0m-45 1h0m8 0h0m5 0h0m49 0h0m-110 1h0m26 0h0m2 0h0m11 0h0m-46 1h0m52 1h0m4 0h0m72 0h0m-120 1h0m30 0h0m6 0h0m38 0h0m-2 1h0m13 0h0m6 0h0m-45 1h0m63 0h0m-97 1h0m27 0h0m29 0h0m3 0h0m-61 1h0m8 0h0m25 2h0m8 0h0m5 0h0m-50 1h0m28 0h0m11 0h0m31 1h0m5 0h0m3 0h0m-57 1h0m20 1h0m4 0h0m-17 1h0m14 0h0m1 0h0m3 1h0m1 0h0m20 0h0m-42 1h0m-28 1h0m69 0h0m23 0h0m20 0h0m-68 1h0m19 0h0m-11 1h0m-13 1h0m18 2h0m8 0h0m-32 3h0m11 1h0m19 1h0m-37 1h0m-37 3h0m57 2h0m-21 2h0m-29 1h0m90 2h0"/>
<clipPath id="c3"><rect x="301.4" y="223.7" width="97.20000000000005" height="87.10000000000002"/></clipPath>
<path clip-path="url(#c3)" d="M400 288.7 L384 288.7 C369.5 288.7 358 292.8 358 299.6 C358 305.2 364 309 374 312.5" fill="none" stroke="#111" stroke-width="1.15"/>
<line x1="301.40" y1="223.70" x2="398.60" y2="223.70" stroke="#555" stroke-width="1.0"/>
<line x1="398.60" y1="223.70" x2="398.60" y2="310.80" stroke="#555" stroke-width="1.0"/>
<line x1="301.40" y1="223.20" x2="301.40" y2="311.30" stroke="#333" stroke-width="1.0"/>
<line x1="300.90" y1="310.80" x2="399.10" y2="310.80" stroke="#333" stroke-width="1.0"/>
<line x1="298.80" y1="309.10" x2="301.40" y2="309.10" stroke="#111" stroke-width="1.0"/>
<line x1="300.00" y1="305.78" x2="301.40" y2="305.78" stroke="#111" stroke-width="1.0"/>
<line x1="300.00" y1="302.45" x2="301.40" y2="302.45" stroke="#111" stroke-width="1.0"/>
<line x1="300.00" y1="299.13" x2="301.40" y2="299.13" stroke="#111" stroke-width="1.0"/>
<line x1="300.00" y1="295.80" x2="301.40" y2="295.80" stroke="#111" stroke-width="1.0"/>
<line x1="298.80" y1="292.48" x2="301.40" y2="292.48" stroke="#111" stroke-width="1.0"/>
<line x1="300.00" y1="289.16" x2="301.40" y2="289.16" stroke="#111" stroke-width="1.0"/>
<line x1="300.00" y1="285.83" x2="301.40" y2="285.83" stroke="#111" stroke-width="1.0"/>
<line x1="300.00" y1="282.51" x2="301.40" y2="282.51" stroke="#111" stroke-width="1.0"/>
<line x1="300.00" y1="279.18" x2="301.40" y2="279.18" stroke="#111" stroke-width="1.0"/>
<line x1="298.80" y1="275.86" x2="301.40" y2="275.86" stroke="#111" stroke-width="1.0"/>
<line x1="300.00" y1="272.54" x2="301.40" y2="272.54" stroke="#111" stroke-width="1.0"/>
<line x1="300.00" y1="269.21" x2="301.40" y2="269.21" stroke="#111" stroke-width="1.0"/>
<line x1="300.00" y1="265.89" x2="301.40" y2="265.89" stroke="#111" stroke-width="1.0"/>
<line x1="300.00" y1="262.56" x2="301.40" y2="262.56" stroke="#111" stroke-width="1.0"/>
<line x1="298.80" y1="259.24" x2="301.40" y2="259.24" stroke="#111" stroke-width="1.0"/>
<line x1="300.00" y1="255.92" x2="301.40" y2="255.92" stroke="#111" stroke-width="1.0"/>
<line x1="300.00" y1="252.59" x2="301.40" y2="252.59" stroke="#111" stroke-width="1.0"/>
<line x1="300.00" y1="249.27" x2="301.40" y2="249.27" stroke="#111" stroke-width="1.0"/>
<line x1="300.00" y1="245.94" x2="301.40" y2="245.94" stroke="#111" stroke-width="1.0"/>
<line x1="298.80" y1="242.62" x2="301.40" y2="242.62" stroke="#111" stroke-width="1.0"/>
<line x1="300.00" y1="239.30" x2="301.40" y2="239.30" stroke="#111" stroke-width="1.0"/>
<line x1="300.00" y1="235.97" x2="301.40" y2="235.97" stroke="#111" stroke-width="1.0"/>
<line x1="300.00" y1="232.65" x2="301.40" y2="232.65" stroke="#111" stroke-width="1.0"/>
<line x1="300.00" y1="229.32" x2="301.40" y2="229.32" stroke="#111" stroke-width="1.0"/>
<line x1="298.80" y1="226.00" x2="301.40" y2="226.00" stroke="#111" stroke-width="1.0"/>
<line x1="301.40" y1="310.80" x2="301.40" y2="313.40" stroke="#111" stroke-width="1.0"/>
<line x1="308.72" y1="310.80" x2="308.72" y2="312.20" stroke="#111" stroke-width="1.0"/>
<line x1="312.99" y1="310.80" x2="312.99" y2="312.20" stroke="#111" stroke-width="1.0"/>
<line x1="316.03" y1="310.80" x2="316.03" y2="312.20" stroke="#111" stroke-width="1.0"/>
<line x1="318.38" y1="310.80" x2="318.38" y2="312.20" stroke="#111" stroke-width="1.0"/>
<line x1="320.31" y1="310.80" x2="320.31" y2="312.20" stroke="#111" stroke-width="1.0"/>
<line x1="321.94" y1="310.80" x2="321.94" y2="312.20" stroke="#111" stroke-width="1.0"/>
<line x1="323.35" y1="310.80" x2="323.35" y2="312.20" stroke="#111" stroke-width="1.0"/>
<line x1="324.59" y1="310.80" x2="324.59" y2="312.20" stroke="#111" stroke-width="1.0"/>
<line x1="325.70" y1="310.80" x2="325.70" y2="313.40" stroke="#111" stroke-width="1.0"/>
<line x1="333.02" y1="310.80" x2="333.02" y2="312.20" stroke="#111" stroke-width="1.0"/>
<line x1="337.29" y1="310.80" x2="337.29" y2="312.20" stroke="#111" stroke-width="1.0"/>
<line x1="340.33" y1="310.80" x2="340.33" y2="312.20" stroke="#111" stroke-width="1.0"/>
<line x1="342.68" y1="310.80" x2="342.68" y2="312.20" stroke="#111" stroke-width="1.0"/>
<line x1="344.61" y1="310.80" x2="344.61" y2="312.20" stroke="#111" stroke-width="1.0"/>
<line x1="346.24" y1="310.80" x2="346.24" y2="312.20" stroke="#111" stroke-width="1.0"/>
<line x1="347.65" y1="310.80" x2="347.65" y2="312.20" stroke="#111" stroke-width="1.0"/>
<line x1="348.89" y1="310.80" x2="348.89" y2="312.20" stroke="#111" stroke-width="1.0"/>
<line x1="350.00" y1="310.80" x2="350.00" y2="313.40" stroke="#111" stroke-width="1.0"/>
<line x1="357.32" y1="310.80" x2="357.32" y2="312.20" stroke="#111" stroke-width="1.0"/>
<line x1="361.59" y1="310.80" x2="361.59" y2="312.20" stroke="#111" stroke-width="1.0"/>
<line x1="364.63" y1="310.80" x2="364.63" y2="312.20" stroke="#111" stroke-width="1.0"/>
<line x1="366.98" y1="310.80" x2="366.98" y2="312.20" stroke="#111" stroke-width="1.0"/>
<line x1="368.91" y1="310.80" x2="368.91" y2="312.20" stroke="#111" stroke-width="1.0"/>
<line x1="370.54" y1="310.80" x2="370.54" y2="312.20" stroke="#111" stroke-width="1.0"/>
<line x1="371.95" y1="310.80" x2="371.95" y2="312.20" stroke="#111" stroke-width="1.0"/>
<line x1="373.19" y1="310.80" x2="373.19" y2="312.20" stroke="#111" stroke-width="1.0"/>
<line x1="374.30" y1="310.80" x2="374.30" y2="313.40" stroke="#111" stroke-width="1.0"/>
<line x1="381.62" y1="310.80" x2="381.62" y2="312.20" stroke="#111" stroke-width="1.0"/>
<line x1="385.89" y1="310.80" x2="385.89" y2="312.20" stroke="#111" stroke-width="1.0"/>
<line x1="388.93" y1="310.80" x2="388.93" y2="312.20" stroke="#111" stroke-width="1.0"/>
<line x1="391.28" y1="310.80" x2="391.28" y2="312.20" stroke="#111" stroke-width="1.0"/>
<line x1="393.21" y1="310.80" x2="393.21" y2="312.20" stroke="#111" stroke-width="1.0"/>
<line x1="394.84" y1="310.80" x2="394.84" y2="312.20" stroke="#111" stroke-width="1.0"/>
<line x1="396.25" y1="310.80" x2="396.25" y2="312.20" stroke="#111" stroke-width="1.0"/>
<line x1="397.49" y1="310.80" x2="397.49" y2="312.20" stroke="#111" stroke-width="1.0"/>
<line x1="398.60" y1="310.80" x2="398.60" y2="313.40" stroke="#111" stroke-width="1.0"/>
<text x="296.80" y="309.10" font-size="6.6" text-anchor="middle" fill="#444" stroke="#444" stroke-width="0.3" transform="rotate(-90 296.80 309.10)">0</text>
<text x="296.80" y="292.48" font-size="6.6" text-anchor="middle" fill="#444" stroke="#444" stroke-width="0.3" transform="rotate(-90 296.80 292.48)">200</text>
<text x="296.80" y="275.86" font-size="6.6" text-anchor="middle" fill="#444" stroke="#444" stroke-width="0.3" transform="rotate(-90 296.80 275.86)">400</text>
<text x="296.80" y="259.24" font-size="6.6" text-anchor="middle" fill="#444" stroke="#444" stroke-width="0.3" transform="rotate(-90 296.80 259.24)">600</text>
<text x="296.80" y="242.62" font-size="6.6" text-anchor="middle" fill="#444" stroke="#444" stroke-width="0.3" transform="rotate(-90 296.80 242.62)">800</text>
<text x="296.80" y="226.00" font-size="6.6" text-anchor="middle" fill="#444" stroke="#444" stroke-width="0.3" transform="rotate(-90 296.80 226.00)">1000</text>
<text x="300.80" y="321.40" font-size="7" fill="#444" stroke="#444" stroke-width="0.3" text-anchor="middle">10<tspan font-size="5.8" dy="-2.9">0</tspan></text>
<text x="325.10" y="321.40" font-size="7" fill="#444" stroke="#444" stroke-width="0.3" text-anchor="middle">10<tspan font-size="5.8" dy="-2.9">1</tspan></text>
<text x="349.40" y="321.40" font-size="7" fill="#444" stroke="#444" stroke-width="0.3" text-anchor="middle">10<tspan font-size="5.8" dy="-2.9">2</tspan></text>
<text x="373.70" y="321.40" font-size="7" fill="#444" stroke="#444" stroke-width="0.3" text-anchor="middle">10<tspan font-size="5.8" dy="-2.9">3</tspan></text>
<text x="398.00" y="321.40" font-size="7" fill="#444" stroke="#444" stroke-width="0.3" text-anchor="middle">10<tspan font-size="5.8" dy="-2.9">4</tspan></text>
<text x="332.00" y="333.00" font-size="10.75" fill="#222" stroke="#222" stroke-width="0.05" textLength="43.60" lengthAdjust="spacingAndGlyphs">CD4-FITC</text>
<text x="290.00" y="270.00" font-size="11.77" text-anchor="middle" fill="#222" stroke="#222" stroke-width="0.05" textLength="22.30" lengthAdjust="spacingAndGlyphs" transform="rotate(-90 290.00 270.00)">SSC</text>
<text x="332.00" y="218.40" font-size="10.08" fill="#222" stroke="#222" stroke-width="0.12" textLength="30.20" lengthAdjust="spacingAndGlyphs">CD45+</text>
<text x="370.40" y="281.60" font-size="9.18" fill="#333" stroke="#333" stroke-width="0.12" textLength="20.50" lengthAdjust="spacingAndGlyphs">CD4+</text>
<rect x="437.00" y="291.00" width="33.00" height="4.00" fill="#fbe8f6" fill-opacity="0.9"/>
<rect x="437.00" y="303.30" width="29.00" height="3.70" fill="#dcf0f4" fill-opacity="0.9"/>
<rect x="436.80" y="295.00" width="13.20" height="8.30" fill="#a07ed6" fill-opacity="0.85"/>
<path transform="scale(.1)" stroke="#8c64c8" stroke-opacity="0.6" stroke-width="10" stroke-linecap="square" fill="none" d="M4499 2941h0m-49 2h0m14 1h0m-42 2h0m85 0h0m-108 1h0m50 3h0m48 1h0m-22 5h0m17 2h0m-65 2h0m50 1h0m-101 1h0m82 0h0m8 2h0m-21 1h0m-29 3h0m25 0h0m-24 2h0m62 0h0m2 0h0m-87 3h0m-10 1h0m69 1h0m33 5h0m-85 2h0m113 1h0m-102 1h0m22 1h0m22 0h0m34 1h0m13 3h0m-86 1h0m-39 1h0m66 1h0m25 0h0m-10 1h0m13 0h0m-58 3h0m23 2h0m31 1h0m-68 1h0m96 2h0m8 0h0m-36 1h0m-12 1h0m51 1h0m-118 3h0m76 0h0m-77 1h0m45 0h0m5 0h0m44 0h0m-82 2h0m-12 2h0m34 1h0m17 1h0m-33 2h0m-13 1h0m34 0h0m24 4h0m-3 1h0m65 0h0m-122 2h0m5 2h0m5 1h0m41 0h0m-49 3h0m89 1h0m-10 1h0m2 3h0m40 0h0m-32 1h0m28 0h0m-78 1h0m70 0h0m-104 1h0m106 0h0m-113 1h0m56 0h0m-57 5h0m117 1h0m-111 1h0m6 0h0m17 1h0m-43 1h0m57 1h0m31 0h0m-23 2h0m7 3h0"/>
<rect x="450.00" y="295.50" width="14.50" height="7.50" fill="#bcb8ee" fill-opacity="0.85"/>
<path transform="scale(.1)" stroke="#9a90dc" stroke-opacity="0.7" stroke-width="10" stroke-linecap="square" fill="none" d="M4578 2946h0m20 3h0m19 0h0m2 0h0m-64 3h0m33 1h0m11 0h0m34 1h0m11 2h0m-58 1h0m-38 1h0m23 0h0m82 0h0m-32 1h0m-94 1h0m128 0h0m-124 2h0m55 0h0m67 1h0m-128 1h0m68 0h0m-84 1h0m76 0h0m69 0h0m-58 1h0m-20 2h0m73 1h0m-147 1h0m34 0h0m-38 1h0m35 2h0m61 2h0m-77 1h0m21 2h0m14 0h0m-55 1h0m120 1h0m-16 2h0m43 0h0m-88 3h0m-50 1h0m44 0h0m90 1h0m-25 1h0m33 2h0m-113 1h0m31 0h0m77 3h0m-133 1h0m86 2h0m52 0h0m-46 1h0m-104 2h0m26 1h0m22 0h0m79 0h0m22 0h0m-130 2h0m34 1h0m102 0h0m-111 1h0m84 1h0m22 0h0m-106 1h0m32 0h0m-51 2h0m126 0h0m-133 1h0m57 0h0m67 0h0m-80 2h0m13 3h0m62 2h0m-45 1h0m32 0h0m11 0h0m-55 2h0m5 0h0m-41 1h0m-10 1h0m37 0h0m69 0h0m-135 2h0m111 0h0m15 0h0m9 2h0m-63 1h0m47 1h0m6 0h0m19 0h0m-104 1h0m24 0h0m67 0h0m-62 2h0m19 0h0m-66 1h0m102 0h0m-113 1h0m-10 1h0m44 2h0m41 0h0m5 0h0m-22 4h0m45 0h0m-58 1h0m-14 2h0m18 1h0m-46 1h0m18 0h0m61 0h0m-90 2h0m99 0h0m20 1h0m-110 1h0m56 1h0m15 1h0m59 1h0m-104 2h0m23 0h0m23 1h0"/>
<rect x="464.50" y="295.50" width="13.10" height="7.50" fill="#e890cc" fill-opacity="0.85"/>
<path transform="scale(.1)" stroke="#d45ab4" stroke-opacity="0.7" stroke-width="10" stroke-linecap="square" fill="none" d="M4672 2948h0m62 0h0m-62 1h0m4 1h0m-37 1h0m31 1h0m22 0h0m23 0h0m58 0h0m-114 2h0m105 2h0m-70 1h0m-9 2h0m27 0h0m62 0h0m-130 2h0m119 1h0m-44 2h0m-37 1h0m24 1h0m62 1h0m-100 3h0m3 0h0m9 0h0m34 1h0m-48 1h0m22 3h0m-53 3h0m108 2h0m-37 2h0m-26 2h0m5 0h0m52 0h0m-92 2h0m121 2h0m-102 2h0m-6 1h0m-12 1h0m37 0h0m39 1h0m-57 1h0m46 0h0m10 0h0m14 0h0m-66 1h0m64 0h0m16 1h0m13 0h0m-66 3h0m12 0h0m-66 2h0m27 0h0m19 0h0m-18 1h0m57 0h0m28 0h0m-9 6h0m5 0h0m-54 8h0m46 1h0m-33 1h0m50 0h0m-86 1h0m7 1h0m86 0h0m-127 2h0m8 0h0m107 3h0m-49 2h0m-26 2h0m30 0h0m-56 2h0m9 1h0m9 0h0m45 0h0m-64 2h0m-4 1h0m0 3h0m28 0h0m-35 1h0m8 0h0m77 2h0m-78 2h0m35 0h0m9 0h0m-45 5h0m21 1h0m10 0h0m32 1h0m-64 3h0"/>
<rect x="476.00" y="302.00" width="4.00" height="3.00" fill="#d8d070" fill-opacity="0.8"/>
<path transform="scale(.1)" stroke="#0a0a0a" stroke-opacity="0.95" stroke-width="11" stroke-linecap="square" fill="none" d="M5064 2952h0m-23 8h0m19 4h0m-39 1h0m23-1h0m-28 3h0m-30 0h0m11 1h0m15 0h0m-67 2h0m0 0h0m95 1h0m-67 1h0m15 0h0m18 0h0m-1 0h0m-114 2h0m169-1h0m-54 1h0m-91 3h0m39-1h0m21 1h0m15-1h0m1 0h0m-45 1h0m20 1h0m7-1h0m31 1h0m-97 0h0m75 0h0m55 1h0m-129 0h0m11 0h0m136 1h0m-100 0h0m28 2h0m35-1h0m21 0h0m12 0h0m-107 2h0m75 0h0m14-1h0m-150 2h0m28-1h0m8 0h0m43 1h0m2-1h0m11 1h0m12-1h0m12 1h0m39-1h0m5 0h0m4 0h0m-123 1h0m14 1h0m24-1h0m9 1h0m12 0h0m30 0h0m0-1h0m10 1h0m14 0h0m16 0h0m3-1h0m7 0h0m-136 1h0m68 1h0m24-1h0m3 1h0m42 0h0m-217 1h0m97 0h0m52 0h0m3-1h0m5 1h0m9 0h0m18-1h0m5 0h0m6 1h0m-170 0h0m32 0h0m48 0h0m1 1h0m14 0h0m34-1h0m7 1h0m4 0h0m4-1h0m-133 1h0m30 0h0m17 0h0m9 1h0m9-1h0m12 0h0m7 0h0m1 1h0m24 0h0m6 0h0m35-1h0m-178 2h0m48-1h0m17 1h0m21 0h0m102 0h0m20-1h0m-211 2h0m61 0h0m13 0h0m39 0h0m25 0h0m27-1h0m9 0h0m7 1h0m28-1h0m-251 2h0m85-1h0m35 0h0m22 1h0m14-1h0m38 0h0m4 0h0m3 1h0m11-1h0m11 0h0m10 0h0m-187 2h0m6 0h0m66-1h0m16 0h0m32 0h0m0 1h0m8-1h0m10 1h0m27 0h0m23 0h0m-152 0h0m1 1h0m13 0h0m23-1h0m43 0h0m33 1h0m22-1h0m38 1h0m-236 1h0m37 0h0m44-1h0m4 1h0m9-1h0m10 0h0m62 0h0m0 1h0m4 0h0m5-1h0m28 0h0m0 0h0m-187 2h0m13 0h0m7-1h0m39 1h0m20 0h0m21-1h0m24 1h0m29-1h0m21 0h0m19 0h0m22 1h0m-239 1h0m43-1h0m11 1h0m10-1h0m23 0h0m6 1h0m19 0h0m1-1h0m59 1h0m12 0h0m-128 1h0m21 0h0m8-1h0m3 0h0m12 0h0m15 0h0m2 0h0m4 0h0m14 1h0m11-1h0m8 1h0m4-1h0m20 1h0m6 0h0m50-1h0m-187 2h0m31 0h0m12-1h0m32 1h0m44 0h0m-125 1h0m16-1h0m5 0h0m29 1h0m14-1h0m23 1h0m16 0h0m37 0h0m11 0h0m44-1h0m-239 1h0m24 1h0m43 0h0m8 0h0m27 0h0m11-1h0m4 0h0m2 1h0m10-1h0m24 0h0m21 1h0m60 0h0m-246 1h0m45-1h0m26 1h0m2-1h0m12 1h0m3 0h0m12 0h0m25-1h0m49 1h0m49 0h0m20-1h0m7 0h0m6 0h0m-224 1h0m54 0h0m29 1h0m14-1h0m5 0h0m54 0h0m19 0h0m4 1h0m46-1h0m-213 1h0m53 1h0m27-1h0m8 1h0m3 0h0m2 0h0m110-1h0m11 0h0m-213 1h0m5 1h0m15-1h0m5 1h0m0 0h0m8-1h0m20 0h0m64 0h0m5 1h0m23-1h0m30 0h0m10 0h0m25 1h0m3-1h0m-175 1h0m18 1h0m33-1h0m8 0h0m5 0h0m61 0h0m50 1h0m-202 0h0m21 0h0m50 0h0m28 0h0m3 0h0m7 0h0m38 1h0m25-1h0m2 1h0m-204 0h0m65 1h0m21 0h0m9 0h0m4-1h0m8 0h0m47 1h0m4 0h0m63 0h0m4 0h0m1 0h0m-239 1h0m6 0h0m33 0h0m23-1h0m36 1h0m26-1h0m3 0h0m65 0h0m14 1h0m20 0h0m-227 1h0m19-1h0m34 1h0m27-1h0m5 0h0m5 0h0m26 1h0m1 0h0m8-1h0m29 0h0m48 0h0m8 1h0m2 0h0m-203 1h0m17 0h0m5-1h0m19 0h0m26 0h0m18 1h0m6 0h0m8-1h0m12 1h0m0-1h0m4 0h0m1 0h0m20 0h0m18 1h0m47-1h0m4 1h0m-201 1h0m18-1h0m23 0h0m22 1h0m18 0h0m1-1h0m7 1h0m1-1h0m30 0h0m2 0h0m3 0h0m21 0h0m26 0h0m-196 2h0m26-1h0m33 0h0m1 1h0m78 0h0m61-1h0m13 0h0m25 1h0m-221 1h0m33-1h0m5 1h0m50-1h0m2 1h0m7-1h0m58 0h0m33 0h0m-158 1h0m9 1h0m7-1h0m17 0h0m0 1h0m32 0h0m-87 1h0m35-1h0m22 0h0m11 1h0m17-1h0m11 0h0m5 0h0m10 0h0m16 1h0m-42 1h0m5-1h0m6 1h0m6 0h0m41 0h0m2-1h0m19 1h0m32 0h0m-201 0h0m30 0h0m52 1h0m11-1h0m12 0h0m12 0h0m9 0h0m8 0h0m-129 2h0m5-1h0m31 0h0m2 0h0m8 1h0m59-1h0m72 1h0m-194 0h0m18 1h0m42-1h0m12 1h0m1-1h0m13 1h0m56-1h0m12 1h0m84 0h0m-179 0h0m6 0h0m23 1h0m60-1h0m3 0h0m-101 1h0m32 1h0m0-1h0m131 0h0m-216 2h0m68 0h0m7 0h0m40 0h0m10-1h0m-95 2h0m116 0h0m26-1h0m6 0h0m-141 2h0m3 0h0m19-1h0m66 1h0m27 0h0m-145 0h0m25 0h0m116 0h0m48 0h0m-189 1h0m42 1h0m24 0h0m29-1h0m19 0h0m38 2h0m-129 0h0m47 1h0m4-1h0m-74 1h0m13 1h0m75 0h0m77 0h0m-45 1h0m-62 1h0m111 0h0m-156 1h0m65-1h0m38 0h0m-52 4h0m-66 2h0m1 1h0m121 1h0m-77 2h0m44 0h0m-43 2h0m40 4h0m87-1h0m-148 2h0"/>
<polygon points="488,302.8 491,299 499,297.3 503,297.6 502,300.5 495,302.8" fill="#0a0a0a"/>
<ellipse cx="503.00" cy="296.60" rx="26.00" ry="12.00" fill="none" stroke="#111" stroke-width="1.15"/>
<line x1="436.40" y1="223.70" x2="534.30" y2="223.70" stroke="#555" stroke-width="1.0"/>
<line x1="534.30" y1="223.70" x2="534.30" y2="311.00" stroke="#555" stroke-width="1.0"/>
<line x1="436.40" y1="223.20" x2="436.40" y2="311.50" stroke="#333" stroke-width="1.0"/>
<line x1="435.90" y1="311.00" x2="534.80" y2="311.00" stroke="#333" stroke-width="1.0"/>
<line x1="433.80" y1="309.30" x2="436.40" y2="309.30" stroke="#111" stroke-width="1.0"/>
<line x1="435.00" y1="305.97" x2="436.40" y2="305.97" stroke="#111" stroke-width="1.0"/>
<line x1="435.00" y1="302.64" x2="436.40" y2="302.64" stroke="#111" stroke-width="1.0"/>
<line x1="435.00" y1="299.30" x2="436.40" y2="299.30" stroke="#111" stroke-width="1.0"/>
<line x1="435.00" y1="295.97" x2="436.40" y2="295.97" stroke="#111" stroke-width="1.0"/>
<line x1="433.80" y1="292.64" x2="436.40" y2="292.64" stroke="#111" stroke-width="1.0"/>
<line x1="435.00" y1="289.31" x2="436.40" y2="289.31" stroke="#111" stroke-width="1.0"/>
<line x1="435.00" y1="285.98" x2="436.40" y2="285.98" stroke="#111" stroke-width="1.0"/>
<line x1="435.00" y1="282.64" x2="436.40" y2="282.64" stroke="#111" stroke-width="1.0"/>
<line x1="435.00" y1="279.31" x2="436.40" y2="279.31" stroke="#111" stroke-width="1.0"/>
<line x1="433.80" y1="275.98" x2="436.40" y2="275.98" stroke="#111" stroke-width="1.0"/>
<line x1="435.00" y1="272.65" x2="436.40" y2="272.65" stroke="#111" stroke-width="1.0"/>
<line x1="435.00" y1="269.32" x2="436.40" y2="269.32" stroke="#111" stroke-width="1.0"/>
<line x1="435.00" y1="265.98" x2="436.40" y2="265.98" stroke="#111" stroke-width="1.0"/>
<line x1="435.00" y1="262.65" x2="436.40" y2="262.65" stroke="#111" stroke-width="1.0"/>
<line x1="433.80" y1="259.32" x2="436.40" y2="259.32" stroke="#111" stroke-width="1.0"/>
<line x1="435.00" y1="255.99" x2="436.40" y2="255.99" stroke="#111" stroke-width="1.0"/>
<line x1="435.00" y1="252.66" x2="436.40" y2="252.66" stroke="#111" stroke-width="1.0"/>
<line x1="435.00" y1="249.32" x2="436.40" y2="249.32" stroke="#111" stroke-width="1.0"/>
<line x1="435.00" y1="245.99" x2="436.40" y2="245.99" stroke="#111" stroke-width="1.0"/>
<line x1="433.80" y1="242.66" x2="436.40" y2="242.66" stroke="#111" stroke-width="1.0"/>
<line x1="435.00" y1="239.33" x2="436.40" y2="239.33" stroke="#111" stroke-width="1.0"/>
<line x1="435.00" y1="236.00" x2="436.40" y2="236.00" stroke="#111" stroke-width="1.0"/>
<line x1="435.00" y1="232.66" x2="436.40" y2="232.66" stroke="#111" stroke-width="1.0"/>
<line x1="435.00" y1="229.33" x2="436.40" y2="229.33" stroke="#111" stroke-width="1.0"/>
<line x1="433.80" y1="226.00" x2="436.40" y2="226.00" stroke="#111" stroke-width="1.0"/>
<line x1="436.40" y1="311.00" x2="436.40" y2="313.60" stroke="#111" stroke-width="1.0"/>
<line x1="443.77" y1="311.00" x2="443.77" y2="312.40" stroke="#111" stroke-width="1.0"/>
<line x1="448.08" y1="311.00" x2="448.08" y2="312.40" stroke="#111" stroke-width="1.0"/>
<line x1="451.14" y1="311.00" x2="451.14" y2="312.40" stroke="#111" stroke-width="1.0"/>
<line x1="453.51" y1="311.00" x2="453.51" y2="312.40" stroke="#111" stroke-width="1.0"/>
<line x1="455.45" y1="311.00" x2="455.45" y2="312.40" stroke="#111" stroke-width="1.0"/>
<line x1="457.08" y1="311.00" x2="457.08" y2="312.40" stroke="#111" stroke-width="1.0"/>
<line x1="458.50" y1="311.00" x2="458.50" y2="312.40" stroke="#111" stroke-width="1.0"/>
<line x1="459.76" y1="311.00" x2="459.76" y2="312.40" stroke="#111" stroke-width="1.0"/>
<line x1="460.88" y1="311.00" x2="460.88" y2="313.60" stroke="#111" stroke-width="1.0"/>
<line x1="468.24" y1="311.00" x2="468.24" y2="312.40" stroke="#111" stroke-width="1.0"/>
<line x1="472.55" y1="311.00" x2="472.55" y2="312.40" stroke="#111" stroke-width="1.0"/>
<line x1="475.61" y1="311.00" x2="475.61" y2="312.40" stroke="#111" stroke-width="1.0"/>
<line x1="477.98" y1="311.00" x2="477.98" y2="312.40" stroke="#111" stroke-width="1.0"/>
<line x1="479.92" y1="311.00" x2="479.92" y2="312.40" stroke="#111" stroke-width="1.0"/>
<line x1="481.56" y1="311.00" x2="481.56" y2="312.40" stroke="#111" stroke-width="1.0"/>
<line x1="482.98" y1="311.00" x2="482.98" y2="312.40" stroke="#111" stroke-width="1.0"/>
<line x1="484.23" y1="311.00" x2="484.23" y2="312.40" stroke="#111" stroke-width="1.0"/>
<line x1="485.35" y1="311.00" x2="485.35" y2="313.60" stroke="#111" stroke-width="1.0"/>
<line x1="492.72" y1="311.00" x2="492.72" y2="312.40" stroke="#111" stroke-width="1.0"/>
<line x1="497.03" y1="311.00" x2="497.03" y2="312.40" stroke="#111" stroke-width="1.0"/>
<line x1="500.09" y1="311.00" x2="500.09" y2="312.40" stroke="#111" stroke-width="1.0"/>
<line x1="502.46" y1="311.00" x2="502.46" y2="312.40" stroke="#111" stroke-width="1.0"/>
<line x1="504.40" y1="311.00" x2="504.40" y2="312.40" stroke="#111" stroke-width="1.0"/>
<line x1="506.03" y1="311.00" x2="506.03" y2="312.40" stroke="#111" stroke-width="1.0"/>
<line x1="507.45" y1="311.00" x2="507.45" y2="312.40" stroke="#111" stroke-width="1.0"/>
<line x1="508.71" y1="311.00" x2="508.71" y2="312.40" stroke="#111" stroke-width="1.0"/>
<line x1="509.82" y1="311.00" x2="509.82" y2="313.60" stroke="#111" stroke-width="1.0"/>
<line x1="517.19" y1="311.00" x2="517.19" y2="312.40" stroke="#111" stroke-width="1.0"/>
<line x1="521.50" y1="311.00" x2="521.50" y2="312.40" stroke="#111" stroke-width="1.0"/>
<line x1="524.56" y1="311.00" x2="524.56" y2="312.40" stroke="#111" stroke-width="1.0"/>
<line x1="526.93" y1="311.00" x2="526.93" y2="312.40" stroke="#111" stroke-width="1.0"/>
<line x1="528.87" y1="311.00" x2="528.87" y2="312.40" stroke="#111" stroke-width="1.0"/>
<line x1="530.51" y1="311.00" x2="530.51" y2="312.40" stroke="#111" stroke-width="1.0"/>
<line x1="531.93" y1="311.00" x2="531.93" y2="312.40" stroke="#111" stroke-width="1.0"/>
<line x1="533.18" y1="311.00" x2="533.18" y2="312.40" stroke="#111" stroke-width="1.0"/>
<line x1="534.30" y1="311.00" x2="534.30" y2="313.60" stroke="#111" stroke-width="1.0"/>
<text x="431.80" y="309.30" font-size="6.6" text-anchor="middle" fill="#444" stroke="#444" stroke-width="0.3" transform="rotate(-90 431.80 309.30)">0</text>
<text x="431.80" y="292.64" font-size="6.6" text-anchor="middle" fill="#444" stroke="#444" stroke-width="0.3" transform="rotate(-90 431.80 292.64)">200</text>
<text x="431.80" y="275.98" font-size="6.6" text-anchor="middle" fill="#444" stroke="#444" stroke-width="0.3" transform="rotate(-90 431.80 275.98)">400</text>
<text x="431.80" y="259.32" font-size="6.6" text-anchor="middle" fill="#444" stroke="#444" stroke-width="0.3" transform="rotate(-90 431.80 259.32)">600</text>
<text x="431.80" y="242.66" font-size="6.6" text-anchor="middle" fill="#444" stroke="#444" stroke-width="0.3" transform="rotate(-90 431.80 242.66)">800</text>
<text x="431.80" y="226.00" font-size="6.6" text-anchor="middle" fill="#444" stroke="#444" stroke-width="0.3" transform="rotate(-90 431.80 226.00)">1000</text>
<text x="435.80" y="321.60" font-size="7" fill="#444" stroke="#444" stroke-width="0.3" text-anchor="middle">10<tspan font-size="5.8" dy="-2.9">0</tspan></text>
<text x="460.27" y="321.60" font-size="7" fill="#444" stroke="#444" stroke-width="0.3" text-anchor="middle">10<tspan font-size="5.8" dy="-2.9">1</tspan></text>
<text x="484.75" y="321.60" font-size="7" fill="#444" stroke="#444" stroke-width="0.3" text-anchor="middle">10<tspan font-size="5.8" dy="-2.9">2</tspan></text>
<text x="509.22" y="321.60" font-size="7" fill="#444" stroke="#444" stroke-width="0.3" text-anchor="middle">10<tspan font-size="5.8" dy="-2.9">3</tspan></text>
<text x="533.70" y="321.60" font-size="7" fill="#444" stroke="#444" stroke-width="0.3" text-anchor="middle">10<tspan font-size="5.8" dy="-2.9">4</tspan></text>
<text x="462.50" y="332.00" font-size="10.75" fill="#222" stroke="#222" stroke-width="0.05" textLength="41.80" lengthAdjust="spacingAndGlyphs">CD8-APC</text>
<text x="421.70" y="271.20" font-size="11.77" text-anchor="middle" fill="#222" stroke="#222" stroke-width="0.05" textLength="22.30" lengthAdjust="spacingAndGlyphs" transform="rotate(-90 421.70 271.20)">SSC</text>
<text x="471.20" y="218.40" font-size="10.08" fill="#222" stroke="#222" stroke-width="0.12" textLength="31.60" lengthAdjust="spacingAndGlyphs">CD45+</text>
<text x="502.20" y="277.40" font-size="8.51" fill="#333" stroke="#333" stroke-width="0.12" textLength="21.60" lengthAdjust="spacingAndGlyphs">CD8+</text>
<rect x="17.00" y="416.20" width="31.00" height="15.60" fill="#ffd8f2" fill-opacity="0.95"/>
<polygon points="27.6,420.5 38,420.8 44,424.5 41,428.5 33,430 27.6,430" fill="#b658bc"/>
<polygon points="27.6,420.5 38,420.8 42,423.5 27.6,424.5" fill="#9670c8"/>
<path transform="scale(.1)" stroke="#a850b4" stroke-opacity="0.5" stroke-width="10" stroke-linecap="square" fill="none" d="M404 4194h0m28 6h0m-20 8h0m-85 4h0m109 1h0m-82 4h0m-17 1h0m84 1h0m-76 7h0m-31 1h0m119 4h0m-46 1h0m16 2h0m-49 1h0m56 1h0m19 1h0m-70 2h0m32 0h0m-43 1h0m53 0h0m-57 3h0m-3 3h0m-4 1h0m74 0h0m-80 1h0m-43 3h0m25 0h0m2 0h0m72 1h0m12 0h0m9 2h0m-16 1h0m-101 1h0m86 0h0m16 1h0m0 0h0m-72 2h0m112 0h0m-65 1h0m28 1h0m-27 3h0m38 1h0m-79 3h0m66 0h0m33 0h0m-139 1h0m7 1h0m61 1h0m24 0h0m23 2h0m28 0h0m-83 1h0m-3 1h0m-12 1h0m109 0h0m-133 1h0m25 0h0m-6 3h0m-14 1h0m111 0h0m8 1h0m-109 2h0m35 0h0m47 1h0m30 0h0m-85 2h0m-47 1h0m19 0h0m114 2h0m-114 1h0m67 0h0m-82 1h0m53 1h0m-29 2h0m48 1h0m-49 5h0m29 1h0m66 1h0m8 5h0m-51 21h0"/>
<clipPath id="c5"><rect x="27.6" y="351.5" width="101.80000000000001" height="82.5"/></clipPath>
<ellipse cx="108.50" cy="420.30" rx="24.10" ry="13.80" fill="none" stroke="#111" stroke-width="1.15" clip-path="url(#c5)"/>
<line x1="27.60" y1="351.50" x2="129.40" y2="351.50" stroke="#555" stroke-width="1.0"/>
<line x1="129.40" y1="351.50" x2="129.40" y2="434.00" stroke="#555" stroke-width="1.0"/>
<line x1="27.60" y1="351.00" x2="27.60" y2="434.50" stroke="#333" stroke-width="1.0"/>
<line x1="27.10" y1="434.00" x2="129.90" y2="434.00" stroke="#333" stroke-width="1.0"/>
<line x1="25.00" y1="432.30" x2="27.60" y2="432.30" stroke="#111" stroke-width="1.0"/>
<line x1="26.20" y1="429.16" x2="27.60" y2="429.16" stroke="#111" stroke-width="1.0"/>
<line x1="26.20" y1="426.02" x2="27.60" y2="426.02" stroke="#111" stroke-width="1.0"/>
<line x1="26.20" y1="422.88" x2="27.60" y2="422.88" stroke="#111" stroke-width="1.0"/>
<line x1="26.20" y1="419.74" x2="27.60" y2="419.74" stroke="#111" stroke-width="1.0"/>
<line x1="25.00" y1="416.60" x2="27.60" y2="416.60" stroke="#111" stroke-width="1.0"/>
<line x1="26.20" y1="413.46" x2="27.60" y2="413.46" stroke="#111" stroke-width="1.0"/>
<line x1="26.20" y1="410.32" x2="27.60" y2="410.32" stroke="#111" stroke-width="1.0"/>
<line x1="26.20" y1="407.18" x2="27.60" y2="407.18" stroke="#111" stroke-width="1.0"/>
<line x1="26.20" y1="404.04" x2="27.60" y2="404.04" stroke="#111" stroke-width="1.0"/>
<line x1="25.00" y1="400.90" x2="27.60" y2="400.90" stroke="#111" stroke-width="1.0"/>
<line x1="26.20" y1="397.76" x2="27.60" y2="397.76" stroke="#111" stroke-width="1.0"/>
<line x1="26.20" y1="394.62" x2="27.60" y2="394.62" stroke="#111" stroke-width="1.0"/>
<line x1="26.20" y1="391.48" x2="27.60" y2="391.48" stroke="#111" stroke-width="1.0"/>
<line x1="26.20" y1="388.34" x2="27.60" y2="388.34" stroke="#111" stroke-width="1.0"/>
<line x1="25.00" y1="385.20" x2="27.60" y2="385.20" stroke="#111" stroke-width="1.0"/>
<line x1="26.20" y1="382.06" x2="27.60" y2="382.06" stroke="#111" stroke-width="1.0"/>
<line x1="26.20" y1="378.92" x2="27.60" y2="378.92" stroke="#111" stroke-width="1.0"/>
<line x1="26.20" y1="375.78" x2="27.60" y2="375.78" stroke="#111" stroke-width="1.0"/>
<line x1="26.20" y1="372.64" x2="27.60" y2="372.64" stroke="#111" stroke-width="1.0"/>
<line x1="25.00" y1="369.50" x2="27.60" y2="369.50" stroke="#111" stroke-width="1.0"/>
<line x1="26.20" y1="366.36" x2="27.60" y2="366.36" stroke="#111" stroke-width="1.0"/>
<line x1="26.20" y1="363.22" x2="27.60" y2="363.22" stroke="#111" stroke-width="1.0"/>
<line x1="26.20" y1="360.08" x2="27.60" y2="360.08" stroke="#111" stroke-width="1.0"/>
<line x1="26.20" y1="356.94" x2="27.60" y2="356.94" stroke="#111" stroke-width="1.0"/>
<line x1="25.00" y1="353.80" x2="27.60" y2="353.80" stroke="#111" stroke-width="1.0"/>
<line x1="27.60" y1="434.00" x2="27.60" y2="436.60" stroke="#111" stroke-width="1.0"/>
<line x1="35.26" y1="434.00" x2="35.26" y2="435.40" stroke="#111" stroke-width="1.0"/>
<line x1="39.74" y1="434.00" x2="39.74" y2="435.40" stroke="#111" stroke-width="1.0"/>
<line x1="42.92" y1="434.00" x2="42.92" y2="435.40" stroke="#111" stroke-width="1.0"/>
<line x1="45.39" y1="434.00" x2="45.39" y2="435.40" stroke="#111" stroke-width="1.0"/>
<line x1="47.40" y1="434.00" x2="47.40" y2="435.40" stroke="#111" stroke-width="1.0"/>
<line x1="49.11" y1="434.00" x2="49.11" y2="435.40" stroke="#111" stroke-width="1.0"/>
<line x1="50.58" y1="434.00" x2="50.58" y2="435.40" stroke="#111" stroke-width="1.0"/>
<line x1="51.89" y1="434.00" x2="51.89" y2="435.40" stroke="#111" stroke-width="1.0"/>
<line x1="53.05" y1="434.00" x2="53.05" y2="436.60" stroke="#111" stroke-width="1.0"/>
<line x1="60.71" y1="434.00" x2="60.71" y2="435.40" stroke="#111" stroke-width="1.0"/>
<line x1="65.19" y1="434.00" x2="65.19" y2="435.40" stroke="#111" stroke-width="1.0"/>
<line x1="68.37" y1="434.00" x2="68.37" y2="435.40" stroke="#111" stroke-width="1.0"/>
<line x1="70.84" y1="434.00" x2="70.84" y2="435.40" stroke="#111" stroke-width="1.0"/>
<line x1="72.85" y1="434.00" x2="72.85" y2="435.40" stroke="#111" stroke-width="1.0"/>
<line x1="74.56" y1="434.00" x2="74.56" y2="435.40" stroke="#111" stroke-width="1.0"/>
<line x1="76.03" y1="434.00" x2="76.03" y2="435.40" stroke="#111" stroke-width="1.0"/>
<line x1="77.34" y1="434.00" x2="77.34" y2="435.40" stroke="#111" stroke-width="1.0"/>
<line x1="78.50" y1="434.00" x2="78.50" y2="436.60" stroke="#111" stroke-width="1.0"/>
<line x1="86.16" y1="434.00" x2="86.16" y2="435.40" stroke="#111" stroke-width="1.0"/>
<line x1="90.64" y1="434.00" x2="90.64" y2="435.40" stroke="#111" stroke-width="1.0"/>
<line x1="93.82" y1="434.00" x2="93.82" y2="435.40" stroke="#111" stroke-width="1.0"/>
<line x1="96.29" y1="434.00" x2="96.29" y2="435.40" stroke="#111" stroke-width="1.0"/>
<line x1="98.30" y1="434.00" x2="98.30" y2="435.40" stroke="#111" stroke-width="1.0"/>
<line x1="100.01" y1="434.00" x2="100.01" y2="435.40" stroke="#111" stroke-width="1.0"/>
<line x1="101.48" y1="434.00" x2="101.48" y2="435.40" stroke="#111" stroke-width="1.0"/>
<line x1="102.79" y1="434.00" x2="102.79" y2="435.40" stroke="#111" stroke-width="1.0"/>
<line x1="103.95" y1="434.00" x2="103.95" y2="436.60" stroke="#111" stroke-width="1.0"/>
<line x1="111.61" y1="434.00" x2="111.61" y2="435.40" stroke="#111" stroke-width="1.0"/>
<line x1="116.09" y1="434.00" x2="116.09" y2="435.40" stroke="#111" stroke-width="1.0"/>
<line x1="119.27" y1="434.00" x2="119.27" y2="435.40" stroke="#111" stroke-width="1.0"/>
<line x1="121.74" y1="434.00" x2="121.74" y2="435.40" stroke="#111" stroke-width="1.0"/>
<line x1="123.75" y1="434.00" x2="123.75" y2="435.40" stroke="#111" stroke-width="1.0"/>
<line x1="125.46" y1="434.00" x2="125.46" y2="435.40" stroke="#111" stroke-width="1.0"/>
<line x1="126.93" y1="434.00" x2="126.93" y2="435.40" stroke="#111" stroke-width="1.0"/>
<line x1="128.24" y1="434.00" x2="128.24" y2="435.40" stroke="#111" stroke-width="1.0"/>
<line x1="129.40" y1="434.00" x2="129.40" y2="436.60" stroke="#111" stroke-width="1.0"/>
<text x="23.00" y="432.30" font-size="6.6" text-anchor="middle" fill="#444" stroke="#444" stroke-width="0.3" transform="rotate(-90 23.00 432.30)">0</text>
<text x="23.00" y="416.60" font-size="6.6" text-anchor="middle" fill="#444" stroke="#444" stroke-width="0.3" transform="rotate(-90 23.00 416.60)">200</text>
<text x="23.00" y="400.90" font-size="6.6" text-anchor="middle" fill="#444" stroke="#444" stroke-width="0.3" transform="rotate(-90 23.00 400.90)">400</text>
<text x="23.00" y="385.20" font-size="6.6" text-anchor="middle" fill="#444" stroke="#444" stroke-width="0.3" transform="rotate(-90 23.00 385.20)">600</text>
<text x="23.00" y="369.50" font-size="6.6" text-anchor="middle" fill="#444" stroke="#444" stroke-width="0.3" transform="rotate(-90 23.00 369.50)">800</text>
<text x="23.00" y="353.80" font-size="6.6" text-anchor="middle" fill="#444" stroke="#444" stroke-width="0.3" transform="rotate(-90 23.00 353.80)">1000</text>
<text x="27.00" y="444.60" font-size="7" fill="#444" stroke="#444" stroke-width="0.3" text-anchor="middle">10<tspan font-size="5.8" dy="-2.9">0</tspan></text>
<text x="52.45" y="444.60" font-size="7" fill="#444" stroke="#444" stroke-width="0.3" text-anchor="middle">10<tspan font-size="5.8" dy="-2.9">1</tspan></text>
<text x="77.90" y="444.60" font-size="7" fill="#444" stroke="#444" stroke-width="0.3" text-anchor="middle">10<tspan font-size="5.8" dy="-2.9">2</tspan></text>
<text x="103.35" y="444.60" font-size="7" fill="#444" stroke="#444" stroke-width="0.3" text-anchor="middle">10<tspan font-size="5.8" dy="-2.9">3</tspan></text>
<text x="128.80" y="444.60" font-size="7" fill="#444" stroke="#444" stroke-width="0.3" text-anchor="middle">10<tspan font-size="5.8" dy="-2.9">4</tspan></text>
<text x="34.80" y="460.00" font-size="10.75" fill="#222" stroke="#222" stroke-width="0.05" textLength="86.70" lengthAdjust="spacingAndGlyphs">CD45-PerCP (FMO)</text>
<text x="13.20" y="395.80" font-size="11.77" text-anchor="middle" fill="#222" stroke="#222" stroke-width="0.05" textLength="22.30" lengthAdjust="spacingAndGlyphs" transform="rotate(-90 13.20 395.80)">SSC</text>
<text x="68.80" y="345.00" font-size="10.08" fill="#222" stroke="#222" stroke-width="0.12" textLength="17.20" lengthAdjust="spacingAndGlyphs">LYM</text>
<text x="95.50" y="398.60" font-size="8.51" fill="#333" stroke="#333" stroke-width="0.12" textLength="26.10" lengthAdjust="spacingAndGlyphs">CD45+</text>
<rect x="160.00" y="416.20" width="33.00" height="19.30" fill="#fff0f8" fill-opacity="1.0"/>
<rect x="160.00" y="423.00" width="33.00" height="9.50" fill="#ffe0f2" fill-opacity="1.0"/>
<rect x="164.60" y="423.60" width="12.40" height="8.40" fill="#dc34a0" fill-opacity="1.0"/>
<path transform="scale(.1)" stroke="#c02088" stroke-opacity="0.8" stroke-width="10" stroke-linecap="square" fill="none" d="M1654 4232h0m9 2h0m4 1h0m45 2h0m-30 4h0m7 2h0m84 0h0m-2 1h0m-41 1h0m-69 8h0m57 5h0m-76 4h0m53 0h0m40 0h0m37 0h0m-120 4h0m96 1h0m-103 1h0m3 2h0m30 0h0m-36 2h0m50 0h0m70 1h0m-20 4h0m-45 1h0m53 0h0m1 7h0m-71 1h0m6 0h0m41 0h0m-61 1h0m14 1h0m71 2h0m-85 1h0m44 0h0m58 0h0m-39 2h0m17 3h0m-104 3h0m52 4h0m-32 5h0m-16 1h0m70 1h0m-51 3h0m98 0h0m-92 4h0m14 0h0m54 1h0m-5 3h0m25 2h0"/>
<path transform="scale(.1)" stroke="#9050c0" stroke-opacity="0.8" stroke-width="10" stroke-linecap="square" fill="none" d="M1792 4233h0m10 6h0m9 7h0m-24 6h0m-20 6h0m21 2h0m23 1h0m-33 3h0m30 0h0m-10 2h0m-26 3h0m18 3h0m-23 5h0m8 2h0m31 2h0m6 1h0m-16 3h0m-31 2h0m28 1h0m18 1h0m-28 1h0m26 0h0m-30 1h0m-14 6h0m44 1h0m-1 2h0m-25 2h0m-16 4h0m26 0h0m5 0h0m10 3h0m0 3h0m7 0h0m0 4h0m-27 1h0m6 1h0m-28 2h0m34 3h0m7 7h0m-5 12h0"/>
<rect x="168.00" y="423.00" width="10.00" height="0.80" fill="#8060c0" fill-opacity="0.8"/>
<path transform="scale(.1)" stroke="#e070b8" stroke-opacity="0.7" stroke-width="10" stroke-linecap="square" fill="none" d="M1847 4241h0m30 8h0m23 4h0m-77 8h0m20 1h0m14 2h0m16 0h0m24 2h0m-56 2h0m-12 1h0m38 0h0m-4 4h0m38 1h0m-36 4h0m28 0h0m32 0h0m-40 1h0m33 1h0m-56 4h0m17 1h0m-24 1h0m39 2h0m20 0h0m-33 3h0m23 0h0m-86 2h0m14 1h0m63 0h0m-55 21h0m51 30h0"/>
<clipPath id="c6"><rect x="164.4" y="349.7" width="109.20000000000002" height="88.5"/></clipPath>
<ellipse cx="251.50" cy="422.30" rx="26.50" ry="14.50" fill="none" stroke="#111" stroke-width="1.15" clip-path="url(#c6)"/>
<line x1="164.40" y1="349.70" x2="273.60" y2="349.70" stroke="#555" stroke-width="1.0"/>
<line x1="273.60" y1="349.70" x2="273.60" y2="438.20" stroke="#555" stroke-width="1.0"/>
<line x1="164.40" y1="349.20" x2="164.40" y2="438.70" stroke="#333" stroke-width="1.0"/>
<line x1="163.90" y1="438.20" x2="274.10" y2="438.20" stroke="#333" stroke-width="1.0"/>
<line x1="161.80" y1="436.50" x2="164.40" y2="436.50" stroke="#111" stroke-width="1.0"/>
<line x1="163.00" y1="433.12" x2="164.40" y2="433.12" stroke="#111" stroke-width="1.0"/>
<line x1="163.00" y1="429.74" x2="164.40" y2="429.74" stroke="#111" stroke-width="1.0"/>
<line x1="163.00" y1="426.36" x2="164.40" y2="426.36" stroke="#111" stroke-width="1.0"/>
<line x1="163.00" y1="422.98" x2="164.40" y2="422.98" stroke="#111" stroke-width="1.0"/>
<line x1="161.80" y1="419.60" x2="164.40" y2="419.60" stroke="#111" stroke-width="1.0"/>
<line x1="163.00" y1="416.22" x2="164.40" y2="416.22" stroke="#111" stroke-width="1.0"/>
<line x1="163.00" y1="412.84" x2="164.40" y2="412.84" stroke="#111" stroke-width="1.0"/>
<line x1="163.00" y1="409.46" x2="164.40" y2="409.46" stroke="#111" stroke-width="1.0"/>
<line x1="163.00" y1="406.08" x2="164.40" y2="406.08" stroke="#111" stroke-width="1.0"/>
<line x1="161.80" y1="402.70" x2="164.40" y2="402.70" stroke="#111" stroke-width="1.0"/>
<line x1="163.00" y1="399.32" x2="164.40" y2="399.32" stroke="#111" stroke-width="1.0"/>
<line x1="163.00" y1="395.94" x2="164.40" y2="395.94" stroke="#111" stroke-width="1.0"/>
<line x1="163.00" y1="392.56" x2="164.40" y2="392.56" stroke="#111" stroke-width="1.0"/>
<line x1="163.00" y1="389.18" x2="164.40" y2="389.18" stroke="#111" stroke-width="1.0"/>
<line x1="161.80" y1="385.80" x2="164.40" y2="385.80" stroke="#111" stroke-width="1.0"/>
<line x1="163.00" y1="382.42" x2="164.40" y2="382.42" stroke="#111" stroke-width="1.0"/>
<line x1="163.00" y1="379.04" x2="164.40" y2="379.04" stroke="#111" stroke-width="1.0"/>
<line x1="163.00" y1="375.66" x2="164.40" y2="375.66" stroke="#111" stroke-width="1.0"/>
<line x1="163.00" y1="372.28" x2="164.40" y2="372.28" stroke="#111" stroke-width="1.0"/>
<line x1="161.80" y1="368.90" x2="164.40" y2="368.90" stroke="#111" stroke-width="1.0"/>
<line x1="163.00" y1="365.52" x2="164.40" y2="365.52" stroke="#111" stroke-width="1.0"/>
<line x1="163.00" y1="362.14" x2="164.40" y2="362.14" stroke="#111" stroke-width="1.0"/>
<line x1="163.00" y1="358.76" x2="164.40" y2="358.76" stroke="#111" stroke-width="1.0"/>
<line x1="163.00" y1="355.38" x2="164.40" y2="355.38" stroke="#111" stroke-width="1.0"/>
<line x1="161.80" y1="352.00" x2="164.40" y2="352.00" stroke="#111" stroke-width="1.0"/>
<line x1="164.40" y1="438.20" x2="164.40" y2="440.80" stroke="#111" stroke-width="1.0"/>
<line x1="172.62" y1="438.20" x2="172.62" y2="439.60" stroke="#111" stroke-width="1.0"/>
<line x1="177.43" y1="438.20" x2="177.43" y2="439.60" stroke="#111" stroke-width="1.0"/>
<line x1="180.84" y1="438.20" x2="180.84" y2="439.60" stroke="#111" stroke-width="1.0"/>
<line x1="183.48" y1="438.20" x2="183.48" y2="439.60" stroke="#111" stroke-width="1.0"/>
<line x1="185.64" y1="438.20" x2="185.64" y2="439.60" stroke="#111" stroke-width="1.0"/>
<line x1="187.47" y1="438.20" x2="187.47" y2="439.60" stroke="#111" stroke-width="1.0"/>
<line x1="189.05" y1="438.20" x2="189.05" y2="439.60" stroke="#111" stroke-width="1.0"/>
<line x1="190.45" y1="438.20" x2="190.45" y2="439.60" stroke="#111" stroke-width="1.0"/>
<line x1="191.70" y1="438.20" x2="191.70" y2="440.80" stroke="#111" stroke-width="1.0"/>
<line x1="199.92" y1="438.20" x2="199.92" y2="439.60" stroke="#111" stroke-width="1.0"/>
<line x1="204.73" y1="438.20" x2="204.73" y2="439.60" stroke="#111" stroke-width="1.0"/>
<line x1="208.14" y1="438.20" x2="208.14" y2="439.60" stroke="#111" stroke-width="1.0"/>
<line x1="210.78" y1="438.20" x2="210.78" y2="439.60" stroke="#111" stroke-width="1.0"/>
<line x1="212.94" y1="438.20" x2="212.94" y2="439.60" stroke="#111" stroke-width="1.0"/>
<line x1="214.77" y1="438.20" x2="214.77" y2="439.60" stroke="#111" stroke-width="1.0"/>
<line x1="216.35" y1="438.20" x2="216.35" y2="439.60" stroke="#111" stroke-width="1.0"/>
<line x1="217.75" y1="438.20" x2="217.75" y2="439.60" stroke="#111" stroke-width="1.0"/>
<line x1="219.00" y1="438.20" x2="219.00" y2="440.80" stroke="#111" stroke-width="1.0"/>
<line x1="227.22" y1="438.20" x2="227.22" y2="439.60" stroke="#111" stroke-width="1.0"/>
<line x1="232.03" y1="438.20" x2="232.03" y2="439.60" stroke="#111" stroke-width="1.0"/>
<line x1="235.44" y1="438.20" x2="235.44" y2="439.60" stroke="#111" stroke-width="1.0"/>
<line x1="238.08" y1="438.20" x2="238.08" y2="439.60" stroke="#111" stroke-width="1.0"/>
<line x1="240.24" y1="438.20" x2="240.24" y2="439.60" stroke="#111" stroke-width="1.0"/>
<line x1="242.07" y1="438.20" x2="242.07" y2="439.60" stroke="#111" stroke-width="1.0"/>
<line x1="243.65" y1="438.20" x2="243.65" y2="439.60" stroke="#111" stroke-width="1.0"/>
<line x1="245.05" y1="438.20" x2="245.05" y2="439.60" stroke="#111" stroke-width="1.0"/>
<line x1="246.30" y1="438.20" x2="246.30" y2="440.80" stroke="#111" stroke-width="1.0"/>
<line x1="254.52" y1="438.20" x2="254.52" y2="439.60" stroke="#111" stroke-width="1.0"/>
<line x1="259.33" y1="438.20" x2="259.33" y2="439.60" stroke="#111" stroke-width="1.0"/>
<line x1="262.74" y1="438.20" x2="262.74" y2="439.60" stroke="#111" stroke-width="1.0"/>
<line x1="265.38" y1="438.20" x2="265.38" y2="439.60" stroke="#111" stroke-width="1.0"/>
<line x1="267.54" y1="438.20" x2="267.54" y2="439.60" stroke="#111" stroke-width="1.0"/>
<line x1="269.37" y1="438.20" x2="269.37" y2="439.60" stroke="#111" stroke-width="1.0"/>
<line x1="270.95" y1="438.20" x2="270.95" y2="439.60" stroke="#111" stroke-width="1.0"/>
<line x1="272.35" y1="438.20" x2="272.35" y2="439.60" stroke="#111" stroke-width="1.0"/>
<line x1="273.60" y1="438.20" x2="273.60" y2="440.80" stroke="#111" stroke-width="1.0"/>
<text x="159.80" y="436.50" font-size="6.6" text-anchor="middle" fill="#444" stroke="#444" stroke-width="0.3" transform="rotate(-90 159.80 436.50)">0</text>
<text x="159.80" y="419.60" font-size="6.6" text-anchor="middle" fill="#444" stroke="#444" stroke-width="0.3" transform="rotate(-90 159.80 419.60)">200</text>
<text x="159.80" y="402.70" font-size="6.6" text-anchor="middle" fill="#444" stroke="#444" stroke-width="0.3" transform="rotate(-90 159.80 402.70)">400</text>
<text x="159.80" y="385.80" font-size="6.6" text-anchor="middle" fill="#444" stroke="#444" stroke-width="0.3" transform="rotate(-90 159.80 385.80)">600</text>
<text x="159.80" y="368.90" font-size="6.6" text-anchor="middle" fill="#444" stroke="#444" stroke-width="0.3" transform="rotate(-90 159.80 368.90)">800</text>
<text x="159.80" y="352.00" font-size="6.6" text-anchor="middle" fill="#444" stroke="#444" stroke-width="0.3" transform="rotate(-90 159.80 352.00)">1000</text>
<text x="163.80" y="448.80" font-size="7" fill="#444" stroke="#444" stroke-width="0.3" text-anchor="middle">10<tspan font-size="5.8" dy="-2.9">0</tspan></text>
<text x="191.10" y="448.80" font-size="7" fill="#444" stroke="#444" stroke-width="0.3" text-anchor="middle">10<tspan font-size="5.8" dy="-2.9">1</tspan></text>
<text x="218.40" y="448.80" font-size="7" fill="#444" stroke="#444" stroke-width="0.3" text-anchor="middle">10<tspan font-size="5.8" dy="-2.9">2</tspan></text>
<text x="245.70" y="448.80" font-size="7" fill="#444" stroke="#444" stroke-width="0.3" text-anchor="middle">10<tspan font-size="5.8" dy="-2.9">3</tspan></text>
<text x="273.00" y="448.80" font-size="7" fill="#444" stroke="#444" stroke-width="0.3" text-anchor="middle">10<tspan font-size="5.8" dy="-2.9">4</tspan></text>
<text x="189.30" y="460.00" font-size="10.75" fill="#222" stroke="#222" stroke-width="0.05" textLength="64.90" lengthAdjust="spacingAndGlyphs">CD3-PE (FMO)</text>
<text x="145.40" y="395.30" font-size="11.77" text-anchor="middle" fill="#222" stroke="#222" stroke-width="0.05" textLength="22.30" lengthAdjust="spacingAndGlyphs" transform="rotate(-90 145.40 395.30)">SSC</text>
<text x="194.30" y="345.00" font-size="10.08" fill="#222" stroke="#222" stroke-width="0.12" textLength="29.70" lengthAdjust="spacingAndGlyphs">CD45+</text>
<text x="244.50" y="401.00" font-size="8.51" fill="#333" stroke="#333" stroke-width="0.12" textLength="21.00" lengthAdjust="spacingAndGlyphs">CD3+</text>
<rect x="305.00" y="416.00" width="40.00" height="17.00" fill="#fff0f8" fill-opacity="1.0"/>
<rect x="309.20" y="424.00" width="26.80" height="7.50" fill="#e02ea0" fill-opacity="1.0"/>
<path transform="scale(.1)" stroke="#c81c88" stroke-opacity="0.8" stroke-width="10" stroke-linecap="square" fill="none" d="M3094 4235h0m229 1h0m19 0h0m-191 1h0m191 0h0m-240 4h0m1 4h0m105 1h0m21 0h0m67 1h0m-204 2h0m80 0h0m152 1h0m18 2h0m-241 2h0m26 0h0m176 4h0m-127 2h0m38 0h0m-108 2h0m168 0h0m-134 1h0m52 0h0m-85 4h0m42 1h0m164 0h0m-115 1h0m99 3h0m-42 1h0m28 0h0m-33 1h0m109 1h0m-215 1h0m135 5h0m-163 1h0m92 0h0m-57 1h0m-63 3h0m140 0h0m111 0h0m-85 1h0m75 0h0m-86 2h0m109 0h0m-136 1h0m54 3h0m-172 2h0m202 1h0m2 2h0m-144 1h0m120 5h0m-48 1h0m-125 3h0m189 2h0m0 1h0m-169 3h0m14 0h0m59 3h0m-78 2h0m149 0h0"/>
<rect x="309.20" y="424.00" width="2.80" height="7.50" fill="#a01860" fill-opacity="0.9"/>
<rect x="313.00" y="422.80" width="22.00" height="0.90" fill="#7060b0" fill-opacity="0.8"/>
<rect x="313.00" y="431.50" width="14.00" height="0.80" fill="#8060b0" fill-opacity="0.6"/>
<path transform="scale(.1)" stroke="#e080c0" stroke-opacity="0.7" stroke-width="10" stroke-linecap="square" fill="none" d="M3410 4234h0m-4 1h0m16 4h0m-37 8h0m62 9h0m-3 3h0m-65 1h0m29 4h0m7 2h0m14 9h0m1 2h0m0 3h0m-38 3h0m-18 1h0m8 2h0m20 9h0m19 1h0m5 1h0m-40 3h0m2 2h0m-17 5h0m-3 1h0m15 2h0m70 1h0m-87 4h0m17 8h0m30 1h0m-47 2h0m9 11h0m29 8h0"/>
<clipPath id="c7"><rect x="309.0" y="350.5" width="97.69999999999999" height="87.5"/></clipPath>
<path clip-path="url(#c7)" d="M407.5 417.5 C404 415 399 414.5 391 414.5 C376 414.5 362.4 419.5 362.4 426.2 C362.4 431.5 369 435.3 380 438.6 M402 438.6 C404.5 437.5 406 436.5 407.5 435" fill="none" stroke="#111" stroke-width="1.15"/>
<line x1="309.00" y1="350.50" x2="406.70" y2="350.50" stroke="#555" stroke-width="1.0"/>
<line x1="406.70" y1="350.50" x2="406.70" y2="438.00" stroke="#555" stroke-width="1.0"/>
<line x1="309.00" y1="350.00" x2="309.00" y2="438.50" stroke="#333" stroke-width="1.0"/>
<line x1="308.50" y1="438.00" x2="407.20" y2="438.00" stroke="#333" stroke-width="1.0"/>
<line x1="306.40" y1="436.30" x2="309.00" y2="436.30" stroke="#111" stroke-width="1.0"/>
<line x1="307.60" y1="432.96" x2="309.00" y2="432.96" stroke="#111" stroke-width="1.0"/>
<line x1="307.60" y1="429.62" x2="309.00" y2="429.62" stroke="#111" stroke-width="1.0"/>
<line x1="307.60" y1="426.28" x2="309.00" y2="426.28" stroke="#111" stroke-width="1.0"/>
<line x1="307.60" y1="422.94" x2="309.00" y2="422.94" stroke="#111" stroke-width="1.0"/>
<line x1="306.40" y1="419.60" x2="309.00" y2="419.60" stroke="#111" stroke-width="1.0"/>
<line x1="307.60" y1="416.26" x2="309.00" y2="416.26" stroke="#111" stroke-width="1.0"/>
<line x1="307.60" y1="412.92" x2="309.00" y2="412.92" stroke="#111" stroke-width="1.0"/>
<line x1="307.60" y1="409.58" x2="309.00" y2="409.58" stroke="#111" stroke-width="1.0"/>
<line x1="307.60" y1="406.24" x2="309.00" y2="406.24" stroke="#111" stroke-width="1.0"/>
<line x1="306.40" y1="402.90" x2="309.00" y2="402.90" stroke="#111" stroke-width="1.0"/>
<line x1="307.60" y1="399.56" x2="309.00" y2="399.56" stroke="#111" stroke-width="1.0"/>
<line x1="307.60" y1="396.22" x2="309.00" y2="396.22" stroke="#111" stroke-width="1.0"/>
<line x1="307.60" y1="392.88" x2="309.00" y2="392.88" stroke="#111" stroke-width="1.0"/>
<line x1="307.60" y1="389.54" x2="309.00" y2="389.54" stroke="#111" stroke-width="1.0"/>
<line x1="306.40" y1="386.20" x2="309.00" y2="386.20" stroke="#111" stroke-width="1.0"/>
<line x1="307.60" y1="382.86" x2="309.00" y2="382.86" stroke="#111" stroke-width="1.0"/>
<line x1="307.60" y1="379.52" x2="309.00" y2="379.52" stroke="#111" stroke-width="1.0"/>
<line x1="307.60" y1="376.18" x2="309.00" y2="376.18" stroke="#111" stroke-width="1.0"/>
<line x1="307.60" y1="372.84" x2="309.00" y2="372.84" stroke="#111" stroke-width="1.0"/>
<line x1="306.40" y1="369.50" x2="309.00" y2="369.50" stroke="#111" stroke-width="1.0"/>
<line x1="307.60" y1="366.16" x2="309.00" y2="366.16" stroke="#111" stroke-width="1.0"/>
<line x1="307.60" y1="362.82" x2="309.00" y2="362.82" stroke="#111" stroke-width="1.0"/>
<line x1="307.60" y1="359.48" x2="309.00" y2="359.48" stroke="#111" stroke-width="1.0"/>
<line x1="307.60" y1="356.14" x2="309.00" y2="356.14" stroke="#111" stroke-width="1.0"/>
<line x1="306.40" y1="352.80" x2="309.00" y2="352.80" stroke="#111" stroke-width="1.0"/>
<line x1="309.00" y1="438.00" x2="309.00" y2="440.60" stroke="#111" stroke-width="1.0"/>
<line x1="316.35" y1="438.00" x2="316.35" y2="439.40" stroke="#111" stroke-width="1.0"/>
<line x1="320.65" y1="438.00" x2="320.65" y2="439.40" stroke="#111" stroke-width="1.0"/>
<line x1="323.71" y1="438.00" x2="323.71" y2="439.40" stroke="#111" stroke-width="1.0"/>
<line x1="326.07" y1="438.00" x2="326.07" y2="439.40" stroke="#111" stroke-width="1.0"/>
<line x1="328.01" y1="438.00" x2="328.01" y2="439.40" stroke="#111" stroke-width="1.0"/>
<line x1="329.64" y1="438.00" x2="329.64" y2="439.40" stroke="#111" stroke-width="1.0"/>
<line x1="331.06" y1="438.00" x2="331.06" y2="439.40" stroke="#111" stroke-width="1.0"/>
<line x1="332.31" y1="438.00" x2="332.31" y2="439.40" stroke="#111" stroke-width="1.0"/>
<line x1="333.43" y1="438.00" x2="333.43" y2="440.60" stroke="#111" stroke-width="1.0"/>
<line x1="340.78" y1="438.00" x2="340.78" y2="439.40" stroke="#111" stroke-width="1.0"/>
<line x1="345.08" y1="438.00" x2="345.08" y2="439.40" stroke="#111" stroke-width="1.0"/>
<line x1="348.13" y1="438.00" x2="348.13" y2="439.40" stroke="#111" stroke-width="1.0"/>
<line x1="350.50" y1="438.00" x2="350.50" y2="439.40" stroke="#111" stroke-width="1.0"/>
<line x1="352.43" y1="438.00" x2="352.43" y2="439.40" stroke="#111" stroke-width="1.0"/>
<line x1="354.07" y1="438.00" x2="354.07" y2="439.40" stroke="#111" stroke-width="1.0"/>
<line x1="355.48" y1="438.00" x2="355.48" y2="439.40" stroke="#111" stroke-width="1.0"/>
<line x1="356.73" y1="438.00" x2="356.73" y2="439.40" stroke="#111" stroke-width="1.0"/>
<line x1="357.85" y1="438.00" x2="357.85" y2="440.60" stroke="#111" stroke-width="1.0"/>
<line x1="365.20" y1="438.00" x2="365.20" y2="439.40" stroke="#111" stroke-width="1.0"/>
<line x1="369.50" y1="438.00" x2="369.50" y2="439.40" stroke="#111" stroke-width="1.0"/>
<line x1="372.56" y1="438.00" x2="372.56" y2="439.40" stroke="#111" stroke-width="1.0"/>
<line x1="374.92" y1="438.00" x2="374.92" y2="439.40" stroke="#111" stroke-width="1.0"/>
<line x1="376.86" y1="438.00" x2="376.86" y2="439.40" stroke="#111" stroke-width="1.0"/>
<line x1="378.49" y1="438.00" x2="378.49" y2="439.40" stroke="#111" stroke-width="1.0"/>
<line x1="379.91" y1="438.00" x2="379.91" y2="439.40" stroke="#111" stroke-width="1.0"/>
<line x1="381.16" y1="438.00" x2="381.16" y2="439.40" stroke="#111" stroke-width="1.0"/>
<line x1="382.27" y1="438.00" x2="382.27" y2="440.60" stroke="#111" stroke-width="1.0"/>
<line x1="389.63" y1="438.00" x2="389.63" y2="439.40" stroke="#111" stroke-width="1.0"/>
<line x1="393.93" y1="438.00" x2="393.93" y2="439.40" stroke="#111" stroke-width="1.0"/>
<line x1="396.98" y1="438.00" x2="396.98" y2="439.40" stroke="#111" stroke-width="1.0"/>
<line x1="399.35" y1="438.00" x2="399.35" y2="439.40" stroke="#111" stroke-width="1.0"/>
<line x1="401.28" y1="438.00" x2="401.28" y2="439.40" stroke="#111" stroke-width="1.0"/>
<line x1="402.92" y1="438.00" x2="402.92" y2="439.40" stroke="#111" stroke-width="1.0"/>
<line x1="404.33" y1="438.00" x2="404.33" y2="439.40" stroke="#111" stroke-width="1.0"/>
<line x1="405.58" y1="438.00" x2="405.58" y2="439.40" stroke="#111" stroke-width="1.0"/>
<line x1="406.70" y1="438.00" x2="406.70" y2="440.60" stroke="#111" stroke-width="1.0"/>
<text x="304.40" y="436.30" font-size="6.6" text-anchor="middle" fill="#444" stroke="#444" stroke-width="0.3" transform="rotate(-90 304.40 436.30)">0</text>
<text x="304.40" y="419.60" font-size="6.6" text-anchor="middle" fill="#444" stroke="#444" stroke-width="0.3" transform="rotate(-90 304.40 419.60)">200</text>
<text x="304.40" y="402.90" font-size="6.6" text-anchor="middle" fill="#444" stroke="#444" stroke-width="0.3" transform="rotate(-90 304.40 402.90)">400</text>
<text x="304.40" y="386.20" font-size="6.6" text-anchor="middle" fill="#444" stroke="#444" stroke-width="0.3" transform="rotate(-90 304.40 386.20)">600</text>
<text x="304.40" y="369.50" font-size="6.6" text-anchor="middle" fill="#444" stroke="#444" stroke-width="0.3" transform="rotate(-90 304.40 369.50)">800</text>
<text x="304.40" y="352.80" font-size="6.6" text-anchor="middle" fill="#444" stroke="#444" stroke-width="0.3" transform="rotate(-90 304.40 352.80)">1000</text>
<text x="308.40" y="448.60" font-size="7" fill="#444" stroke="#444" stroke-width="0.3" text-anchor="middle">10<tspan font-size="5.8" dy="-2.9">0</tspan></text>
<text x="332.82" y="448.60" font-size="7" fill="#444" stroke="#444" stroke-width="0.3" text-anchor="middle">10<tspan font-size="5.8" dy="-2.9">1</tspan></text>
<text x="357.25" y="448.60" font-size="7" fill="#444" stroke="#444" stroke-width="0.3" text-anchor="middle">10<tspan font-size="5.8" dy="-2.9">2</tspan></text>
<text x="381.67" y="448.60" font-size="7" fill="#444" stroke="#444" stroke-width="0.3" text-anchor="middle">10<tspan font-size="5.8" dy="-2.9">3</tspan></text>
<text x="406.10" y="448.60" font-size="7" fill="#444" stroke="#444" stroke-width="0.3" text-anchor="middle">10<tspan font-size="5.8" dy="-2.9">4</tspan></text>
<text x="321.60" y="461.00" font-size="10.75" fill="#222" stroke="#222" stroke-width="0.05" textLength="72.80" lengthAdjust="spacingAndGlyphs">CD4-FITC (FMO)</text>
<text x="292.80" y="393.80" font-size="11.77" text-anchor="middle" fill="#222" stroke="#222" stroke-width="0.05" textLength="22.30" lengthAdjust="spacingAndGlyphs" transform="rotate(-90 292.80 393.80)">SSC</text>
<text x="332.00" y="345.00" font-size="10.08" fill="#222" stroke="#222" stroke-width="0.12" textLength="30.20" lengthAdjust="spacingAndGlyphs">CD45+</text>
<text x="378.00" y="405.20" font-size="8.51" fill="#333" stroke="#333" stroke-width="0.12" textLength="21.00" lengthAdjust="spacingAndGlyphs">CD4+</text>
<rect x="440.00" y="416.00" width="26.00" height="18.00" fill="#fff0f8" fill-opacity="1.0"/>
<rect x="447.30" y="424.20" width="16.00" height="7.60" fill="#e42ea4" fill-opacity="1.0"/>
<path transform="scale(.1)" stroke="#cc1c8c" stroke-opacity="0.8" stroke-width="10" stroke-linecap="square" fill="none" d="M4590 4244h0m-86 2h0m27 0h0m-56 3h0m152 1h0m-127 2h0m-23 3h0m9 0h0m6 0h0m83 0h0m-9 3h0m-57 5h0m112 1h0m-47 2h0m-41 2h0m27 3h0m-7 2h0m-81 3h0m150 0h0m-42 2h0m19 1h0m18 0h0m7 2h0m-121 1h0m116 1h0m-44 2h0m-14 2h0m-25 1h0m80 3h0m-26 1h0m-79 1h0m-7 1h0m73 1h0m15 0h0m-122 3h0m59 0h0m63 0h0m-101 1h0m21 0h0m-33 1h0m10 3h0m109 8h0m-39 1h0m-70 2h0m53 1h0m49 1h0m21 2h0m-31 2h0m34 1h0m-46 1h0"/>
<rect x="444.80" y="423.80" width="2.50" height="8.00" fill="#a060c0" fill-opacity="0.9"/>
<rect x="447.00" y="423.30" width="12.00" height="0.80" fill="#6050a8" fill-opacity="0.8"/>
<path transform="scale(.1)" stroke="#c080b0" stroke-opacity="0.7" stroke-width="10" stroke-linecap="square" fill="none" d="M4656 4228h0m58 18h0m-48 6h0m31 2h0m-24 4h0m-25 4h0m32 0h0m-14 8h0m57 14h0m-26 11h0m-53 5h0m40 0h0m-14 3h0m30 3h0m10 4h0m-25 2h0m9 1h0m-37 1h0m44 12h0m-55 1h0"/>
<ellipse cx="511.40" cy="424.40" rx="26.40" ry="12.90" fill="none" stroke="#111" stroke-width="1.15"/>
<line x1="444.60" y1="350.70" x2="542.70" y2="350.70" stroke="#555" stroke-width="1.0"/>
<line x1="542.70" y1="350.70" x2="542.70" y2="438.00" stroke="#555" stroke-width="1.0"/>
<line x1="444.60" y1="350.20" x2="444.60" y2="438.50" stroke="#333" stroke-width="1.0"/>
<line x1="444.10" y1="438.00" x2="543.20" y2="438.00" stroke="#333" stroke-width="1.0"/>
<line x1="442.00" y1="436.30" x2="444.60" y2="436.30" stroke="#111" stroke-width="1.0"/>
<line x1="443.20" y1="432.97" x2="444.60" y2="432.97" stroke="#111" stroke-width="1.0"/>
<line x1="443.20" y1="429.64" x2="444.60" y2="429.64" stroke="#111" stroke-width="1.0"/>
<line x1="443.20" y1="426.30" x2="444.60" y2="426.30" stroke="#111" stroke-width="1.0"/>
<line x1="443.20" y1="422.97" x2="444.60" y2="422.97" stroke="#111" stroke-width="1.0"/>
<line x1="442.00" y1="419.64" x2="444.60" y2="419.64" stroke="#111" stroke-width="1.0"/>
<line x1="443.20" y1="416.31" x2="444.60" y2="416.31" stroke="#111" stroke-width="1.0"/>
<line x1="443.20" y1="412.98" x2="444.60" y2="412.98" stroke="#111" stroke-width="1.0"/>
<line x1="443.20" y1="409.64" x2="444.60" y2="409.64" stroke="#111" stroke-width="1.0"/>
<line x1="443.20" y1="406.31" x2="444.60" y2="406.31" stroke="#111" stroke-width="1.0"/>
<line x1="442.00" y1="402.98" x2="444.60" y2="402.98" stroke="#111" stroke-width="1.0"/>
<line x1="443.20" y1="399.65" x2="444.60" y2="399.65" stroke="#111" stroke-width="1.0"/>
<line x1="443.20" y1="396.32" x2="444.60" y2="396.32" stroke="#111" stroke-width="1.0"/>
<line x1="443.20" y1="392.98" x2="444.60" y2="392.98" stroke="#111" stroke-width="1.0"/>
<line x1="443.20" y1="389.65" x2="444.60" y2="389.65" stroke="#111" stroke-width="1.0"/>
<line x1="442.00" y1="386.32" x2="444.60" y2="386.32" stroke="#111" stroke-width="1.0"/>
<line x1="443.20" y1="382.99" x2="444.60" y2="382.99" stroke="#111" stroke-width="1.0"/>
<line x1="443.20" y1="379.66" x2="444.60" y2="379.66" stroke="#111" stroke-width="1.0"/>
<line x1="443.20" y1="376.32" x2="444.60" y2="376.32" stroke="#111" stroke-width="1.0"/>
<line x1="443.20" y1="372.99" x2="444.60" y2="372.99" stroke="#111" stroke-width="1.0"/>
<line x1="442.00" y1="369.66" x2="444.60" y2="369.66" stroke="#111" stroke-width="1.0"/>
<line x1="443.20" y1="366.33" x2="444.60" y2="366.33" stroke="#111" stroke-width="1.0"/>
<line x1="443.20" y1="363.00" x2="444.60" y2="363.00" stroke="#111" stroke-width="1.0"/>
<line x1="443.20" y1="359.66" x2="444.60" y2="359.66" stroke="#111" stroke-width="1.0"/>
<line x1="443.20" y1="356.33" x2="444.60" y2="356.33" stroke="#111" stroke-width="1.0"/>
<line x1="442.00" y1="353.00" x2="444.60" y2="353.00" stroke="#111" stroke-width="1.0"/>
<line x1="444.60" y1="438.00" x2="444.60" y2="440.60" stroke="#111" stroke-width="1.0"/>
<line x1="451.98" y1="438.00" x2="451.98" y2="439.40" stroke="#111" stroke-width="1.0"/>
<line x1="456.30" y1="438.00" x2="456.30" y2="439.40" stroke="#111" stroke-width="1.0"/>
<line x1="459.37" y1="438.00" x2="459.37" y2="439.40" stroke="#111" stroke-width="1.0"/>
<line x1="461.74" y1="438.00" x2="461.74" y2="439.40" stroke="#111" stroke-width="1.0"/>
<line x1="463.68" y1="438.00" x2="463.68" y2="439.40" stroke="#111" stroke-width="1.0"/>
<line x1="465.33" y1="438.00" x2="465.33" y2="439.40" stroke="#111" stroke-width="1.0"/>
<line x1="466.75" y1="438.00" x2="466.75" y2="439.40" stroke="#111" stroke-width="1.0"/>
<line x1="468.00" y1="438.00" x2="468.00" y2="439.40" stroke="#111" stroke-width="1.0"/>
<line x1="469.12" y1="438.00" x2="469.12" y2="440.60" stroke="#111" stroke-width="1.0"/>
<line x1="476.51" y1="438.00" x2="476.51" y2="439.40" stroke="#111" stroke-width="1.0"/>
<line x1="480.83" y1="438.00" x2="480.83" y2="439.40" stroke="#111" stroke-width="1.0"/>
<line x1="483.89" y1="438.00" x2="483.89" y2="439.40" stroke="#111" stroke-width="1.0"/>
<line x1="486.27" y1="438.00" x2="486.27" y2="439.40" stroke="#111" stroke-width="1.0"/>
<line x1="488.21" y1="438.00" x2="488.21" y2="439.40" stroke="#111" stroke-width="1.0"/>
<line x1="489.85" y1="438.00" x2="489.85" y2="439.40" stroke="#111" stroke-width="1.0"/>
<line x1="491.27" y1="438.00" x2="491.27" y2="439.40" stroke="#111" stroke-width="1.0"/>
<line x1="492.53" y1="438.00" x2="492.53" y2="439.40" stroke="#111" stroke-width="1.0"/>
<line x1="493.65" y1="438.00" x2="493.65" y2="440.60" stroke="#111" stroke-width="1.0"/>
<line x1="501.03" y1="438.00" x2="501.03" y2="439.40" stroke="#111" stroke-width="1.0"/>
<line x1="505.35" y1="438.00" x2="505.35" y2="439.40" stroke="#111" stroke-width="1.0"/>
<line x1="508.42" y1="438.00" x2="508.42" y2="439.40" stroke="#111" stroke-width="1.0"/>
<line x1="510.79" y1="438.00" x2="510.79" y2="439.40" stroke="#111" stroke-width="1.0"/>
<line x1="512.73" y1="438.00" x2="512.73" y2="439.40" stroke="#111" stroke-width="1.0"/>
<line x1="514.38" y1="438.00" x2="514.38" y2="439.40" stroke="#111" stroke-width="1.0"/>
<line x1="515.80" y1="438.00" x2="515.80" y2="439.40" stroke="#111" stroke-width="1.0"/>
<line x1="517.05" y1="438.00" x2="517.05" y2="439.40" stroke="#111" stroke-width="1.0"/>
<line x1="518.18" y1="438.00" x2="518.18" y2="440.60" stroke="#111" stroke-width="1.0"/>
<line x1="525.56" y1="438.00" x2="525.56" y2="439.40" stroke="#111" stroke-width="1.0"/>
<line x1="529.88" y1="438.00" x2="529.88" y2="439.40" stroke="#111" stroke-width="1.0"/>
<line x1="532.94" y1="438.00" x2="532.94" y2="439.40" stroke="#111" stroke-width="1.0"/>
<line x1="535.32" y1="438.00" x2="535.32" y2="439.40" stroke="#111" stroke-width="1.0"/>
<line x1="537.26" y1="438.00" x2="537.26" y2="439.40" stroke="#111" stroke-width="1.0"/>
<line x1="538.90" y1="438.00" x2="538.90" y2="439.40" stroke="#111" stroke-width="1.0"/>
<line x1="540.32" y1="438.00" x2="540.32" y2="439.40" stroke="#111" stroke-width="1.0"/>
<line x1="541.58" y1="438.00" x2="541.58" y2="439.40" stroke="#111" stroke-width="1.0"/>
<line x1="542.70" y1="438.00" x2="542.70" y2="440.60" stroke="#111" stroke-width="1.0"/>
<text x="440.00" y="436.30" font-size="6.6" text-anchor="middle" fill="#444" stroke="#444" stroke-width="0.3" transform="rotate(-90 440.00 436.30)">0</text>
<text x="440.00" y="419.64" font-size="6.6" text-anchor="middle" fill="#444" stroke="#444" stroke-width="0.3" transform="rotate(-90 440.00 419.64)">200</text>
<text x="440.00" y="402.98" font-size="6.6" text-anchor="middle" fill="#444" stroke="#444" stroke-width="0.3" transform="rotate(-90 440.00 402.98)">400</text>
<text x="440.00" y="386.32" font-size="6.6" text-anchor="middle" fill="#444" stroke="#444" stroke-width="0.3" transform="rotate(-90 440.00 386.32)">600</text>
<text x="440.00" y="369.66" font-size="6.6" text-anchor="middle" fill="#444" stroke="#444" stroke-width="0.3" transform="rotate(-90 440.00 369.66)">800</text>
<text x="440.00" y="353.00" font-size="6.6" text-anchor="middle" fill="#444" stroke="#444" stroke-width="0.3" transform="rotate(-90 440.00 353.00)">1000</text>
<text x="444.00" y="448.60" font-size="7" fill="#444" stroke="#444" stroke-width="0.3" text-anchor="middle">10<tspan font-size="5.8" dy="-2.9">0</tspan></text>
<text x="468.52" y="448.60" font-size="7" fill="#444" stroke="#444" stroke-width="0.3" text-anchor="middle">10<tspan font-size="5.8" dy="-2.9">1</tspan></text>
<text x="493.05" y="448.60" font-size="7" fill="#444" stroke="#444" stroke-width="0.3" text-anchor="middle">10<tspan font-size="5.8" dy="-2.9">2</tspan></text>
<text x="517.58" y="448.60" font-size="7" fill="#444" stroke="#444" stroke-width="0.3" text-anchor="middle">10<tspan font-size="5.8" dy="-2.9">3</tspan></text>
<text x="542.10" y="448.60" font-size="7" fill="#444" stroke="#444" stroke-width="0.3" text-anchor="middle">10<tspan font-size="5.8" dy="-2.9">4</tspan></text>
<text x="459.80" y="460.00" font-size="10.75" fill="#222" stroke="#222" stroke-width="0.05" textLength="71.80" lengthAdjust="spacingAndGlyphs">CD8-APC (FMO)</text>
<text x="426.30" y="393.80" font-size="11.77" text-anchor="middle" fill="#222" stroke="#222" stroke-width="0.05" textLength="22.30" lengthAdjust="spacingAndGlyphs" transform="rotate(-90 426.30 393.80)">SSC</text>
<text x="470.80" y="345.00" font-size="10.08" fill="#222" stroke="#222" stroke-width="0.12" textLength="29.70" lengthAdjust="spacingAndGlyphs">CD45+</text>
<text x="517.50" y="407.30" font-size="7.39" fill="#555" stroke="#555" stroke-width="0.3" textLength="16.60" lengthAdjust="spacingAndGlyphs">CD8+</text>
</svg>
</body></html>
